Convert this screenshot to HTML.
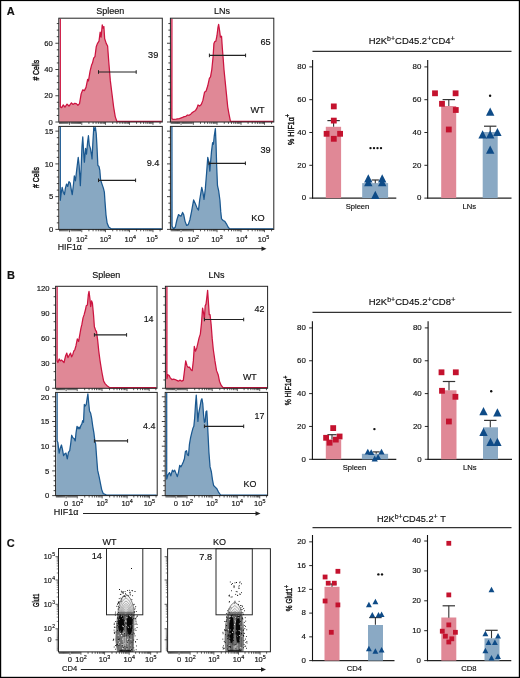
<!DOCTYPE html>
<html><head><meta charset="utf-8"><style>
html,body{margin:0;padding:0;background:#fff;}
body{width:520px;height:678px;overflow:hidden;}
svg{display:block;will-change:transform;}
text{font-family:"Liberation Sans", sans-serif;stroke:#111;stroke-width:0.16px;}
</style></head><body>
<svg width="520" height="678" viewBox="0 0 520 678">
<rect x="0" y="0" width="520" height="678" fill="#fff"/>
<path d="M59.30,122.00 L60.30,18.70 L60.30,106.87 L61.68,107.68 L63.30,104.92 L64.92,107.20 L67.03,104.11 L68.98,106.06 L71.42,102.82 L73.04,104.44 L74.66,103.30 L76.28,103.63 L77.91,105.25 L79.53,103.63 L81.15,93.89 L82.77,89.83 L84.40,90.65 L86.02,87.40 L87.64,79.29 L88.45,80.91 L90.08,71.17 L91.70,64.68 L92.51,63.06 L93.65,58.19 L94.95,56.57 L96.24,46.83 L97.38,43.59 L99.00,41.15 L100.14,32.23 L101.11,37.10 L102.25,24.92 L103.06,28.17 L103.87,26.55 L104.68,38.72 L106.30,43.59 L107.60,46.02 L108.74,61.44 L110.36,80.91 L111.98,93.89 L113.61,106.87 L115.23,116.61 L116.85,121.40 L120.10,121.40 L135.51,121.40 L161.80,121.40 L161.80,122.00 Z" fill="#e08896" stroke="none"/>
<path d="M60.30,18.70 L60.30,106.87 L61.68,107.68 L63.30,104.92 L64.92,107.20 L67.03,104.11 L68.98,106.06 L71.42,102.82 L73.04,104.44 L74.66,103.30 L76.28,103.63 L77.91,105.25 L79.53,103.63 L81.15,93.89 L82.77,89.83 L84.40,90.65 L86.02,87.40 L87.64,79.29 L88.45,80.91 L90.08,71.17 L91.70,64.68 L92.51,63.06 L93.65,58.19 L94.95,56.57 L96.24,46.83 L97.38,43.59 L99.00,41.15 L100.14,32.23 L101.11,37.10 L102.25,24.92 L103.06,28.17 L103.87,26.55 L104.68,38.72 L106.30,43.59 L107.60,46.02 L108.74,61.44 L110.36,80.91 L111.98,93.89 L113.61,106.87 L115.23,116.61 L116.85,121.40 L120.10,121.40 L135.51,121.40 L161.80,121.40" fill="none" stroke="#cc1440" stroke-width="1.25" stroke-linejoin="round"/>
<path d="M170.90,122.00 L171.90,18.70 L171.90,118.56 L172.87,119.37 L176.11,119.04 L179.36,118.56 L182.60,117.42 L184.23,116.61 L185.85,116.28 L187.47,114.99 L189.10,115.31 L190.72,114.17 L192.34,112.55 L193.96,111.42 L195.59,110.44 L197.21,107.68 L198.02,104.92 L199.64,106.06 L201.27,104.44 L202.89,100.38 L204.51,92.27 L206.13,90.97 L207.76,85.78 L209.38,78.47 L210.52,76.85 L211.81,69.55 L213.11,56.57 L213.92,43.59 L214.73,41.64 L215.87,41.15 L217.01,35.47 L217.98,27.36 L218.63,24.44 L219.60,30.60 L220.41,37.10 L221.55,36.28 L222.36,48.45 L223.17,58.19 L223.98,69.55 L225.12,80.91 L226.42,93.89 L227.72,106.87 L228.85,113.36 L230.47,121.40 L232.10,121.40 L247.51,121.40 L273.30,121.40 L273.30,122.00 Z" fill="#e08896" stroke="none"/>
<path d="M171.90,18.70 L171.90,118.56 L172.87,119.37 L176.11,119.04 L179.36,118.56 L182.60,117.42 L184.23,116.61 L185.85,116.28 L187.47,114.99 L189.10,115.31 L190.72,114.17 L192.34,112.55 L193.96,111.42 L195.59,110.44 L197.21,107.68 L198.02,104.92 L199.64,106.06 L201.27,104.44 L202.89,100.38 L204.51,92.27 L206.13,90.97 L207.76,85.78 L209.38,78.47 L210.52,76.85 L211.81,69.55 L213.11,56.57 L213.92,43.59 L214.73,41.64 L215.87,41.15 L217.01,35.47 L217.98,27.36 L218.63,24.44 L219.60,30.60 L220.41,37.10 L221.55,36.28 L222.36,48.45 L223.17,58.19 L223.98,69.55 L225.12,80.91 L226.42,93.89 L227.72,106.87 L228.85,113.36 L230.47,121.40 L232.10,121.40 L247.51,121.40 L273.30,121.40" fill="none" stroke="#cc1440" stroke-width="1.25" stroke-linejoin="round"/>
<path d="M59.30,229.40 L60.30,126.90 L60.30,200.27 L60.87,195.40 L62.17,187.29 L63.30,192.15 L64.44,194.59 L65.41,188.10 L66.55,184.04 L67.68,186.47 L68.98,181.61 L70.28,183.23 L71.42,190.53 L72.23,194.59 L73.53,184.04 L74.34,175.93 L75.47,180.80 L76.77,169.44 L78.23,157.27 L79.20,166.19 L80.34,185.66 L81.15,167.81 L81.96,146.72 L82.77,136.98 L83.59,151.59 L84.40,162.13 L85.53,148.34 L86.51,154.02 L87.64,141.85 L88.45,135.68 L89.27,145.10 L90.40,148.34 L91.38,154.02 L92.02,158.89 L93.00,140.23 L93.81,126.92 L94.62,130.49 L95.43,127.57 L96.24,133.74 L96.89,145.10 L97.87,165.38 L99.00,166.52 L99.81,170.25 L100.62,179.98 L102.25,184.85 L103.38,188.10 L104.36,192.15 L105.01,201.89 L105.98,214.87 L107.12,222.99 L108.74,227.04 L111.17,228.80 L116.04,228.80 L135.51,228.80 L161.80,228.80 L161.80,229.40 Z" fill="#88a8c2" stroke="none"/>
<path d="M60.30,126.90 L60.30,200.27 L60.87,195.40 L62.17,187.29 L63.30,192.15 L64.44,194.59 L65.41,188.10 L66.55,184.04 L67.68,186.47 L68.98,181.61 L70.28,183.23 L71.42,190.53 L72.23,194.59 L73.53,184.04 L74.34,175.93 L75.47,180.80 L76.77,169.44 L78.23,157.27 L79.20,166.19 L80.34,185.66 L81.15,167.81 L81.96,146.72 L82.77,136.98 L83.59,151.59 L84.40,162.13 L85.53,148.34 L86.51,154.02 L87.64,141.85 L88.45,135.68 L89.27,145.10 L90.40,148.34 L91.38,154.02 L92.02,158.89 L93.00,140.23 L93.81,126.92 L94.62,130.49 L95.43,127.57 L96.24,133.74 L96.89,145.10 L97.87,165.38 L99.00,166.52 L99.81,170.25 L100.62,179.98 L102.25,184.85 L103.38,188.10 L104.36,192.15 L105.01,201.89 L105.98,214.87 L107.12,222.99 L108.74,227.04 L111.17,228.80 L116.04,228.80 L135.51,228.80 L161.80,228.80" fill="none" stroke="#1a5890" stroke-width="1.25" stroke-linejoin="round"/>
<path d="M170.90,229.40 L171.90,126.90 L172.06,226.23 L173.68,228.80 L175.30,227.04 L176.92,219.74 L178.55,214.55 L179.68,215.68 L180.98,216.17 L182.60,212.44 L183.74,214.87 L185.04,221.36 L186.66,225.42 L188.28,224.61 L189.91,219.74 L191.53,211.63 L193.64,199.94 L195.26,203.51 L197.21,208.38 L198.51,210.00 L199.64,200.27 L201.75,187.29 L202.89,192.15 L204.02,199.46 L205.32,188.91 L206.62,172.68 L207.76,157.27 L208.89,162.13 L209.87,171.06 L210.52,162.95 L211.49,151.59 L212.62,142.66 L213.44,144.28 L214.25,136.17 L215.38,128.54 L216.03,143.47 L216.68,166.19 L217.49,185.66 L218.63,190.53 L219.93,200.27 L220.74,211.63 L221.55,218.93 L223.17,220.55 L224.80,221.36 L226.42,223.80 L228.04,227.04 L229.66,228.80 L247.51,228.80 L273.30,228.80 L273.30,229.40 Z" fill="#88a8c2" stroke="none"/>
<path d="M171.90,126.90 L172.06,226.23 L173.68,228.80 L175.30,227.04 L176.92,219.74 L178.55,214.55 L179.68,215.68 L180.98,216.17 L182.60,212.44 L183.74,214.87 L185.04,221.36 L186.66,225.42 L188.28,224.61 L189.91,219.74 L191.53,211.63 L193.64,199.94 L195.26,203.51 L197.21,208.38 L198.51,210.00 L199.64,200.27 L201.75,187.29 L202.89,192.15 L204.02,199.46 L205.32,188.91 L206.62,172.68 L207.76,157.27 L208.89,162.13 L209.87,171.06 L210.52,162.95 L211.49,151.59 L212.62,142.66 L213.44,144.28 L214.25,136.17 L215.38,128.54 L216.03,143.47 L216.68,166.19 L217.49,185.66 L218.63,190.53 L219.93,200.27 L220.74,211.63 L221.55,218.93 L223.17,220.55 L224.80,221.36 L226.42,223.80 L228.04,227.04 L229.66,228.80 L247.51,228.80 L273.30,228.80" fill="none" stroke="#1a5890" stroke-width="1.25" stroke-linejoin="round"/>
<path d="M56.10,388.30 L57.10,286.80 L57.10,360.89 L57.87,362.51 L59.17,358.94 L60.30,360.89 L61.44,360.08 L62.74,361.22 L64.03,362.51 L65.66,355.70 L66.79,353.10 L67.93,357.65 L69.23,355.21 L70.53,353.10 L71.66,356.83 L72.80,354.40 L73.77,351.15 L74.91,349.53 L76.04,345.47 L77.34,338.98 L78.64,341.42 L79.77,334.93 L80.91,328.44 L81.88,324.38 L83.02,317.89 L84.16,314.64 L85.45,309.77 L86.27,305.72 L87.40,304.91 L88.38,294.36 L89.02,291.44 L90.00,299.23 L90.65,306.53 L91.62,300.85 L92.43,303.28 L93.57,315.45 L94.38,326.81 L95.52,330.06 L96.49,331.68 L97.62,339.80 L98.76,351.15 L100.06,360.89 L101.36,369.00 L102.49,375.49 L103.63,381.17 L105.25,383.93 L107.36,386.04 L109.80,387.70 L113.04,387.70 L132.51,387.70 L156.50,387.70 L156.50,388.30 Z" fill="#e08896" stroke="none"/>
<path d="M57.10,286.80 L57.10,360.89 L57.87,362.51 L59.17,358.94 L60.30,360.89 L61.44,360.08 L62.74,361.22 L64.03,362.51 L65.66,355.70 L66.79,353.10 L67.93,357.65 L69.23,355.21 L70.53,353.10 L71.66,356.83 L72.80,354.40 L73.77,351.15 L74.91,349.53 L76.04,345.47 L77.34,338.98 L78.64,341.42 L79.77,334.93 L80.91,328.44 L81.88,324.38 L83.02,317.89 L84.16,314.64 L85.45,309.77 L86.27,305.72 L87.40,304.91 L88.38,294.36 L89.02,291.44 L90.00,299.23 L90.65,306.53 L91.62,300.85 L92.43,303.28 L93.57,315.45 L94.38,326.81 L95.52,330.06 L96.49,331.68 L97.62,339.80 L98.76,351.15 L100.06,360.89 L101.36,369.00 L102.49,375.49 L103.63,381.17 L105.25,383.93 L107.36,386.04 L109.80,387.70 L113.04,387.70 L132.51,387.70 L156.50,387.70" fill="none" stroke="#cc1440" stroke-width="1.25" stroke-linejoin="round"/>
<path d="M165.90,388.30 L166.90,286.80 L166.90,378.74 L167.87,374.68 L169.17,375.49 L170.30,377.93 L171.92,379.55 L173.55,379.06 L175.17,379.55 L176.79,380.36 L178.42,381.17 L180.04,380.04 L181.66,381.17 L183.28,380.36 L184.42,371.44 L185.72,360.89 L187.02,365.76 L188.15,367.38 L189.45,367.06 L190.91,369.82 L192.21,370.63 L193.34,360.89 L194.32,346.29 L195.45,351.15 L196.75,347.91 L197.89,343.04 L199.02,338.17 L200.32,334.12 L201.46,323.57 L202.59,308.15 L203.57,313.02 L204.38,318.70 L205.19,305.72 L206.00,304.10 L206.81,297.60 L207.62,290.30 L208.44,302.47 L209.25,314.64 L210.06,314.64 L211.19,325.19 L212.17,338.17 L213.30,349.53 L214.93,360.89 L216.55,370.63 L218.17,374.68 L219.47,381.17 L221.09,385.23 L223.04,387.70 L226.29,387.70 L242.51,387.70 L267.10,387.70 L267.10,388.30 Z" fill="#e08896" stroke="none"/>
<path d="M166.90,286.80 L166.90,378.74 L167.87,374.68 L169.17,375.49 L170.30,377.93 L171.92,379.55 L173.55,379.06 L175.17,379.55 L176.79,380.36 L178.42,381.17 L180.04,380.04 L181.66,381.17 L183.28,380.36 L184.42,371.44 L185.72,360.89 L187.02,365.76 L188.15,367.38 L189.45,367.06 L190.91,369.82 L192.21,370.63 L193.34,360.89 L194.32,346.29 L195.45,351.15 L196.75,347.91 L197.89,343.04 L199.02,338.17 L200.32,334.12 L201.46,323.57 L202.59,308.15 L203.57,313.02 L204.38,318.70 L205.19,305.72 L206.00,304.10 L206.81,297.60 L207.62,290.30 L208.44,302.47 L209.25,314.64 L210.06,314.64 L211.19,325.19 L212.17,338.17 L213.30,349.53 L214.93,360.89 L216.55,370.63 L218.17,374.68 L219.47,381.17 L221.09,385.23 L223.04,387.70 L226.29,387.70 L242.51,387.70 L267.10,387.70" fill="none" stroke="#cc1440" stroke-width="1.25" stroke-linejoin="round"/>
<path d="M56.10,495.60 L57.10,392.90 L57.10,440.93 L57.87,442.55 L59.17,453.10 L60.30,448.23 L61.44,444.98 L62.41,449.04 L63.55,455.53 L64.68,453.91 L65.98,453.10 L67.28,458.78 L68.42,452.29 L69.71,450.66 L70.85,442.55 L71.66,435.25 L72.80,437.68 L74.10,438.49 L75.23,440.93 L76.04,432.81 L77.02,426.32 L78.15,428.76 L78.96,427.13 L79.77,428.76 L80.91,425.51 L81.88,423.89 L82.70,420.64 L83.51,422.27 L84.32,404.42 L85.13,406.04 L86.27,404.42 L87.08,398.74 L87.89,393.87 L88.70,402.79 L89.51,410.91 L90.65,413.34 L91.62,418.21 L92.76,426.32 L93.89,432.81 L94.87,440.93 L95.68,444.17 L96.49,455.53 L97.62,470.14 L99.25,477.44 L100.38,483.12 L101.68,489.61 L103.30,493.67 L106.55,495.00 L132.51,495.00 L156.70,495.00 L156.70,495.60 Z" fill="#88a8c2" stroke="none"/>
<path d="M57.10,392.90 L57.10,440.93 L57.87,442.55 L59.17,453.10 L60.30,448.23 L61.44,444.98 L62.41,449.04 L63.55,455.53 L64.68,453.91 L65.98,453.10 L67.28,458.78 L68.42,452.29 L69.71,450.66 L70.85,442.55 L71.66,435.25 L72.80,437.68 L74.10,438.49 L75.23,440.93 L76.04,432.81 L77.02,426.32 L78.15,428.76 L78.96,427.13 L79.77,428.76 L80.91,425.51 L81.88,423.89 L82.70,420.64 L83.51,422.27 L84.32,404.42 L85.13,406.04 L86.27,404.42 L87.08,398.74 L87.89,393.87 L88.70,402.79 L89.51,410.91 L90.65,413.34 L91.62,418.21 L92.76,426.32 L93.89,432.81 L94.87,440.93 L95.68,444.17 L96.49,455.53 L97.62,470.14 L99.25,477.44 L100.38,483.12 L101.68,489.61 L103.30,493.67 L106.55,495.00 L132.51,495.00 L156.70,495.00" fill="none" stroke="#1a5890" stroke-width="1.25" stroke-linejoin="round"/>
<path d="M165.70,495.60 L166.70,392.90 L166.70,479.06 L167.87,475.00 L169.49,472.57 L170.79,475.82 L172.41,470.14 L173.55,471.76 L174.68,470.14 L175.98,473.38 L177.28,476.63 L178.42,472.57 L179.71,465.27 L180.85,466.89 L182.15,464.46 L183.28,462.02 L184.42,458.78 L185.39,451.47 L186.53,450.66 L187.34,454.72 L188.48,455.53 L189.45,444.17 L190.59,437.68 L191.72,432.81 L193.02,427.95 L193.83,426.32 L194.64,418.21 L195.45,405.23 L196.27,395.17 L197.08,408.47 L197.89,421.45 L198.70,413.34 L200.00,406.85 L201.13,400.36 L201.95,398.74 L202.76,403.60 L203.57,414.96 L204.38,422.27 L205.19,421.45 L206.00,411.72 L206.81,410.91 L207.30,419.83 L207.95,432.81 L208.92,452.29 L210.06,466.89 L211.36,471.76 L212.49,479.87 L213.63,485.55 L215.25,487.17 L216.87,488.80 L218.50,492.04 L220.61,495.00 L224.66,495.00 L242.51,495.00 L267.10,495.00 L267.10,495.60 Z" fill="#88a8c2" stroke="none"/>
<path d="M166.70,392.90 L166.70,479.06 L167.87,475.00 L169.49,472.57 L170.79,475.82 L172.41,470.14 L173.55,471.76 L174.68,470.14 L175.98,473.38 L177.28,476.63 L178.42,472.57 L179.71,465.27 L180.85,466.89 L182.15,464.46 L183.28,462.02 L184.42,458.78 L185.39,451.47 L186.53,450.66 L187.34,454.72 L188.48,455.53 L189.45,444.17 L190.59,437.68 L191.72,432.81 L193.02,427.95 L193.83,426.32 L194.64,418.21 L195.45,405.23 L196.27,395.17 L197.08,408.47 L197.89,421.45 L198.70,413.34 L200.00,406.85 L201.13,400.36 L201.95,398.74 L202.76,403.60 L203.57,414.96 L204.38,422.27 L205.19,421.45 L206.00,411.72 L206.81,410.91 L207.30,419.83 L207.95,432.81 L208.92,452.29 L210.06,466.89 L211.36,471.76 L212.49,479.87 L213.63,485.55 L215.25,487.17 L216.87,488.80 L218.50,492.04 L220.61,495.00 L224.66,495.00 L242.51,495.00 L267.10,495.00" fill="none" stroke="#1a5890" stroke-width="1.25" stroke-linejoin="round"/>
<rect x="58.80" y="18.20" width="103.50" height="103.80" fill="none" stroke="#222" stroke-width="1.0"/>
<rect x="170.40" y="18.20" width="103.40" height="103.80" fill="none" stroke="#222" stroke-width="1.0"/>
<rect x="58.80" y="126.40" width="103.50" height="103.00" fill="none" stroke="#222" stroke-width="1.0"/>
<rect x="170.40" y="126.40" width="103.40" height="103.00" fill="none" stroke="#222" stroke-width="1.0"/>
<rect x="55.60" y="286.30" width="101.40" height="102.00" fill="none" stroke="#222" stroke-width="1.0"/>
<rect x="165.40" y="286.30" width="102.20" height="102.00" fill="none" stroke="#222" stroke-width="1.0"/>
<rect x="55.60" y="392.40" width="101.60" height="103.20" fill="none" stroke="#222" stroke-width="1.0"/>
<rect x="165.20" y="392.40" width="102.40" height="103.20" fill="none" stroke="#222" stroke-width="1.0"/>
<line x1="55.40" y1="122.00" x2="58.80" y2="122.00" stroke="#222" stroke-width="0.85"/>
<line x1="56.80" y1="115.44" x2="58.80" y2="115.44" stroke="#222" stroke-width="0.85"/>
<line x1="56.80" y1="108.88" x2="58.80" y2="108.88" stroke="#222" stroke-width="0.85"/>
<line x1="56.80" y1="102.31" x2="58.80" y2="102.31" stroke="#222" stroke-width="0.85"/>
<line x1="55.40" y1="95.75" x2="58.80" y2="95.75" stroke="#222" stroke-width="0.85"/>
<line x1="56.80" y1="89.19" x2="58.80" y2="89.19" stroke="#222" stroke-width="0.85"/>
<line x1="56.80" y1="82.62" x2="58.80" y2="82.62" stroke="#222" stroke-width="0.85"/>
<line x1="56.80" y1="76.06" x2="58.80" y2="76.06" stroke="#222" stroke-width="0.85"/>
<line x1="55.40" y1="69.50" x2="58.80" y2="69.50" stroke="#222" stroke-width="0.85"/>
<line x1="56.80" y1="62.94" x2="58.80" y2="62.94" stroke="#222" stroke-width="0.85"/>
<line x1="56.80" y1="56.38" x2="58.80" y2="56.38" stroke="#222" stroke-width="0.85"/>
<line x1="56.80" y1="49.81" x2="58.80" y2="49.81" stroke="#222" stroke-width="0.85"/>
<line x1="55.40" y1="43.25" x2="58.80" y2="43.25" stroke="#222" stroke-width="0.85"/>
<line x1="56.80" y1="36.69" x2="58.80" y2="36.69" stroke="#222" stroke-width="0.85"/>
<line x1="56.80" y1="30.12" x2="58.80" y2="30.12" stroke="#222" stroke-width="0.85"/>
<line x1="56.80" y1="23.56" x2="58.80" y2="23.56" stroke="#222" stroke-width="0.85"/>
<text x="52.90" y="124.70" font-size="7.7" text-anchor="end" font-weight="normal" fill="#111" >0</text>
<text x="52.90" y="98.45" font-size="7.7" text-anchor="end" font-weight="normal" fill="#111" >20</text>
<text x="52.90" y="72.20" font-size="7.7" text-anchor="end" font-weight="normal" fill="#111" >40</text>
<text x="52.90" y="45.95" font-size="7.7" text-anchor="end" font-weight="normal" fill="#111" >60</text>
<line x1="55.40" y1="229.40" x2="58.80" y2="229.40" stroke="#222" stroke-width="0.85"/>
<line x1="56.80" y1="222.85" x2="58.80" y2="222.85" stroke="#222" stroke-width="0.85"/>
<line x1="56.80" y1="216.30" x2="58.80" y2="216.30" stroke="#222" stroke-width="0.85"/>
<line x1="56.80" y1="209.75" x2="58.80" y2="209.75" stroke="#222" stroke-width="0.85"/>
<line x1="56.80" y1="203.20" x2="58.80" y2="203.20" stroke="#222" stroke-width="0.85"/>
<line x1="55.40" y1="196.65" x2="58.80" y2="196.65" stroke="#222" stroke-width="0.85"/>
<line x1="56.80" y1="190.10" x2="58.80" y2="190.10" stroke="#222" stroke-width="0.85"/>
<line x1="56.80" y1="183.55" x2="58.80" y2="183.55" stroke="#222" stroke-width="0.85"/>
<line x1="56.80" y1="177.00" x2="58.80" y2="177.00" stroke="#222" stroke-width="0.85"/>
<line x1="56.80" y1="170.45" x2="58.80" y2="170.45" stroke="#222" stroke-width="0.85"/>
<line x1="55.40" y1="163.90" x2="58.80" y2="163.90" stroke="#222" stroke-width="0.85"/>
<line x1="56.80" y1="157.35" x2="58.80" y2="157.35" stroke="#222" stroke-width="0.85"/>
<line x1="56.80" y1="150.80" x2="58.80" y2="150.80" stroke="#222" stroke-width="0.85"/>
<line x1="56.80" y1="144.25" x2="58.80" y2="144.25" stroke="#222" stroke-width="0.85"/>
<line x1="56.80" y1="137.70" x2="58.80" y2="137.70" stroke="#222" stroke-width="0.85"/>
<line x1="55.40" y1="131.15" x2="58.80" y2="131.15" stroke="#222" stroke-width="0.85"/>
<text x="53.20" y="232.10" font-size="7.7" text-anchor="end" font-weight="normal" fill="#111" >0</text>
<text x="53.20" y="199.35" font-size="7.7" text-anchor="end" font-weight="normal" fill="#111" >5</text>
<text x="53.20" y="166.60" font-size="7.7" text-anchor="end" font-weight="normal" fill="#111" >10</text>
<text x="53.20" y="133.85" font-size="7.7" text-anchor="end" font-weight="normal" fill="#111" >15</text>
<line x1="167.00" y1="122.00" x2="170.40" y2="122.00" stroke="#222" stroke-width="0.85"/>
<line x1="168.40" y1="115.44" x2="170.40" y2="115.44" stroke="#222" stroke-width="0.85"/>
<line x1="168.40" y1="108.88" x2="170.40" y2="108.88" stroke="#222" stroke-width="0.85"/>
<line x1="168.40" y1="102.31" x2="170.40" y2="102.31" stroke="#222" stroke-width="0.85"/>
<line x1="167.00" y1="95.75" x2="170.40" y2="95.75" stroke="#222" stroke-width="0.85"/>
<line x1="168.40" y1="89.19" x2="170.40" y2="89.19" stroke="#222" stroke-width="0.85"/>
<line x1="168.40" y1="82.62" x2="170.40" y2="82.62" stroke="#222" stroke-width="0.85"/>
<line x1="168.40" y1="76.06" x2="170.40" y2="76.06" stroke="#222" stroke-width="0.85"/>
<line x1="167.00" y1="69.50" x2="170.40" y2="69.50" stroke="#222" stroke-width="0.85"/>
<line x1="168.40" y1="62.94" x2="170.40" y2="62.94" stroke="#222" stroke-width="0.85"/>
<line x1="168.40" y1="56.38" x2="170.40" y2="56.38" stroke="#222" stroke-width="0.85"/>
<line x1="168.40" y1="49.81" x2="170.40" y2="49.81" stroke="#222" stroke-width="0.85"/>
<line x1="167.00" y1="43.25" x2="170.40" y2="43.25" stroke="#222" stroke-width="0.85"/>
<line x1="168.40" y1="36.69" x2="170.40" y2="36.69" stroke="#222" stroke-width="0.85"/>
<line x1="168.40" y1="30.12" x2="170.40" y2="30.12" stroke="#222" stroke-width="0.85"/>
<line x1="168.40" y1="23.56" x2="170.40" y2="23.56" stroke="#222" stroke-width="0.85"/>
<line x1="167.00" y1="229.40" x2="170.40" y2="229.40" stroke="#222" stroke-width="0.85"/>
<line x1="168.40" y1="222.85" x2="170.40" y2="222.85" stroke="#222" stroke-width="0.85"/>
<line x1="168.40" y1="216.30" x2="170.40" y2="216.30" stroke="#222" stroke-width="0.85"/>
<line x1="168.40" y1="209.75" x2="170.40" y2="209.75" stroke="#222" stroke-width="0.85"/>
<line x1="168.40" y1="203.20" x2="170.40" y2="203.20" stroke="#222" stroke-width="0.85"/>
<line x1="167.00" y1="196.65" x2="170.40" y2="196.65" stroke="#222" stroke-width="0.85"/>
<line x1="168.40" y1="190.10" x2="170.40" y2="190.10" stroke="#222" stroke-width="0.85"/>
<line x1="168.40" y1="183.55" x2="170.40" y2="183.55" stroke="#222" stroke-width="0.85"/>
<line x1="168.40" y1="177.00" x2="170.40" y2="177.00" stroke="#222" stroke-width="0.85"/>
<line x1="168.40" y1="170.45" x2="170.40" y2="170.45" stroke="#222" stroke-width="0.85"/>
<line x1="167.00" y1="163.90" x2="170.40" y2="163.90" stroke="#222" stroke-width="0.85"/>
<line x1="168.40" y1="157.35" x2="170.40" y2="157.35" stroke="#222" stroke-width="0.85"/>
<line x1="168.40" y1="150.80" x2="170.40" y2="150.80" stroke="#222" stroke-width="0.85"/>
<line x1="168.40" y1="144.25" x2="170.40" y2="144.25" stroke="#222" stroke-width="0.85"/>
<line x1="168.40" y1="137.70" x2="170.40" y2="137.70" stroke="#222" stroke-width="0.85"/>
<line x1="167.00" y1="131.15" x2="170.40" y2="131.15" stroke="#222" stroke-width="0.85"/>
<line x1="52.20" y1="388.30" x2="55.60" y2="388.30" stroke="#222" stroke-width="0.85"/>
<line x1="53.60" y1="379.98" x2="55.60" y2="379.98" stroke="#222" stroke-width="0.85"/>
<line x1="53.60" y1="371.65" x2="55.60" y2="371.65" stroke="#222" stroke-width="0.85"/>
<line x1="52.20" y1="363.33" x2="55.60" y2="363.33" stroke="#222" stroke-width="0.85"/>
<line x1="53.60" y1="355.01" x2="55.60" y2="355.01" stroke="#222" stroke-width="0.85"/>
<line x1="53.60" y1="346.68" x2="55.60" y2="346.68" stroke="#222" stroke-width="0.85"/>
<line x1="52.20" y1="338.36" x2="55.60" y2="338.36" stroke="#222" stroke-width="0.85"/>
<line x1="53.60" y1="330.04" x2="55.60" y2="330.04" stroke="#222" stroke-width="0.85"/>
<line x1="53.60" y1="321.71" x2="55.60" y2="321.71" stroke="#222" stroke-width="0.85"/>
<line x1="52.20" y1="313.39" x2="55.60" y2="313.39" stroke="#222" stroke-width="0.85"/>
<line x1="53.60" y1="305.07" x2="55.60" y2="305.07" stroke="#222" stroke-width="0.85"/>
<line x1="53.60" y1="296.74" x2="55.60" y2="296.74" stroke="#222" stroke-width="0.85"/>
<line x1="52.20" y1="288.42" x2="55.60" y2="288.42" stroke="#222" stroke-width="0.85"/>
<text x="49.60" y="391.00" font-size="7.7" text-anchor="end" font-weight="normal" fill="#111" >0</text>
<text x="49.60" y="366.03" font-size="7.7" text-anchor="end" font-weight="normal" fill="#111" >30</text>
<text x="49.60" y="341.06" font-size="7.7" text-anchor="end" font-weight="normal" fill="#111" >60</text>
<text x="49.60" y="316.09" font-size="7.7" text-anchor="end" font-weight="normal" fill="#111" >90</text>
<text x="49.60" y="291.12" font-size="7.7" text-anchor="end" font-weight="normal" fill="#111" >120</text>
<line x1="162.00" y1="388.30" x2="165.40" y2="388.30" stroke="#222" stroke-width="0.85"/>
<line x1="163.40" y1="379.98" x2="165.40" y2="379.98" stroke="#222" stroke-width="0.85"/>
<line x1="163.40" y1="371.65" x2="165.40" y2="371.65" stroke="#222" stroke-width="0.85"/>
<line x1="162.00" y1="363.33" x2="165.40" y2="363.33" stroke="#222" stroke-width="0.85"/>
<line x1="163.40" y1="355.01" x2="165.40" y2="355.01" stroke="#222" stroke-width="0.85"/>
<line x1="163.40" y1="346.68" x2="165.40" y2="346.68" stroke="#222" stroke-width="0.85"/>
<line x1="162.00" y1="338.36" x2="165.40" y2="338.36" stroke="#222" stroke-width="0.85"/>
<line x1="163.40" y1="330.04" x2="165.40" y2="330.04" stroke="#222" stroke-width="0.85"/>
<line x1="163.40" y1="321.71" x2="165.40" y2="321.71" stroke="#222" stroke-width="0.85"/>
<line x1="162.00" y1="313.39" x2="165.40" y2="313.39" stroke="#222" stroke-width="0.85"/>
<line x1="163.40" y1="305.07" x2="165.40" y2="305.07" stroke="#222" stroke-width="0.85"/>
<line x1="163.40" y1="296.74" x2="165.40" y2="296.74" stroke="#222" stroke-width="0.85"/>
<line x1="162.00" y1="288.42" x2="165.40" y2="288.42" stroke="#222" stroke-width="0.85"/>
<line x1="52.20" y1="495.60" x2="55.60" y2="495.60" stroke="#222" stroke-width="0.85"/>
<line x1="53.60" y1="490.66" x2="55.60" y2="490.66" stroke="#222" stroke-width="0.85"/>
<line x1="53.60" y1="485.72" x2="55.60" y2="485.72" stroke="#222" stroke-width="0.85"/>
<line x1="53.60" y1="480.78" x2="55.60" y2="480.78" stroke="#222" stroke-width="0.85"/>
<line x1="53.60" y1="475.84" x2="55.60" y2="475.84" stroke="#222" stroke-width="0.85"/>
<line x1="52.20" y1="470.90" x2="55.60" y2="470.90" stroke="#222" stroke-width="0.85"/>
<line x1="53.60" y1="465.96" x2="55.60" y2="465.96" stroke="#222" stroke-width="0.85"/>
<line x1="53.60" y1="461.02" x2="55.60" y2="461.02" stroke="#222" stroke-width="0.85"/>
<line x1="53.60" y1="456.08" x2="55.60" y2="456.08" stroke="#222" stroke-width="0.85"/>
<line x1="53.60" y1="451.14" x2="55.60" y2="451.14" stroke="#222" stroke-width="0.85"/>
<line x1="52.20" y1="446.20" x2="55.60" y2="446.20" stroke="#222" stroke-width="0.85"/>
<line x1="53.60" y1="441.26" x2="55.60" y2="441.26" stroke="#222" stroke-width="0.85"/>
<line x1="53.60" y1="436.32" x2="55.60" y2="436.32" stroke="#222" stroke-width="0.85"/>
<line x1="53.60" y1="431.38" x2="55.60" y2="431.38" stroke="#222" stroke-width="0.85"/>
<line x1="53.60" y1="426.44" x2="55.60" y2="426.44" stroke="#222" stroke-width="0.85"/>
<line x1="52.20" y1="421.50" x2="55.60" y2="421.50" stroke="#222" stroke-width="0.85"/>
<line x1="53.60" y1="416.56" x2="55.60" y2="416.56" stroke="#222" stroke-width="0.85"/>
<line x1="53.60" y1="411.62" x2="55.60" y2="411.62" stroke="#222" stroke-width="0.85"/>
<line x1="53.60" y1="406.68" x2="55.60" y2="406.68" stroke="#222" stroke-width="0.85"/>
<line x1="53.60" y1="401.74" x2="55.60" y2="401.74" stroke="#222" stroke-width="0.85"/>
<line x1="52.20" y1="396.80" x2="55.60" y2="396.80" stroke="#222" stroke-width="0.85"/>
<text x="49.40" y="498.30" font-size="7.7" text-anchor="end" font-weight="normal" fill="#111" >0</text>
<text x="49.40" y="473.60" font-size="7.7" text-anchor="end" font-weight="normal" fill="#111" >5</text>
<text x="49.40" y="448.90" font-size="7.7" text-anchor="end" font-weight="normal" fill="#111" >10</text>
<text x="49.40" y="424.20" font-size="7.7" text-anchor="end" font-weight="normal" fill="#111" >15</text>
<text x="49.40" y="399.50" font-size="7.7" text-anchor="end" font-weight="normal" fill="#111" >20</text>
<line x1="161.80" y1="495.60" x2="165.20" y2="495.60" stroke="#222" stroke-width="0.85"/>
<line x1="163.20" y1="490.66" x2="165.20" y2="490.66" stroke="#222" stroke-width="0.85"/>
<line x1="163.20" y1="485.72" x2="165.20" y2="485.72" stroke="#222" stroke-width="0.85"/>
<line x1="163.20" y1="480.78" x2="165.20" y2="480.78" stroke="#222" stroke-width="0.85"/>
<line x1="163.20" y1="475.84" x2="165.20" y2="475.84" stroke="#222" stroke-width="0.85"/>
<line x1="161.80" y1="470.90" x2="165.20" y2="470.90" stroke="#222" stroke-width="0.85"/>
<line x1="163.20" y1="465.96" x2="165.20" y2="465.96" stroke="#222" stroke-width="0.85"/>
<line x1="163.20" y1="461.02" x2="165.20" y2="461.02" stroke="#222" stroke-width="0.85"/>
<line x1="163.20" y1="456.08" x2="165.20" y2="456.08" stroke="#222" stroke-width="0.85"/>
<line x1="163.20" y1="451.14" x2="165.20" y2="451.14" stroke="#222" stroke-width="0.85"/>
<line x1="161.80" y1="446.20" x2="165.20" y2="446.20" stroke="#222" stroke-width="0.85"/>
<line x1="163.20" y1="441.26" x2="165.20" y2="441.26" stroke="#222" stroke-width="0.85"/>
<line x1="163.20" y1="436.32" x2="165.20" y2="436.32" stroke="#222" stroke-width="0.85"/>
<line x1="163.20" y1="431.38" x2="165.20" y2="431.38" stroke="#222" stroke-width="0.85"/>
<line x1="163.20" y1="426.44" x2="165.20" y2="426.44" stroke="#222" stroke-width="0.85"/>
<line x1="161.80" y1="421.50" x2="165.20" y2="421.50" stroke="#222" stroke-width="0.85"/>
<line x1="163.20" y1="416.56" x2="165.20" y2="416.56" stroke="#222" stroke-width="0.85"/>
<line x1="163.20" y1="411.62" x2="165.20" y2="411.62" stroke="#222" stroke-width="0.85"/>
<line x1="163.20" y1="406.68" x2="165.20" y2="406.68" stroke="#222" stroke-width="0.85"/>
<line x1="163.20" y1="401.74" x2="165.20" y2="401.74" stroke="#222" stroke-width="0.85"/>
<line x1="161.80" y1="396.80" x2="165.20" y2="396.80" stroke="#222" stroke-width="0.85"/>
<line x1="59.60" y1="122.00" x2="59.60" y2="123.90" stroke="#222" stroke-width="0.75"/>
<line x1="60.65" y1="122.00" x2="60.65" y2="123.90" stroke="#222" stroke-width="0.75"/>
<line x1="61.70" y1="122.00" x2="61.70" y2="123.90" stroke="#222" stroke-width="0.75"/>
<line x1="62.75" y1="122.00" x2="62.75" y2="123.90" stroke="#222" stroke-width="0.75"/>
<line x1="63.80" y1="122.00" x2="63.80" y2="123.90" stroke="#222" stroke-width="0.75"/>
<line x1="64.85" y1="122.00" x2="64.85" y2="123.90" stroke="#222" stroke-width="0.75"/>
<line x1="65.90" y1="122.00" x2="65.90" y2="123.90" stroke="#222" stroke-width="0.75"/>
<line x1="66.95" y1="122.00" x2="66.95" y2="123.90" stroke="#222" stroke-width="0.75"/>
<line x1="68.00" y1="122.00" x2="68.00" y2="123.90" stroke="#222" stroke-width="0.75"/>
<line x1="69.46" y1="122.00" x2="69.46" y2="124.80" stroke="#222" stroke-width="0.75"/>
<line x1="71.06" y1="122.00" x2="71.06" y2="123.90" stroke="#222" stroke-width="0.75"/>
<line x1="72.11" y1="122.00" x2="72.11" y2="123.90" stroke="#222" stroke-width="0.75"/>
<line x1="73.16" y1="122.00" x2="73.16" y2="123.90" stroke="#222" stroke-width="0.75"/>
<line x1="74.21" y1="122.00" x2="74.21" y2="123.90" stroke="#222" stroke-width="0.75"/>
<line x1="75.26" y1="122.00" x2="75.26" y2="123.90" stroke="#222" stroke-width="0.75"/>
<line x1="76.31" y1="122.00" x2="76.31" y2="123.90" stroke="#222" stroke-width="0.75"/>
<line x1="77.36" y1="122.00" x2="77.36" y2="123.90" stroke="#222" stroke-width="0.75"/>
<line x1="78.41" y1="122.00" x2="78.41" y2="123.90" stroke="#222" stroke-width="0.75"/>
<line x1="79.46" y1="122.00" x2="79.46" y2="123.90" stroke="#222" stroke-width="0.75"/>
<line x1="80.51" y1="122.00" x2="80.51" y2="123.90" stroke="#222" stroke-width="0.75"/>
<line x1="88.91" y1="122.00" x2="88.91" y2="123.90" stroke="#222" stroke-width="0.75"/>
<line x1="93.09" y1="122.00" x2="93.09" y2="123.90" stroke="#222" stroke-width="0.75"/>
<line x1="96.05" y1="122.00" x2="96.05" y2="123.90" stroke="#222" stroke-width="0.75"/>
<line x1="98.34" y1="122.00" x2="98.34" y2="123.90" stroke="#222" stroke-width="0.75"/>
<line x1="100.22" y1="122.00" x2="100.22" y2="123.90" stroke="#222" stroke-width="0.75"/>
<line x1="101.81" y1="122.00" x2="101.81" y2="123.90" stroke="#222" stroke-width="0.75"/>
<line x1="103.18" y1="122.00" x2="103.18" y2="123.90" stroke="#222" stroke-width="0.75"/>
<line x1="104.39" y1="122.00" x2="104.39" y2="123.90" stroke="#222" stroke-width="0.75"/>
<line x1="112.71" y1="122.00" x2="112.71" y2="123.90" stroke="#222" stroke-width="0.75"/>
<line x1="116.94" y1="122.00" x2="116.94" y2="123.90" stroke="#222" stroke-width="0.75"/>
<line x1="119.94" y1="122.00" x2="119.94" y2="123.90" stroke="#222" stroke-width="0.75"/>
<line x1="122.26" y1="122.00" x2="122.26" y2="123.90" stroke="#222" stroke-width="0.75"/>
<line x1="124.16" y1="122.00" x2="124.16" y2="123.90" stroke="#222" stroke-width="0.75"/>
<line x1="125.77" y1="122.00" x2="125.77" y2="123.90" stroke="#222" stroke-width="0.75"/>
<line x1="127.16" y1="122.00" x2="127.16" y2="123.90" stroke="#222" stroke-width="0.75"/>
<line x1="128.39" y1="122.00" x2="128.39" y2="123.90" stroke="#222" stroke-width="0.75"/>
<line x1="136.56" y1="122.00" x2="136.56" y2="123.90" stroke="#222" stroke-width="0.75"/>
<line x1="140.70" y1="122.00" x2="140.70" y2="123.90" stroke="#222" stroke-width="0.75"/>
<line x1="143.64" y1="122.00" x2="143.64" y2="123.90" stroke="#222" stroke-width="0.75"/>
<line x1="145.91" y1="122.00" x2="145.91" y2="123.90" stroke="#222" stroke-width="0.75"/>
<line x1="147.77" y1="122.00" x2="147.77" y2="123.90" stroke="#222" stroke-width="0.75"/>
<line x1="149.35" y1="122.00" x2="149.35" y2="123.90" stroke="#222" stroke-width="0.75"/>
<line x1="150.71" y1="122.00" x2="150.71" y2="123.90" stroke="#222" stroke-width="0.75"/>
<line x1="151.91" y1="122.00" x2="151.91" y2="123.90" stroke="#222" stroke-width="0.75"/>
<line x1="81.78" y1="122.00" x2="81.78" y2="124.80" stroke="#222" stroke-width="0.75"/>
<line x1="105.48" y1="122.00" x2="105.48" y2="124.80" stroke="#222" stroke-width="0.75"/>
<line x1="129.49" y1="122.00" x2="129.49" y2="124.80" stroke="#222" stroke-width="0.75"/>
<line x1="152.99" y1="122.00" x2="152.99" y2="124.80" stroke="#222" stroke-width="0.75"/>
<line x1="160.06" y1="122.00" x2="160.06" y2="123.90" stroke="#222" stroke-width="0.75"/>
<line x1="171.20" y1="122.00" x2="171.20" y2="123.90" stroke="#222" stroke-width="0.75"/>
<line x1="172.25" y1="122.00" x2="172.25" y2="123.90" stroke="#222" stroke-width="0.75"/>
<line x1="173.30" y1="122.00" x2="173.30" y2="123.90" stroke="#222" stroke-width="0.75"/>
<line x1="174.35" y1="122.00" x2="174.35" y2="123.90" stroke="#222" stroke-width="0.75"/>
<line x1="175.40" y1="122.00" x2="175.40" y2="123.90" stroke="#222" stroke-width="0.75"/>
<line x1="176.45" y1="122.00" x2="176.45" y2="123.90" stroke="#222" stroke-width="0.75"/>
<line x1="177.50" y1="122.00" x2="177.50" y2="123.90" stroke="#222" stroke-width="0.75"/>
<line x1="178.55" y1="122.00" x2="178.55" y2="123.90" stroke="#222" stroke-width="0.75"/>
<line x1="179.60" y1="122.00" x2="179.60" y2="123.90" stroke="#222" stroke-width="0.75"/>
<line x1="181.05" y1="122.00" x2="181.05" y2="124.80" stroke="#222" stroke-width="0.75"/>
<line x1="182.65" y1="122.00" x2="182.65" y2="123.90" stroke="#222" stroke-width="0.75"/>
<line x1="183.70" y1="122.00" x2="183.70" y2="123.90" stroke="#222" stroke-width="0.75"/>
<line x1="184.75" y1="122.00" x2="184.75" y2="123.90" stroke="#222" stroke-width="0.75"/>
<line x1="185.80" y1="122.00" x2="185.80" y2="123.90" stroke="#222" stroke-width="0.75"/>
<line x1="186.85" y1="122.00" x2="186.85" y2="123.90" stroke="#222" stroke-width="0.75"/>
<line x1="187.90" y1="122.00" x2="187.90" y2="123.90" stroke="#222" stroke-width="0.75"/>
<line x1="188.95" y1="122.00" x2="188.95" y2="123.90" stroke="#222" stroke-width="0.75"/>
<line x1="190.00" y1="122.00" x2="190.00" y2="123.90" stroke="#222" stroke-width="0.75"/>
<line x1="191.05" y1="122.00" x2="191.05" y2="123.90" stroke="#222" stroke-width="0.75"/>
<line x1="192.10" y1="122.00" x2="192.10" y2="123.90" stroke="#222" stroke-width="0.75"/>
<line x1="200.48" y1="122.00" x2="200.48" y2="123.90" stroke="#222" stroke-width="0.75"/>
<line x1="204.65" y1="122.00" x2="204.65" y2="123.90" stroke="#222" stroke-width="0.75"/>
<line x1="207.61" y1="122.00" x2="207.61" y2="123.90" stroke="#222" stroke-width="0.75"/>
<line x1="209.91" y1="122.00" x2="209.91" y2="123.90" stroke="#222" stroke-width="0.75"/>
<line x1="211.78" y1="122.00" x2="211.78" y2="123.90" stroke="#222" stroke-width="0.75"/>
<line x1="213.37" y1="122.00" x2="213.37" y2="123.90" stroke="#222" stroke-width="0.75"/>
<line x1="214.74" y1="122.00" x2="214.74" y2="123.90" stroke="#222" stroke-width="0.75"/>
<line x1="215.95" y1="122.00" x2="215.95" y2="123.90" stroke="#222" stroke-width="0.75"/>
<line x1="224.25" y1="122.00" x2="224.25" y2="123.90" stroke="#222" stroke-width="0.75"/>
<line x1="228.48" y1="122.00" x2="228.48" y2="123.90" stroke="#222" stroke-width="0.75"/>
<line x1="231.48" y1="122.00" x2="231.48" y2="123.90" stroke="#222" stroke-width="0.75"/>
<line x1="233.80" y1="122.00" x2="233.80" y2="123.90" stroke="#222" stroke-width="0.75"/>
<line x1="235.70" y1="122.00" x2="235.70" y2="123.90" stroke="#222" stroke-width="0.75"/>
<line x1="237.31" y1="122.00" x2="237.31" y2="123.90" stroke="#222" stroke-width="0.75"/>
<line x1="238.70" y1="122.00" x2="238.70" y2="123.90" stroke="#222" stroke-width="0.75"/>
<line x1="239.92" y1="122.00" x2="239.92" y2="123.90" stroke="#222" stroke-width="0.75"/>
<line x1="248.09" y1="122.00" x2="248.09" y2="123.90" stroke="#222" stroke-width="0.75"/>
<line x1="252.22" y1="122.00" x2="252.22" y2="123.90" stroke="#222" stroke-width="0.75"/>
<line x1="255.15" y1="122.00" x2="255.15" y2="123.90" stroke="#222" stroke-width="0.75"/>
<line x1="257.43" y1="122.00" x2="257.43" y2="123.90" stroke="#222" stroke-width="0.75"/>
<line x1="259.29" y1="122.00" x2="259.29" y2="123.90" stroke="#222" stroke-width="0.75"/>
<line x1="260.86" y1="122.00" x2="260.86" y2="123.90" stroke="#222" stroke-width="0.75"/>
<line x1="262.22" y1="122.00" x2="262.22" y2="123.90" stroke="#222" stroke-width="0.75"/>
<line x1="263.42" y1="122.00" x2="263.42" y2="123.90" stroke="#222" stroke-width="0.75"/>
<line x1="193.35" y1="122.00" x2="193.35" y2="124.80" stroke="#222" stroke-width="0.75"/>
<line x1="217.03" y1="122.00" x2="217.03" y2="124.80" stroke="#222" stroke-width="0.75"/>
<line x1="241.02" y1="122.00" x2="241.02" y2="124.80" stroke="#222" stroke-width="0.75"/>
<line x1="264.49" y1="122.00" x2="264.49" y2="124.80" stroke="#222" stroke-width="0.75"/>
<line x1="271.56" y1="122.00" x2="271.56" y2="123.90" stroke="#222" stroke-width="0.75"/>
<line x1="59.60" y1="229.40" x2="59.60" y2="231.30" stroke="#222" stroke-width="0.75"/>
<line x1="60.65" y1="229.40" x2="60.65" y2="231.30" stroke="#222" stroke-width="0.75"/>
<line x1="61.70" y1="229.40" x2="61.70" y2="231.30" stroke="#222" stroke-width="0.75"/>
<line x1="62.75" y1="229.40" x2="62.75" y2="231.30" stroke="#222" stroke-width="0.75"/>
<line x1="63.80" y1="229.40" x2="63.80" y2="231.30" stroke="#222" stroke-width="0.75"/>
<line x1="64.85" y1="229.40" x2="64.85" y2="231.30" stroke="#222" stroke-width="0.75"/>
<line x1="65.90" y1="229.40" x2="65.90" y2="231.30" stroke="#222" stroke-width="0.75"/>
<line x1="66.95" y1="229.40" x2="66.95" y2="231.30" stroke="#222" stroke-width="0.75"/>
<line x1="68.00" y1="229.40" x2="68.00" y2="231.30" stroke="#222" stroke-width="0.75"/>
<line x1="69.46" y1="229.40" x2="69.46" y2="232.20" stroke="#222" stroke-width="0.75"/>
<line x1="71.06" y1="229.40" x2="71.06" y2="231.30" stroke="#222" stroke-width="0.75"/>
<line x1="72.11" y1="229.40" x2="72.11" y2="231.30" stroke="#222" stroke-width="0.75"/>
<line x1="73.16" y1="229.40" x2="73.16" y2="231.30" stroke="#222" stroke-width="0.75"/>
<line x1="74.21" y1="229.40" x2="74.21" y2="231.30" stroke="#222" stroke-width="0.75"/>
<line x1="75.26" y1="229.40" x2="75.26" y2="231.30" stroke="#222" stroke-width="0.75"/>
<line x1="76.31" y1="229.40" x2="76.31" y2="231.30" stroke="#222" stroke-width="0.75"/>
<line x1="77.36" y1="229.40" x2="77.36" y2="231.30" stroke="#222" stroke-width="0.75"/>
<line x1="78.41" y1="229.40" x2="78.41" y2="231.30" stroke="#222" stroke-width="0.75"/>
<line x1="79.46" y1="229.40" x2="79.46" y2="231.30" stroke="#222" stroke-width="0.75"/>
<line x1="80.51" y1="229.40" x2="80.51" y2="231.30" stroke="#222" stroke-width="0.75"/>
<line x1="88.91" y1="229.40" x2="88.91" y2="231.30" stroke="#222" stroke-width="0.75"/>
<line x1="93.09" y1="229.40" x2="93.09" y2="231.30" stroke="#222" stroke-width="0.75"/>
<line x1="96.05" y1="229.40" x2="96.05" y2="231.30" stroke="#222" stroke-width="0.75"/>
<line x1="98.34" y1="229.40" x2="98.34" y2="231.30" stroke="#222" stroke-width="0.75"/>
<line x1="100.22" y1="229.40" x2="100.22" y2="231.30" stroke="#222" stroke-width="0.75"/>
<line x1="101.81" y1="229.40" x2="101.81" y2="231.30" stroke="#222" stroke-width="0.75"/>
<line x1="103.18" y1="229.40" x2="103.18" y2="231.30" stroke="#222" stroke-width="0.75"/>
<line x1="104.39" y1="229.40" x2="104.39" y2="231.30" stroke="#222" stroke-width="0.75"/>
<line x1="112.71" y1="229.40" x2="112.71" y2="231.30" stroke="#222" stroke-width="0.75"/>
<line x1="116.94" y1="229.40" x2="116.94" y2="231.30" stroke="#222" stroke-width="0.75"/>
<line x1="119.94" y1="229.40" x2="119.94" y2="231.30" stroke="#222" stroke-width="0.75"/>
<line x1="122.26" y1="229.40" x2="122.26" y2="231.30" stroke="#222" stroke-width="0.75"/>
<line x1="124.16" y1="229.40" x2="124.16" y2="231.30" stroke="#222" stroke-width="0.75"/>
<line x1="125.77" y1="229.40" x2="125.77" y2="231.30" stroke="#222" stroke-width="0.75"/>
<line x1="127.16" y1="229.40" x2="127.16" y2="231.30" stroke="#222" stroke-width="0.75"/>
<line x1="128.39" y1="229.40" x2="128.39" y2="231.30" stroke="#222" stroke-width="0.75"/>
<line x1="136.56" y1="229.40" x2="136.56" y2="231.30" stroke="#222" stroke-width="0.75"/>
<line x1="140.70" y1="229.40" x2="140.70" y2="231.30" stroke="#222" stroke-width="0.75"/>
<line x1="143.64" y1="229.40" x2="143.64" y2="231.30" stroke="#222" stroke-width="0.75"/>
<line x1="145.91" y1="229.40" x2="145.91" y2="231.30" stroke="#222" stroke-width="0.75"/>
<line x1="147.77" y1="229.40" x2="147.77" y2="231.30" stroke="#222" stroke-width="0.75"/>
<line x1="149.35" y1="229.40" x2="149.35" y2="231.30" stroke="#222" stroke-width="0.75"/>
<line x1="150.71" y1="229.40" x2="150.71" y2="231.30" stroke="#222" stroke-width="0.75"/>
<line x1="151.91" y1="229.40" x2="151.91" y2="231.30" stroke="#222" stroke-width="0.75"/>
<line x1="81.78" y1="229.40" x2="81.78" y2="232.20" stroke="#222" stroke-width="0.75"/>
<line x1="105.48" y1="229.40" x2="105.48" y2="232.20" stroke="#222" stroke-width="0.75"/>
<line x1="129.49" y1="229.40" x2="129.49" y2="232.20" stroke="#222" stroke-width="0.75"/>
<line x1="152.99" y1="229.40" x2="152.99" y2="232.20" stroke="#222" stroke-width="0.75"/>
<line x1="160.06" y1="229.40" x2="160.06" y2="231.30" stroke="#222" stroke-width="0.75"/>
<line x1="171.20" y1="229.40" x2="171.20" y2="231.30" stroke="#222" stroke-width="0.75"/>
<line x1="172.25" y1="229.40" x2="172.25" y2="231.30" stroke="#222" stroke-width="0.75"/>
<line x1="173.30" y1="229.40" x2="173.30" y2="231.30" stroke="#222" stroke-width="0.75"/>
<line x1="174.35" y1="229.40" x2="174.35" y2="231.30" stroke="#222" stroke-width="0.75"/>
<line x1="175.40" y1="229.40" x2="175.40" y2="231.30" stroke="#222" stroke-width="0.75"/>
<line x1="176.45" y1="229.40" x2="176.45" y2="231.30" stroke="#222" stroke-width="0.75"/>
<line x1="177.50" y1="229.40" x2="177.50" y2="231.30" stroke="#222" stroke-width="0.75"/>
<line x1="178.55" y1="229.40" x2="178.55" y2="231.30" stroke="#222" stroke-width="0.75"/>
<line x1="179.60" y1="229.40" x2="179.60" y2="231.30" stroke="#222" stroke-width="0.75"/>
<line x1="181.05" y1="229.40" x2="181.05" y2="232.20" stroke="#222" stroke-width="0.75"/>
<line x1="182.65" y1="229.40" x2="182.65" y2="231.30" stroke="#222" stroke-width="0.75"/>
<line x1="183.70" y1="229.40" x2="183.70" y2="231.30" stroke="#222" stroke-width="0.75"/>
<line x1="184.75" y1="229.40" x2="184.75" y2="231.30" stroke="#222" stroke-width="0.75"/>
<line x1="185.80" y1="229.40" x2="185.80" y2="231.30" stroke="#222" stroke-width="0.75"/>
<line x1="186.85" y1="229.40" x2="186.85" y2="231.30" stroke="#222" stroke-width="0.75"/>
<line x1="187.90" y1="229.40" x2="187.90" y2="231.30" stroke="#222" stroke-width="0.75"/>
<line x1="188.95" y1="229.40" x2="188.95" y2="231.30" stroke="#222" stroke-width="0.75"/>
<line x1="190.00" y1="229.40" x2="190.00" y2="231.30" stroke="#222" stroke-width="0.75"/>
<line x1="191.05" y1="229.40" x2="191.05" y2="231.30" stroke="#222" stroke-width="0.75"/>
<line x1="192.10" y1="229.40" x2="192.10" y2="231.30" stroke="#222" stroke-width="0.75"/>
<line x1="200.48" y1="229.40" x2="200.48" y2="231.30" stroke="#222" stroke-width="0.75"/>
<line x1="204.65" y1="229.40" x2="204.65" y2="231.30" stroke="#222" stroke-width="0.75"/>
<line x1="207.61" y1="229.40" x2="207.61" y2="231.30" stroke="#222" stroke-width="0.75"/>
<line x1="209.91" y1="229.40" x2="209.91" y2="231.30" stroke="#222" stroke-width="0.75"/>
<line x1="211.78" y1="229.40" x2="211.78" y2="231.30" stroke="#222" stroke-width="0.75"/>
<line x1="213.37" y1="229.40" x2="213.37" y2="231.30" stroke="#222" stroke-width="0.75"/>
<line x1="214.74" y1="229.40" x2="214.74" y2="231.30" stroke="#222" stroke-width="0.75"/>
<line x1="215.95" y1="229.40" x2="215.95" y2="231.30" stroke="#222" stroke-width="0.75"/>
<line x1="224.25" y1="229.40" x2="224.25" y2="231.30" stroke="#222" stroke-width="0.75"/>
<line x1="228.48" y1="229.40" x2="228.48" y2="231.30" stroke="#222" stroke-width="0.75"/>
<line x1="231.48" y1="229.40" x2="231.48" y2="231.30" stroke="#222" stroke-width="0.75"/>
<line x1="233.80" y1="229.40" x2="233.80" y2="231.30" stroke="#222" stroke-width="0.75"/>
<line x1="235.70" y1="229.40" x2="235.70" y2="231.30" stroke="#222" stroke-width="0.75"/>
<line x1="237.31" y1="229.40" x2="237.31" y2="231.30" stroke="#222" stroke-width="0.75"/>
<line x1="238.70" y1="229.40" x2="238.70" y2="231.30" stroke="#222" stroke-width="0.75"/>
<line x1="239.92" y1="229.40" x2="239.92" y2="231.30" stroke="#222" stroke-width="0.75"/>
<line x1="248.09" y1="229.40" x2="248.09" y2="231.30" stroke="#222" stroke-width="0.75"/>
<line x1="252.22" y1="229.40" x2="252.22" y2="231.30" stroke="#222" stroke-width="0.75"/>
<line x1="255.15" y1="229.40" x2="255.15" y2="231.30" stroke="#222" stroke-width="0.75"/>
<line x1="257.43" y1="229.40" x2="257.43" y2="231.30" stroke="#222" stroke-width="0.75"/>
<line x1="259.29" y1="229.40" x2="259.29" y2="231.30" stroke="#222" stroke-width="0.75"/>
<line x1="260.86" y1="229.40" x2="260.86" y2="231.30" stroke="#222" stroke-width="0.75"/>
<line x1="262.22" y1="229.40" x2="262.22" y2="231.30" stroke="#222" stroke-width="0.75"/>
<line x1="263.42" y1="229.40" x2="263.42" y2="231.30" stroke="#222" stroke-width="0.75"/>
<line x1="193.35" y1="229.40" x2="193.35" y2="232.20" stroke="#222" stroke-width="0.75"/>
<line x1="217.03" y1="229.40" x2="217.03" y2="232.20" stroke="#222" stroke-width="0.75"/>
<line x1="241.02" y1="229.40" x2="241.02" y2="232.20" stroke="#222" stroke-width="0.75"/>
<line x1="264.49" y1="229.40" x2="264.49" y2="232.20" stroke="#222" stroke-width="0.75"/>
<line x1="271.56" y1="229.40" x2="271.56" y2="231.30" stroke="#222" stroke-width="0.75"/>
<line x1="56.40" y1="388.30" x2="56.40" y2="390.20" stroke="#222" stroke-width="0.75"/>
<line x1="57.45" y1="388.30" x2="57.45" y2="390.20" stroke="#222" stroke-width="0.75"/>
<line x1="58.50" y1="388.30" x2="58.50" y2="390.20" stroke="#222" stroke-width="0.75"/>
<line x1="59.55" y1="388.30" x2="59.55" y2="390.20" stroke="#222" stroke-width="0.75"/>
<line x1="60.60" y1="388.30" x2="60.60" y2="390.20" stroke="#222" stroke-width="0.75"/>
<line x1="61.65" y1="388.30" x2="61.65" y2="390.20" stroke="#222" stroke-width="0.75"/>
<line x1="62.70" y1="388.30" x2="62.70" y2="390.20" stroke="#222" stroke-width="0.75"/>
<line x1="63.75" y1="388.30" x2="63.75" y2="390.20" stroke="#222" stroke-width="0.75"/>
<line x1="64.80" y1="388.30" x2="64.80" y2="390.20" stroke="#222" stroke-width="0.75"/>
<line x1="66.15" y1="388.30" x2="66.15" y2="391.10" stroke="#222" stroke-width="0.75"/>
<line x1="67.75" y1="388.30" x2="67.75" y2="390.20" stroke="#222" stroke-width="0.75"/>
<line x1="68.80" y1="388.30" x2="68.80" y2="390.20" stroke="#222" stroke-width="0.75"/>
<line x1="69.85" y1="388.30" x2="69.85" y2="390.20" stroke="#222" stroke-width="0.75"/>
<line x1="70.90" y1="388.30" x2="70.90" y2="390.20" stroke="#222" stroke-width="0.75"/>
<line x1="71.95" y1="388.30" x2="71.95" y2="390.20" stroke="#222" stroke-width="0.75"/>
<line x1="73.00" y1="388.30" x2="73.00" y2="390.20" stroke="#222" stroke-width="0.75"/>
<line x1="74.05" y1="388.30" x2="74.05" y2="390.20" stroke="#222" stroke-width="0.75"/>
<line x1="75.10" y1="388.30" x2="75.10" y2="390.20" stroke="#222" stroke-width="0.75"/>
<line x1="76.15" y1="388.30" x2="76.15" y2="390.20" stroke="#222" stroke-width="0.75"/>
<line x1="84.68" y1="388.30" x2="84.68" y2="390.20" stroke="#222" stroke-width="0.75"/>
<line x1="89.05" y1="388.30" x2="89.05" y2="390.20" stroke="#222" stroke-width="0.75"/>
<line x1="92.16" y1="388.30" x2="92.16" y2="390.20" stroke="#222" stroke-width="0.75"/>
<line x1="94.56" y1="388.30" x2="94.56" y2="390.20" stroke="#222" stroke-width="0.75"/>
<line x1="96.53" y1="388.30" x2="96.53" y2="390.20" stroke="#222" stroke-width="0.75"/>
<line x1="98.19" y1="388.30" x2="98.19" y2="390.20" stroke="#222" stroke-width="0.75"/>
<line x1="99.63" y1="388.30" x2="99.63" y2="390.20" stroke="#222" stroke-width="0.75"/>
<line x1="100.90" y1="388.30" x2="100.90" y2="390.20" stroke="#222" stroke-width="0.75"/>
<line x1="109.55" y1="388.30" x2="109.55" y2="390.20" stroke="#222" stroke-width="0.75"/>
<line x1="113.94" y1="388.30" x2="113.94" y2="390.20" stroke="#222" stroke-width="0.75"/>
<line x1="117.06" y1="388.30" x2="117.06" y2="390.20" stroke="#222" stroke-width="0.75"/>
<line x1="119.48" y1="388.30" x2="119.48" y2="390.20" stroke="#222" stroke-width="0.75"/>
<line x1="121.45" y1="388.30" x2="121.45" y2="390.20" stroke="#222" stroke-width="0.75"/>
<line x1="123.12" y1="388.30" x2="123.12" y2="390.20" stroke="#222" stroke-width="0.75"/>
<line x1="124.57" y1="388.30" x2="124.57" y2="390.20" stroke="#222" stroke-width="0.75"/>
<line x1="125.84" y1="388.30" x2="125.84" y2="390.20" stroke="#222" stroke-width="0.75"/>
<line x1="133.67" y1="388.30" x2="133.67" y2="390.20" stroke="#222" stroke-width="0.75"/>
<line x1="137.58" y1="388.30" x2="137.58" y2="390.20" stroke="#222" stroke-width="0.75"/>
<line x1="140.36" y1="388.30" x2="140.36" y2="390.20" stroke="#222" stroke-width="0.75"/>
<line x1="142.51" y1="388.30" x2="142.51" y2="390.20" stroke="#222" stroke-width="0.75"/>
<line x1="144.27" y1="388.30" x2="144.27" y2="390.20" stroke="#222" stroke-width="0.75"/>
<line x1="145.75" y1="388.30" x2="145.75" y2="390.20" stroke="#222" stroke-width="0.75"/>
<line x1="147.04" y1="388.30" x2="147.04" y2="390.20" stroke="#222" stroke-width="0.75"/>
<line x1="148.18" y1="388.30" x2="148.18" y2="390.20" stroke="#222" stroke-width="0.75"/>
<line x1="77.20" y1="388.30" x2="77.20" y2="391.10" stroke="#222" stroke-width="0.75"/>
<line x1="102.04" y1="388.30" x2="102.04" y2="391.10" stroke="#222" stroke-width="0.75"/>
<line x1="126.99" y1="388.30" x2="126.99" y2="391.10" stroke="#222" stroke-width="0.75"/>
<line x1="149.19" y1="388.30" x2="149.19" y2="391.10" stroke="#222" stroke-width="0.75"/>
<line x1="155.88" y1="388.30" x2="155.88" y2="390.20" stroke="#222" stroke-width="0.75"/>
<line x1="166.20" y1="388.30" x2="166.20" y2="390.20" stroke="#222" stroke-width="0.75"/>
<line x1="167.25" y1="388.30" x2="167.25" y2="390.20" stroke="#222" stroke-width="0.75"/>
<line x1="168.30" y1="388.30" x2="168.30" y2="390.20" stroke="#222" stroke-width="0.75"/>
<line x1="169.35" y1="388.30" x2="169.35" y2="390.20" stroke="#222" stroke-width="0.75"/>
<line x1="170.40" y1="388.30" x2="170.40" y2="390.20" stroke="#222" stroke-width="0.75"/>
<line x1="171.45" y1="388.30" x2="171.45" y2="390.20" stroke="#222" stroke-width="0.75"/>
<line x1="172.50" y1="388.30" x2="172.50" y2="390.20" stroke="#222" stroke-width="0.75"/>
<line x1="173.55" y1="388.30" x2="173.55" y2="390.20" stroke="#222" stroke-width="0.75"/>
<line x1="174.60" y1="388.30" x2="174.60" y2="390.20" stroke="#222" stroke-width="0.75"/>
<line x1="176.03" y1="388.30" x2="176.03" y2="391.10" stroke="#222" stroke-width="0.75"/>
<line x1="177.63" y1="388.30" x2="177.63" y2="390.20" stroke="#222" stroke-width="0.75"/>
<line x1="178.68" y1="388.30" x2="178.68" y2="390.20" stroke="#222" stroke-width="0.75"/>
<line x1="179.73" y1="388.30" x2="179.73" y2="390.20" stroke="#222" stroke-width="0.75"/>
<line x1="180.78" y1="388.30" x2="180.78" y2="390.20" stroke="#222" stroke-width="0.75"/>
<line x1="181.83" y1="388.30" x2="181.83" y2="390.20" stroke="#222" stroke-width="0.75"/>
<line x1="182.88" y1="388.30" x2="182.88" y2="390.20" stroke="#222" stroke-width="0.75"/>
<line x1="183.93" y1="388.30" x2="183.93" y2="390.20" stroke="#222" stroke-width="0.75"/>
<line x1="184.98" y1="388.30" x2="184.98" y2="390.20" stroke="#222" stroke-width="0.75"/>
<line x1="186.03" y1="388.30" x2="186.03" y2="390.20" stroke="#222" stroke-width="0.75"/>
<line x1="194.71" y1="388.30" x2="194.71" y2="390.20" stroke="#222" stroke-width="0.75"/>
<line x1="199.12" y1="388.30" x2="199.12" y2="390.20" stroke="#222" stroke-width="0.75"/>
<line x1="202.24" y1="388.30" x2="202.24" y2="390.20" stroke="#222" stroke-width="0.75"/>
<line x1="204.67" y1="388.30" x2="204.67" y2="390.20" stroke="#222" stroke-width="0.75"/>
<line x1="206.65" y1="388.30" x2="206.65" y2="390.20" stroke="#222" stroke-width="0.75"/>
<line x1="208.33" y1="388.30" x2="208.33" y2="390.20" stroke="#222" stroke-width="0.75"/>
<line x1="209.78" y1="388.30" x2="209.78" y2="390.20" stroke="#222" stroke-width="0.75"/>
<line x1="211.06" y1="388.30" x2="211.06" y2="390.20" stroke="#222" stroke-width="0.75"/>
<line x1="219.78" y1="388.30" x2="219.78" y2="390.20" stroke="#222" stroke-width="0.75"/>
<line x1="224.20" y1="388.30" x2="224.20" y2="390.20" stroke="#222" stroke-width="0.75"/>
<line x1="227.34" y1="388.30" x2="227.34" y2="390.20" stroke="#222" stroke-width="0.75"/>
<line x1="229.78" y1="388.30" x2="229.78" y2="390.20" stroke="#222" stroke-width="0.75"/>
<line x1="231.77" y1="388.30" x2="231.77" y2="390.20" stroke="#222" stroke-width="0.75"/>
<line x1="233.45" y1="388.30" x2="233.45" y2="390.20" stroke="#222" stroke-width="0.75"/>
<line x1="234.91" y1="388.30" x2="234.91" y2="390.20" stroke="#222" stroke-width="0.75"/>
<line x1="236.20" y1="388.30" x2="236.20" y2="390.20" stroke="#222" stroke-width="0.75"/>
<line x1="244.09" y1="388.30" x2="244.09" y2="390.20" stroke="#222" stroke-width="0.75"/>
<line x1="248.03" y1="388.30" x2="248.03" y2="390.20" stroke="#222" stroke-width="0.75"/>
<line x1="250.82" y1="388.30" x2="250.82" y2="390.20" stroke="#222" stroke-width="0.75"/>
<line x1="252.99" y1="388.30" x2="252.99" y2="390.20" stroke="#222" stroke-width="0.75"/>
<line x1="254.77" y1="388.30" x2="254.77" y2="390.20" stroke="#222" stroke-width="0.75"/>
<line x1="256.26" y1="388.30" x2="256.26" y2="390.20" stroke="#222" stroke-width="0.75"/>
<line x1="257.56" y1="388.30" x2="257.56" y2="390.20" stroke="#222" stroke-width="0.75"/>
<line x1="258.71" y1="388.30" x2="258.71" y2="390.20" stroke="#222" stroke-width="0.75"/>
<line x1="187.17" y1="388.30" x2="187.17" y2="391.10" stroke="#222" stroke-width="0.75"/>
<line x1="212.21" y1="388.30" x2="212.21" y2="391.10" stroke="#222" stroke-width="0.75"/>
<line x1="237.35" y1="388.30" x2="237.35" y2="391.10" stroke="#222" stroke-width="0.75"/>
<line x1="259.73" y1="388.30" x2="259.73" y2="391.10" stroke="#222" stroke-width="0.75"/>
<line x1="266.47" y1="388.30" x2="266.47" y2="390.20" stroke="#222" stroke-width="0.75"/>
<line x1="56.40" y1="495.60" x2="56.40" y2="497.50" stroke="#222" stroke-width="0.75"/>
<line x1="57.45" y1="495.60" x2="57.45" y2="497.50" stroke="#222" stroke-width="0.75"/>
<line x1="58.50" y1="495.60" x2="58.50" y2="497.50" stroke="#222" stroke-width="0.75"/>
<line x1="59.55" y1="495.60" x2="59.55" y2="497.50" stroke="#222" stroke-width="0.75"/>
<line x1="60.60" y1="495.60" x2="60.60" y2="497.50" stroke="#222" stroke-width="0.75"/>
<line x1="61.65" y1="495.60" x2="61.65" y2="497.50" stroke="#222" stroke-width="0.75"/>
<line x1="62.70" y1="495.60" x2="62.70" y2="497.50" stroke="#222" stroke-width="0.75"/>
<line x1="63.75" y1="495.60" x2="63.75" y2="497.50" stroke="#222" stroke-width="0.75"/>
<line x1="64.80" y1="495.60" x2="64.80" y2="497.50" stroke="#222" stroke-width="0.75"/>
<line x1="66.17" y1="495.60" x2="66.17" y2="498.40" stroke="#222" stroke-width="0.75"/>
<line x1="67.77" y1="495.60" x2="67.77" y2="497.50" stroke="#222" stroke-width="0.75"/>
<line x1="68.82" y1="495.60" x2="68.82" y2="497.50" stroke="#222" stroke-width="0.75"/>
<line x1="69.87" y1="495.60" x2="69.87" y2="497.50" stroke="#222" stroke-width="0.75"/>
<line x1="70.92" y1="495.60" x2="70.92" y2="497.50" stroke="#222" stroke-width="0.75"/>
<line x1="71.97" y1="495.60" x2="71.97" y2="497.50" stroke="#222" stroke-width="0.75"/>
<line x1="73.02" y1="495.60" x2="73.02" y2="497.50" stroke="#222" stroke-width="0.75"/>
<line x1="74.07" y1="495.60" x2="74.07" y2="497.50" stroke="#222" stroke-width="0.75"/>
<line x1="75.12" y1="495.60" x2="75.12" y2="497.50" stroke="#222" stroke-width="0.75"/>
<line x1="76.17" y1="495.60" x2="76.17" y2="497.50" stroke="#222" stroke-width="0.75"/>
<line x1="84.73" y1="495.60" x2="84.73" y2="497.50" stroke="#222" stroke-width="0.75"/>
<line x1="89.12" y1="495.60" x2="89.12" y2="497.50" stroke="#222" stroke-width="0.75"/>
<line x1="92.23" y1="495.60" x2="92.23" y2="497.50" stroke="#222" stroke-width="0.75"/>
<line x1="94.64" y1="495.60" x2="94.64" y2="497.50" stroke="#222" stroke-width="0.75"/>
<line x1="96.61" y1="495.60" x2="96.61" y2="497.50" stroke="#222" stroke-width="0.75"/>
<line x1="98.28" y1="495.60" x2="98.28" y2="497.50" stroke="#222" stroke-width="0.75"/>
<line x1="99.72" y1="495.60" x2="99.72" y2="497.50" stroke="#222" stroke-width="0.75"/>
<line x1="100.99" y1="495.60" x2="100.99" y2="497.50" stroke="#222" stroke-width="0.75"/>
<line x1="109.66" y1="495.60" x2="109.66" y2="497.50" stroke="#222" stroke-width="0.75"/>
<line x1="114.06" y1="495.60" x2="114.06" y2="497.50" stroke="#222" stroke-width="0.75"/>
<line x1="117.18" y1="495.60" x2="117.18" y2="497.50" stroke="#222" stroke-width="0.75"/>
<line x1="119.60" y1="495.60" x2="119.60" y2="497.50" stroke="#222" stroke-width="0.75"/>
<line x1="121.58" y1="495.60" x2="121.58" y2="497.50" stroke="#222" stroke-width="0.75"/>
<line x1="123.25" y1="495.60" x2="123.25" y2="497.50" stroke="#222" stroke-width="0.75"/>
<line x1="124.70" y1="495.60" x2="124.70" y2="497.50" stroke="#222" stroke-width="0.75"/>
<line x1="125.98" y1="495.60" x2="125.98" y2="497.50" stroke="#222" stroke-width="0.75"/>
<line x1="133.82" y1="495.60" x2="133.82" y2="497.50" stroke="#222" stroke-width="0.75"/>
<line x1="137.74" y1="495.60" x2="137.74" y2="497.50" stroke="#222" stroke-width="0.75"/>
<line x1="140.52" y1="495.60" x2="140.52" y2="497.50" stroke="#222" stroke-width="0.75"/>
<line x1="142.68" y1="495.60" x2="142.68" y2="497.50" stroke="#222" stroke-width="0.75"/>
<line x1="144.44" y1="495.60" x2="144.44" y2="497.50" stroke="#222" stroke-width="0.75"/>
<line x1="145.93" y1="495.60" x2="145.93" y2="497.50" stroke="#222" stroke-width="0.75"/>
<line x1="147.22" y1="495.60" x2="147.22" y2="497.50" stroke="#222" stroke-width="0.75"/>
<line x1="148.36" y1="495.60" x2="148.36" y2="497.50" stroke="#222" stroke-width="0.75"/>
<line x1="77.24" y1="495.60" x2="77.24" y2="498.40" stroke="#222" stroke-width="0.75"/>
<line x1="102.13" y1="495.60" x2="102.13" y2="498.40" stroke="#222" stroke-width="0.75"/>
<line x1="127.13" y1="495.60" x2="127.13" y2="498.40" stroke="#222" stroke-width="0.75"/>
<line x1="149.38" y1="495.60" x2="149.38" y2="498.40" stroke="#222" stroke-width="0.75"/>
<line x1="156.07" y1="495.60" x2="156.07" y2="497.50" stroke="#222" stroke-width="0.75"/>
<line x1="166.00" y1="495.60" x2="166.00" y2="497.50" stroke="#222" stroke-width="0.75"/>
<line x1="167.05" y1="495.60" x2="167.05" y2="497.50" stroke="#222" stroke-width="0.75"/>
<line x1="168.10" y1="495.60" x2="168.10" y2="497.50" stroke="#222" stroke-width="0.75"/>
<line x1="169.15" y1="495.60" x2="169.15" y2="497.50" stroke="#222" stroke-width="0.75"/>
<line x1="170.20" y1="495.60" x2="170.20" y2="497.50" stroke="#222" stroke-width="0.75"/>
<line x1="171.25" y1="495.60" x2="171.25" y2="497.50" stroke="#222" stroke-width="0.75"/>
<line x1="172.30" y1="495.60" x2="172.30" y2="497.50" stroke="#222" stroke-width="0.75"/>
<line x1="173.35" y1="495.60" x2="173.35" y2="497.50" stroke="#222" stroke-width="0.75"/>
<line x1="174.40" y1="495.60" x2="174.40" y2="497.50" stroke="#222" stroke-width="0.75"/>
<line x1="175.85" y1="495.60" x2="175.85" y2="498.40" stroke="#222" stroke-width="0.75"/>
<line x1="177.45" y1="495.60" x2="177.45" y2="497.50" stroke="#222" stroke-width="0.75"/>
<line x1="178.50" y1="495.60" x2="178.50" y2="497.50" stroke="#222" stroke-width="0.75"/>
<line x1="179.55" y1="495.60" x2="179.55" y2="497.50" stroke="#222" stroke-width="0.75"/>
<line x1="180.60" y1="495.60" x2="180.60" y2="497.50" stroke="#222" stroke-width="0.75"/>
<line x1="181.65" y1="495.60" x2="181.65" y2="497.50" stroke="#222" stroke-width="0.75"/>
<line x1="182.70" y1="495.60" x2="182.70" y2="497.50" stroke="#222" stroke-width="0.75"/>
<line x1="183.75" y1="495.60" x2="183.75" y2="497.50" stroke="#222" stroke-width="0.75"/>
<line x1="184.80" y1="495.60" x2="184.80" y2="497.50" stroke="#222" stroke-width="0.75"/>
<line x1="185.85" y1="495.60" x2="185.85" y2="497.50" stroke="#222" stroke-width="0.75"/>
<line x1="194.56" y1="495.60" x2="194.56" y2="497.50" stroke="#222" stroke-width="0.75"/>
<line x1="198.98" y1="495.60" x2="198.98" y2="497.50" stroke="#222" stroke-width="0.75"/>
<line x1="202.12" y1="495.60" x2="202.12" y2="497.50" stroke="#222" stroke-width="0.75"/>
<line x1="204.55" y1="495.60" x2="204.55" y2="497.50" stroke="#222" stroke-width="0.75"/>
<line x1="206.53" y1="495.60" x2="206.53" y2="497.50" stroke="#222" stroke-width="0.75"/>
<line x1="208.21" y1="495.60" x2="208.21" y2="497.50" stroke="#222" stroke-width="0.75"/>
<line x1="209.67" y1="495.60" x2="209.67" y2="497.50" stroke="#222" stroke-width="0.75"/>
<line x1="210.95" y1="495.60" x2="210.95" y2="497.50" stroke="#222" stroke-width="0.75"/>
<line x1="219.68" y1="495.60" x2="219.68" y2="497.50" stroke="#222" stroke-width="0.75"/>
<line x1="224.12" y1="495.60" x2="224.12" y2="497.50" stroke="#222" stroke-width="0.75"/>
<line x1="227.27" y1="495.60" x2="227.27" y2="497.50" stroke="#222" stroke-width="0.75"/>
<line x1="229.71" y1="495.60" x2="229.71" y2="497.50" stroke="#222" stroke-width="0.75"/>
<line x1="231.70" y1="495.60" x2="231.70" y2="497.50" stroke="#222" stroke-width="0.75"/>
<line x1="233.39" y1="495.60" x2="233.39" y2="497.50" stroke="#222" stroke-width="0.75"/>
<line x1="234.85" y1="495.60" x2="234.85" y2="497.50" stroke="#222" stroke-width="0.75"/>
<line x1="236.14" y1="495.60" x2="236.14" y2="497.50" stroke="#222" stroke-width="0.75"/>
<line x1="244.04" y1="495.60" x2="244.04" y2="497.50" stroke="#222" stroke-width="0.75"/>
<line x1="247.99" y1="495.60" x2="247.99" y2="497.50" stroke="#222" stroke-width="0.75"/>
<line x1="250.79" y1="495.60" x2="250.79" y2="497.50" stroke="#222" stroke-width="0.75"/>
<line x1="252.96" y1="495.60" x2="252.96" y2="497.50" stroke="#222" stroke-width="0.75"/>
<line x1="254.74" y1="495.60" x2="254.74" y2="497.50" stroke="#222" stroke-width="0.75"/>
<line x1="256.24" y1="495.60" x2="256.24" y2="497.50" stroke="#222" stroke-width="0.75"/>
<line x1="257.54" y1="495.60" x2="257.54" y2="497.50" stroke="#222" stroke-width="0.75"/>
<line x1="258.69" y1="495.60" x2="258.69" y2="497.50" stroke="#222" stroke-width="0.75"/>
<line x1="187.01" y1="495.60" x2="187.01" y2="498.40" stroke="#222" stroke-width="0.75"/>
<line x1="212.10" y1="495.60" x2="212.10" y2="498.40" stroke="#222" stroke-width="0.75"/>
<line x1="237.29" y1="495.60" x2="237.29" y2="498.40" stroke="#222" stroke-width="0.75"/>
<line x1="259.72" y1="495.60" x2="259.72" y2="498.40" stroke="#222" stroke-width="0.75"/>
<line x1="266.47" y1="495.60" x2="266.47" y2="497.50" stroke="#222" stroke-width="0.75"/>
<text x="69.46" y="241.80" font-size="7.6" text-anchor="middle" font-weight="normal" fill="#111" >0</text>
<text x="81.78" y="241.80" font-size="7.6" text-anchor="middle" font-weight="normal" fill="#111" >10<tspan dy="-2.8" font-size="5.4">2</tspan></text>
<text x="105.38" y="241.80" font-size="7.6" text-anchor="middle" font-weight="normal" fill="#111" >10<tspan dy="-2.8" font-size="5.4">3</tspan></text>
<text x="130.22" y="241.80" font-size="7.6" text-anchor="middle" font-weight="normal" fill="#111" >10<tspan dy="-2.8" font-size="5.4">4</tspan></text>
<text x="151.95" y="241.80" font-size="7.6" text-anchor="middle" font-weight="normal" fill="#111" >10<tspan dy="-2.8" font-size="5.4">5</tspan></text>
<text x="181.05" y="241.80" font-size="7.6" text-anchor="middle" font-weight="normal" fill="#111" >0</text>
<text x="193.35" y="241.80" font-size="7.6" text-anchor="middle" font-weight="normal" fill="#111" >10<tspan dy="-2.8" font-size="5.4">2</tspan></text>
<text x="216.93" y="241.80" font-size="7.6" text-anchor="middle" font-weight="normal" fill="#111" >10<tspan dy="-2.8" font-size="5.4">3</tspan></text>
<text x="241.75" y="241.80" font-size="7.6" text-anchor="middle" font-weight="normal" fill="#111" >10<tspan dy="-2.8" font-size="5.4">4</tspan></text>
<text x="263.46" y="241.80" font-size="7.6" text-anchor="middle" font-weight="normal" fill="#111" >10<tspan dy="-2.8" font-size="5.4">5</tspan></text>
<text x="66.17" y="505.80" font-size="7.6" text-anchor="middle" font-weight="normal" fill="#111" >0</text>
<text x="77.44" y="505.80" font-size="7.6" text-anchor="middle" font-weight="normal" fill="#111" >10<tspan dy="-2.8" font-size="5.4">2</tspan></text>
<text x="102.13" y="505.80" font-size="7.6" text-anchor="middle" font-weight="normal" fill="#111" >10<tspan dy="-2.8" font-size="5.4">3</tspan></text>
<text x="127.13" y="505.80" font-size="7.6" text-anchor="middle" font-weight="normal" fill="#111" >10<tspan dy="-2.8" font-size="5.4">4</tspan></text>
<text x="149.38" y="505.80" font-size="7.6" text-anchor="middle" font-weight="normal" fill="#111" >10<tspan dy="-2.8" font-size="5.4">5</tspan></text>
<text x="175.85" y="505.80" font-size="7.6" text-anchor="middle" font-weight="normal" fill="#111" >0</text>
<text x="187.22" y="505.80" font-size="7.6" text-anchor="middle" font-weight="normal" fill="#111" >10<tspan dy="-2.8" font-size="5.4">2</tspan></text>
<text x="212.10" y="505.80" font-size="7.6" text-anchor="middle" font-weight="normal" fill="#111" >10<tspan dy="-2.8" font-size="5.4">3</tspan></text>
<text x="237.29" y="505.80" font-size="7.6" text-anchor="middle" font-weight="normal" fill="#111" >10<tspan dy="-2.8" font-size="5.4">4</tspan></text>
<text x="259.72" y="505.80" font-size="7.6" text-anchor="middle" font-weight="normal" fill="#111" >10<tspan dy="-2.8" font-size="5.4">5</tspan></text>
<line x1="98.50" y1="72.00" x2="136.20" y2="72.00" stroke="#222" stroke-width="1.2"/>
<line x1="98.50" y1="70.20" x2="98.50" y2="73.80" stroke="#222" stroke-width="1.0"/>
<line x1="136.20" y1="70.20" x2="136.20" y2="73.80" stroke="#222" stroke-width="1.0"/>
<line x1="209.40" y1="55.40" x2="245.60" y2="55.40" stroke="#222" stroke-width="1.2"/>
<line x1="209.40" y1="53.60" x2="209.40" y2="57.20" stroke="#222" stroke-width="1.0"/>
<line x1="245.60" y1="53.60" x2="245.60" y2="57.20" stroke="#222" stroke-width="1.0"/>
<line x1="98.50" y1="180.30" x2="135.60" y2="180.30" stroke="#222" stroke-width="1.2"/>
<line x1="98.50" y1="178.50" x2="98.50" y2="182.10" stroke="#222" stroke-width="1.0"/>
<line x1="135.60" y1="178.50" x2="135.60" y2="182.10" stroke="#222" stroke-width="1.0"/>
<line x1="209.00" y1="163.30" x2="245.40" y2="163.30" stroke="#222" stroke-width="1.2"/>
<line x1="209.00" y1="161.50" x2="209.00" y2="165.10" stroke="#222" stroke-width="1.0"/>
<line x1="245.40" y1="161.50" x2="245.40" y2="165.10" stroke="#222" stroke-width="1.0"/>
<line x1="94.40" y1="334.90" x2="126.60" y2="334.90" stroke="#222" stroke-width="1.2"/>
<line x1="94.40" y1="333.10" x2="94.40" y2="336.70" stroke="#222" stroke-width="1.0"/>
<line x1="126.60" y1="333.10" x2="126.60" y2="336.70" stroke="#222" stroke-width="1.0"/>
<line x1="204.40" y1="319.50" x2="243.70" y2="319.50" stroke="#222" stroke-width="1.2"/>
<line x1="204.40" y1="317.70" x2="204.40" y2="321.30" stroke="#222" stroke-width="1.0"/>
<line x1="243.70" y1="317.70" x2="243.70" y2="321.30" stroke="#222" stroke-width="1.0"/>
<line x1="94.40" y1="440.90" x2="127.60" y2="440.90" stroke="#222" stroke-width="1.2"/>
<line x1="94.40" y1="439.10" x2="94.40" y2="442.70" stroke="#222" stroke-width="1.0"/>
<line x1="127.60" y1="439.10" x2="127.60" y2="442.70" stroke="#222" stroke-width="1.0"/>
<line x1="204.40" y1="426.30" x2="243.70" y2="426.30" stroke="#222" stroke-width="1.2"/>
<line x1="204.40" y1="424.50" x2="204.40" y2="428.10" stroke="#222" stroke-width="1.0"/>
<line x1="243.70" y1="424.50" x2="243.70" y2="428.10" stroke="#222" stroke-width="1.0"/>
<text x="153.20" y="57.70" font-size="9.2" text-anchor="middle" font-weight="normal" fill="#111" >39</text>
<text x="265.60" y="44.50" font-size="9.2" text-anchor="middle" font-weight="normal" fill="#111" >65</text>
<text x="257.60" y="112.60" font-size="9.2" text-anchor="middle" font-weight="normal" fill="#111" >WT</text>
<text x="153.10" y="166.30" font-size="9.2" text-anchor="middle" font-weight="normal" fill="#111" >9.4</text>
<text x="265.60" y="152.80" font-size="9.2" text-anchor="middle" font-weight="normal" fill="#111" >39</text>
<text x="258.00" y="220.50" font-size="9.2" text-anchor="middle" font-weight="normal" fill="#111" >KO</text>
<text x="148.60" y="321.80" font-size="8.9" text-anchor="middle" font-weight="normal" fill="#111" >14</text>
<text x="259.40" y="312.40" font-size="8.9" text-anchor="middle" font-weight="normal" fill="#111" >42</text>
<text x="249.80" y="379.50" font-size="8.9" text-anchor="middle" font-weight="normal" fill="#111" >WT</text>
<text x="149.20" y="428.80" font-size="8.9" text-anchor="middle" font-weight="normal" fill="#111" >4.4</text>
<text x="259.50" y="419.20" font-size="8.9" text-anchor="middle" font-weight="normal" fill="#111" >17</text>
<text x="250.00" y="487.20" font-size="8.9" text-anchor="middle" font-weight="normal" fill="#111" >KO</text>
<text x="110.30" y="13.90" font-size="9.0" text-anchor="middle" font-weight="normal" fill="#111" >Spleen</text>
<text x="222.00" y="13.90" font-size="9.0" text-anchor="middle" font-weight="normal" fill="#111" >LNs</text>
<text x="106.20" y="278.00" font-size="9.0" text-anchor="middle" font-weight="normal" fill="#111" >Spleen</text>
<text x="216.50" y="278.00" font-size="9.0" text-anchor="middle" font-weight="normal" fill="#111" >LNs</text>
<text transform="translate(39.00,70.20) rotate(-90)" x="-10.40" y="0" font-size="9.0" font-weight="normal" fill="#111" style="stroke-width:0.4" textLength="20.8" lengthAdjust="spacingAndGlyphs"># Cells</text>
<text transform="translate(38.80,177.50) rotate(-90)" x="-10.50" y="0" font-size="9.0" font-weight="normal" fill="#111" style="stroke-width:0.4" textLength="21.0" lengthAdjust="spacingAndGlyphs"># Cells</text>
<text x="57.70" y="250.10" font-size="8.8" fill="#111" textLength="24.2" lengthAdjust="spacingAndGlyphs">HIF1α</text>
<line x1="87.80" y1="248.70" x2="263.50" y2="248.70" stroke="#222" stroke-width="1.0"/>
<path d="M266.50,248.70 L261.50,246.50 L261.50,250.90 Z" fill="#222"/>
<text x="53.80" y="514.90" font-size="8.8" fill="#111" textLength="24.7" lengthAdjust="spacingAndGlyphs">HIF1α</text>
<line x1="83.00" y1="513.50" x2="257.50" y2="513.50" stroke="#222" stroke-width="1.0"/>
<path d="M260.50,513.50 L255.50,511.30 L255.50,515.70 Z" fill="#222"/>
<text x="6.80" y="15.10" font-size="11" text-anchor="start" font-weight="bold" fill="#111" stroke="#000" stroke-width="0.5">A</text>
<text x="6.90" y="278.60" font-size="11" text-anchor="start" font-weight="bold" fill="#111" stroke="#000" stroke-width="0.5">B</text>
<text x="6.80" y="547.00" font-size="11" text-anchor="start" font-weight="bold" fill="#111" stroke="#000" stroke-width="0.5">C</text>
<text x="368.70" y="43.80" font-size="9.5" fill="#111" textLength="86.2" lengthAdjust="spacingAndGlyphs">H2K<tspan dy="-3" font-size="7">b+</tspan><tspan dy="3">CD45.2</tspan><tspan dy="-3" font-size="7.6">+</tspan><tspan dy="3">CD4</tspan><tspan dy="-3" font-size="7.6">+</tspan></text>
<line x1="312.50" y1="51.40" x2="511.50" y2="51.40" stroke="#333" stroke-width="1.2"/>
<text x="368.70" y="304.50" font-size="9.5" fill="#111" textLength="86.7" lengthAdjust="spacingAndGlyphs">H2K<tspan dy="-3" font-size="7">b+</tspan><tspan dy="3">CD45.2</tspan><tspan dy="-3" font-size="7.6">+</tspan><tspan dy="3">CD8</tspan><tspan dy="-3" font-size="7.6">+</tspan></text>
<line x1="312.50" y1="312.40" x2="511.50" y2="312.40" stroke="#333" stroke-width="1.2"/>
<text x="376.90" y="522.30" font-size="9.5" fill="#111" textLength="68.9" lengthAdjust="spacingAndGlyphs">H2K<tspan dy="-3" font-size="7">b+</tspan><tspan dy="3">CD45.2</tspan><tspan dy="-3" font-size="7.6">+</tspan><tspan dy="3"> T</tspan></text>
<line x1="312.50" y1="527.60" x2="511.50" y2="527.60" stroke="#333" stroke-width="1.2"/>
<line x1="312.60" y1="60.00" x2="312.60" y2="198.60" stroke="#111" stroke-width="1.1"/>
<line x1="312.10" y1="198.10" x2="396.30" y2="198.10" stroke="#222" stroke-width="1.2"/>
<line x1="309.30" y1="198.10" x2="312.60" y2="198.10" stroke="#111" stroke-width="0.9"/>
<text x="306.10" y="200.30" font-size="7.9" text-anchor="end" font-weight="normal" fill="#111" >0</text>
<line x1="309.30" y1="165.30" x2="312.60" y2="165.30" stroke="#111" stroke-width="0.9"/>
<text x="306.10" y="167.50" font-size="7.9" text-anchor="end" font-weight="normal" fill="#111" >20</text>
<line x1="309.30" y1="132.50" x2="312.60" y2="132.50" stroke="#111" stroke-width="0.9"/>
<text x="306.10" y="134.70" font-size="7.9" text-anchor="end" font-weight="normal" fill="#111" >40</text>
<line x1="309.30" y1="99.70" x2="312.60" y2="99.70" stroke="#111" stroke-width="0.9"/>
<text x="306.10" y="101.90" font-size="7.9" text-anchor="end" font-weight="normal" fill="#111" >60</text>
<line x1="309.30" y1="66.90" x2="312.60" y2="66.90" stroke="#111" stroke-width="0.9"/>
<text x="306.10" y="69.10" font-size="7.9" text-anchor="end" font-weight="normal" fill="#111" >80</text>
<text x="357.50" y="209.00" font-size="7.6" text-anchor="middle" font-weight="normal" fill="#111" >Spleen</text>
<text transform="translate(293.60,129.60) rotate(-90)" x="-15.30" y="0" font-size="9.0" font-weight="normal" fill="#111" style="stroke-width:0.4" textLength="30.6" lengthAdjust="spacingAndGlyphs">% HIF1α<tspan dy="-3.2" font-size="6.5">+</tspan></text>
<rect x="325.80" y="126.80" width="15.30" height="71.30" fill="#e08896"/>
<line x1="333.60" y1="120.60" x2="333.60" y2="126.80" stroke="#333" stroke-width="1.1"/>
<line x1="327.40" y1="120.60" x2="339.80" y2="120.60" stroke="#333" stroke-width="1.2"/>
<rect x="330.90" y="103.50" width="5.8" height="5.8" fill="#c4122e"/>
<rect x="330.90" y="117.70" width="5.8" height="5.8" fill="#c4122e"/>
<rect x="323.70" y="130.90" width="5.8" height="5.8" fill="#c4122e"/>
<rect x="337.20" y="130.90" width="5.8" height="5.8" fill="#c4122e"/>
<rect x="330.90" y="135.90" width="5.8" height="5.8" fill="#c4122e"/>
<rect x="362.20" y="183.10" width="25.90" height="15.00" fill="#8aa9c4"/>
<line x1="375.30" y1="180.00" x2="375.30" y2="183.20" stroke="#333" stroke-width="1.1"/>
<line x1="371.70" y1="180.00" x2="378.90" y2="180.00" stroke="#333" stroke-width="1.2"/>
<path d="M368.30,174.30 L372.50,182.50 L364.10,182.50 Z" fill="#0e4b87"/>
<path d="M368.30,178.00 L372.50,186.20 L364.10,186.20 Z" fill="#0e4b87"/>
<path d="M382.20,174.30 L386.40,182.50 L378.00,182.50 Z" fill="#0e4b87"/>
<path d="M382.20,178.00 L386.40,186.20 L378.00,186.20 Z" fill="#0e4b87"/>
<path d="M375.30,190.70 L379.50,198.90 L371.10,198.90 Z" fill="#0e4b87"/>
<circle cx="370.5" cy="148.1" r="1.2" fill="#111"/>
<circle cx="374.0" cy="148.1" r="1.2" fill="#111"/>
<circle cx="377.5" cy="148.1" r="1.2" fill="#111"/>
<circle cx="381.0" cy="148.1" r="1.2" fill="#111"/>
<line x1="427.70" y1="60.00" x2="427.70" y2="198.60" stroke="#111" stroke-width="1.1"/>
<line x1="427.20" y1="198.10" x2="511.50" y2="198.10" stroke="#222" stroke-width="1.2"/>
<line x1="424.40" y1="198.10" x2="427.70" y2="198.10" stroke="#111" stroke-width="0.9"/>
<text x="421.30" y="200.30" font-size="7.9" text-anchor="end" font-weight="normal" fill="#111" >0</text>
<line x1="424.40" y1="165.30" x2="427.70" y2="165.30" stroke="#111" stroke-width="0.9"/>
<text x="421.30" y="167.50" font-size="7.9" text-anchor="end" font-weight="normal" fill="#111" >20</text>
<line x1="424.40" y1="132.50" x2="427.70" y2="132.50" stroke="#111" stroke-width="0.9"/>
<text x="421.30" y="134.70" font-size="7.9" text-anchor="end" font-weight="normal" fill="#111" >40</text>
<line x1="424.40" y1="99.70" x2="427.70" y2="99.70" stroke="#111" stroke-width="0.9"/>
<text x="421.30" y="101.90" font-size="7.9" text-anchor="end" font-weight="normal" fill="#111" >60</text>
<line x1="424.40" y1="66.90" x2="427.70" y2="66.90" stroke="#111" stroke-width="0.9"/>
<text x="421.30" y="69.10" font-size="7.9" text-anchor="end" font-weight="normal" fill="#111" >80</text>
<text x="469.20" y="209.00" font-size="7.6" text-anchor="middle" font-weight="normal" fill="#111" >LNs</text>
<rect x="441.20" y="106.00" width="15.00" height="92.10" fill="#e08896"/>
<line x1="448.80" y1="99.60" x2="448.80" y2="106.00" stroke="#333" stroke-width="1.1"/>
<line x1="442.60" y1="99.60" x2="455.00" y2="99.60" stroke="#333" stroke-width="1.2"/>
<rect x="432.10" y="90.40" width="5.8" height="5.8" fill="#c4122e"/>
<rect x="452.70" y="90.40" width="5.8" height="5.8" fill="#c4122e"/>
<rect x="439.10" y="100.90" width="5.8" height="5.8" fill="#c4122e"/>
<rect x="452.90" y="107.10" width="5.8" height="5.8" fill="#c4122e"/>
<rect x="445.90" y="126.60" width="5.8" height="5.8" fill="#c4122e"/>
<rect x="482.70" y="132.00" width="15.00" height="66.10" fill="#8aa9c4"/>
<line x1="490.20" y1="126.20" x2="490.20" y2="132.00" stroke="#333" stroke-width="1.1"/>
<line x1="484.00" y1="126.20" x2="496.40" y2="126.20" stroke="#333" stroke-width="1.2"/>
<path d="M490.20,107.50 L494.40,115.70 L486.00,115.70 Z" fill="#0e4b87"/>
<path d="M482.60,130.30 L486.80,138.50 L478.40,138.50 Z" fill="#0e4b87"/>
<path d="M490.20,130.30 L494.40,138.50 L486.00,138.50 Z" fill="#0e4b87"/>
<path d="M497.40,127.90 L501.60,136.10 L493.20,136.10 Z" fill="#0e4b87"/>
<path d="M490.20,145.50 L494.40,153.70 L486.00,153.70 Z" fill="#0e4b87"/>
<circle cx="490.1" cy="95.8" r="1.2" fill="#111"/>
<line x1="312.40" y1="321.30" x2="312.40" y2="459.80" stroke="#111" stroke-width="1.1"/>
<line x1="311.90" y1="459.30" x2="396.30" y2="459.30" stroke="#222" stroke-width="1.2"/>
<line x1="309.10" y1="459.30" x2="312.40" y2="459.30" stroke="#111" stroke-width="0.9"/>
<text x="305.90" y="461.50" font-size="7.9" text-anchor="end" font-weight="normal" fill="#111" >0</text>
<line x1="309.10" y1="426.45" x2="312.40" y2="426.45" stroke="#111" stroke-width="0.9"/>
<text x="305.90" y="428.65" font-size="7.9" text-anchor="end" font-weight="normal" fill="#111" >20</text>
<line x1="309.10" y1="393.60" x2="312.40" y2="393.60" stroke="#111" stroke-width="0.9"/>
<text x="305.90" y="395.80" font-size="7.9" text-anchor="end" font-weight="normal" fill="#111" >40</text>
<line x1="309.10" y1="360.75" x2="312.40" y2="360.75" stroke="#111" stroke-width="0.9"/>
<text x="305.90" y="362.95" font-size="7.9" text-anchor="end" font-weight="normal" fill="#111" >60</text>
<line x1="309.10" y1="327.90" x2="312.40" y2="327.90" stroke="#111" stroke-width="0.9"/>
<text x="305.90" y="330.10" font-size="7.9" text-anchor="end" font-weight="normal" fill="#111" >80</text>
<text x="354.50" y="470.30" font-size="7.6" text-anchor="middle" font-weight="normal" fill="#111" >Spleen</text>
<text transform="translate(291.40,390.50) rotate(-90)" x="-14.75" y="0" font-size="9.0" font-weight="normal" fill="#111" style="stroke-width:0.4" textLength="29.5" lengthAdjust="spacingAndGlyphs">% HIF1α<tspan dy="-3.2" font-size="6.5">+</tspan></text>
<rect x="325.80" y="439.60" width="15.40" height="19.70" fill="#e08896"/>
<line x1="332.00" y1="434.70" x2="332.00" y2="439.60" stroke="#333" stroke-width="1.1"/>
<line x1="327.40" y1="434.70" x2="336.60" y2="434.70" stroke="#333" stroke-width="1.2"/>
<rect x="330.30" y="425.20" width="5.8" height="5.8" fill="#c4122e"/>
<rect x="323.20" y="434.90" width="5.8" height="5.8" fill="#c4122e"/>
<rect x="336.70" y="433.60" width="5.8" height="5.8" fill="#c4122e"/>
<rect x="326.70" y="439.80" width="5.8" height="5.8" fill="#c4122e"/>
<rect x="332.90" y="436.70" width="5.8" height="5.8" fill="#c4122e"/>
<rect x="361.90" y="453.80" width="26.20" height="5.50" fill="#8aa9c4"/>
<line x1="376.20" y1="451.90" x2="376.20" y2="453.80" stroke="#333" stroke-width="1.1"/>
<line x1="372.70" y1="451.90" x2="379.70" y2="451.90" stroke="#333" stroke-width="1.2"/>
<path d="M367.80,448.70 L370.90,454.50 L364.70,454.50 Z" fill="#0e4b87"/>
<path d="M371.20,449.30 L374.30,455.10 L368.10,455.10 Z" fill="#0e4b87"/>
<path d="M381.50,448.70 L384.60,454.50 L378.40,454.50 Z" fill="#0e4b87"/>
<path d="M374.70,455.60 L377.80,461.40 L371.60,461.40 Z" fill="#0e4b87"/>
<path d="M378.10,453.90 L381.20,459.70 L375.00,459.70 Z" fill="#0e4b87"/>
<circle cx="374.4" cy="429.1" r="1.2" fill="#111"/>
<line x1="428.10" y1="321.30" x2="428.10" y2="459.80" stroke="#111" stroke-width="1.1"/>
<line x1="427.60" y1="459.30" x2="512.00" y2="459.30" stroke="#222" stroke-width="1.2"/>
<line x1="424.80" y1="459.30" x2="428.10" y2="459.30" stroke="#111" stroke-width="0.9"/>
<text x="421.70" y="461.50" font-size="7.9" text-anchor="end" font-weight="normal" fill="#111" >0</text>
<line x1="424.80" y1="426.45" x2="428.10" y2="426.45" stroke="#111" stroke-width="0.9"/>
<text x="421.70" y="428.65" font-size="7.9" text-anchor="end" font-weight="normal" fill="#111" >20</text>
<line x1="424.80" y1="393.60" x2="428.10" y2="393.60" stroke="#111" stroke-width="0.9"/>
<text x="421.70" y="395.80" font-size="7.9" text-anchor="end" font-weight="normal" fill="#111" >40</text>
<line x1="424.80" y1="360.75" x2="428.10" y2="360.75" stroke="#111" stroke-width="0.9"/>
<text x="421.70" y="362.95" font-size="7.9" text-anchor="end" font-weight="normal" fill="#111" >60</text>
<line x1="424.80" y1="327.90" x2="428.10" y2="327.90" stroke="#111" stroke-width="0.9"/>
<text x="421.70" y="330.10" font-size="7.9" text-anchor="end" font-weight="normal" fill="#111" >80</text>
<text x="469.70" y="470.00" font-size="7.6" text-anchor="middle" font-weight="normal" fill="#111" >LNs</text>
<rect x="441.10" y="390.30" width="15.40" height="69.00" fill="#e08896"/>
<line x1="449.00" y1="381.50" x2="449.00" y2="390.30" stroke="#333" stroke-width="1.1"/>
<line x1="442.80" y1="381.50" x2="455.20" y2="381.50" stroke="#333" stroke-width="1.2"/>
<rect x="438.60" y="369.40" width="5.8" height="5.8" fill="#c4122e"/>
<rect x="452.90" y="369.40" width="5.8" height="5.8" fill="#c4122e"/>
<rect x="439.10" y="387.90" width="5.8" height="5.8" fill="#c4122e"/>
<rect x="452.50" y="393.90" width="5.8" height="5.8" fill="#c4122e"/>
<rect x="446.00" y="418.60" width="5.8" height="5.8" fill="#c4122e"/>
<rect x="483.00" y="427.30" width="15.00" height="32.00" fill="#8aa9c4"/>
<line x1="490.30" y1="420.40" x2="490.30" y2="427.30" stroke="#333" stroke-width="1.1"/>
<line x1="484.10" y1="420.40" x2="496.50" y2="420.40" stroke="#333" stroke-width="1.2"/>
<path d="M483.50,407.10 L487.70,415.30 L479.30,415.30 Z" fill="#0e4b87"/>
<path d="M497.40,408.20 L501.60,416.40 L493.20,416.40 Z" fill="#0e4b87"/>
<path d="M483.50,427.80 L487.70,436.00 L479.30,436.00 Z" fill="#0e4b87"/>
<path d="M490.50,437.70 L494.70,445.90 L486.30,445.90 Z" fill="#0e4b87"/>
<path d="M497.40,437.70 L501.60,445.90 L493.20,445.90 Z" fill="#0e4b87"/>
<circle cx="491.2" cy="391.3" r="1.2" fill="#111"/>
<line x1="312.50" y1="535.00" x2="312.50" y2="661.10" stroke="#111" stroke-width="1.1"/>
<line x1="312.00" y1="660.60" x2="394.50" y2="660.60" stroke="#222" stroke-width="1.2"/>
<line x1="309.20" y1="660.60" x2="312.50" y2="660.60" stroke="#111" stroke-width="0.9"/>
<text x="306.00" y="662.80" font-size="7.9" text-anchor="end" font-weight="normal" fill="#111" >0</text>
<line x1="309.20" y1="636.85" x2="312.50" y2="636.85" stroke="#111" stroke-width="0.9"/>
<text x="306.00" y="639.05" font-size="7.9" text-anchor="end" font-weight="normal" fill="#111" >4</text>
<line x1="309.20" y1="613.10" x2="312.50" y2="613.10" stroke="#111" stroke-width="0.9"/>
<text x="306.00" y="615.30" font-size="7.9" text-anchor="end" font-weight="normal" fill="#111" >8</text>
<line x1="309.20" y1="589.35" x2="312.50" y2="589.35" stroke="#111" stroke-width="0.9"/>
<text x="306.00" y="591.55" font-size="7.9" text-anchor="end" font-weight="normal" fill="#111" >12</text>
<line x1="309.20" y1="565.60" x2="312.50" y2="565.60" stroke="#111" stroke-width="0.9"/>
<text x="306.00" y="567.80" font-size="7.9" text-anchor="end" font-weight="normal" fill="#111" >16</text>
<line x1="309.20" y1="541.85" x2="312.50" y2="541.85" stroke="#111" stroke-width="0.9"/>
<text x="306.00" y="544.05" font-size="7.9" text-anchor="end" font-weight="normal" fill="#111" >20</text>
<text x="354.30" y="671.00" font-size="7.6" text-anchor="middle" font-weight="normal" fill="#111" >CD4</text>
<text transform="translate(292.20,598.20) rotate(-90)" x="-13.00" y="0" font-size="9.0" font-weight="normal" fill="#111" style="stroke-width:0.4" textLength="26.0" lengthAdjust="spacingAndGlyphs">% Glut1<tspan dy="-3.2" font-size="6.5">+</tspan></text>
<rect x="324.50" y="586.80" width="15.00" height="73.80" fill="#e08896"/>
<line x1="332.00" y1="584.00" x2="332.00" y2="586.80" stroke="#333" stroke-width="1.1"/>
<line x1="327.50" y1="584.00" x2="336.50" y2="584.00" stroke="#333" stroke-width="1.2"/>
<rect x="322.70" y="574.60" width="4.8" height="4.8" fill="#c4122e"/>
<rect x="335.50" y="568.90" width="4.8" height="4.8" fill="#c4122e"/>
<rect x="325.80" y="580.80" width="4.8" height="4.8" fill="#c4122e"/>
<rect x="331.90" y="580.80" width="4.8" height="4.8" fill="#c4122e"/>
<rect x="322.70" y="598.60" width="4.8" height="4.8" fill="#c4122e"/>
<rect x="335.50" y="602.50" width="4.8" height="4.8" fill="#c4122e"/>
<rect x="328.90" y="629.90" width="4.8" height="4.8" fill="#c4122e"/>
<rect x="368.00" y="625.00" width="15.00" height="35.60" fill="#8aa9c4"/>
<line x1="375.40" y1="617.60" x2="375.40" y2="624.70" stroke="#333" stroke-width="1.1"/>
<line x1="369.20" y1="617.60" x2="381.60" y2="617.60" stroke="#333" stroke-width="1.2"/>
<path d="M368.90,601.85 L371.85,607.35 L365.95,607.35 Z" fill="#0e4b87"/>
<path d="M375.40,598.75 L378.35,604.25 L372.45,604.25 Z" fill="#0e4b87"/>
<path d="M372.30,612.05 L375.25,617.55 L369.35,617.55 Z" fill="#0e4b87"/>
<path d="M378.50,612.05 L381.45,617.55 L375.55,617.55 Z" fill="#0e4b87"/>
<path d="M381.60,611.45 L384.55,616.95 L378.65,616.95 Z" fill="#0e4b87"/>
<path d="M368.90,645.75 L371.85,651.25 L365.95,651.25 Z" fill="#0e4b87"/>
<path d="M375.40,648.25 L378.35,653.75 L372.45,653.75 Z" fill="#0e4b87"/>
<path d="M381.60,647.05 L384.55,652.55 L378.65,652.55 Z" fill="#0e4b87"/>
<circle cx="378.4" cy="574.4" r="1.2" fill="#111"/>
<circle cx="382.0" cy="574.4" r="1.2" fill="#111"/>
<line x1="427.50" y1="535.00" x2="427.50" y2="661.10" stroke="#111" stroke-width="1.1"/>
<line x1="427.00" y1="660.60" x2="511.30" y2="660.60" stroke="#222" stroke-width="1.2"/>
<line x1="424.20" y1="660.60" x2="427.50" y2="660.60" stroke="#111" stroke-width="0.9"/>
<text x="421.00" y="662.80" font-size="7.9" text-anchor="end" font-weight="normal" fill="#111" >0</text>
<line x1="424.20" y1="630.70" x2="427.50" y2="630.70" stroke="#111" stroke-width="0.9"/>
<text x="421.00" y="632.90" font-size="7.9" text-anchor="end" font-weight="normal" fill="#111" >10</text>
<line x1="424.20" y1="600.80" x2="427.50" y2="600.80" stroke="#111" stroke-width="0.9"/>
<text x="421.00" y="603.00" font-size="7.9" text-anchor="end" font-weight="normal" fill="#111" >20</text>
<line x1="424.20" y1="570.90" x2="427.50" y2="570.90" stroke="#111" stroke-width="0.9"/>
<text x="421.00" y="573.10" font-size="7.9" text-anchor="end" font-weight="normal" fill="#111" >30</text>
<line x1="424.20" y1="541.00" x2="427.50" y2="541.00" stroke="#111" stroke-width="0.9"/>
<text x="421.00" y="543.20" font-size="7.9" text-anchor="end" font-weight="normal" fill="#111" >40</text>
<text x="468.80" y="671.00" font-size="7.6" text-anchor="middle" font-weight="normal" fill="#111" >CD8</text>
<rect x="441.30" y="617.50" width="15.00" height="43.10" fill="#e08896"/>
<line x1="448.80" y1="605.80" x2="448.80" y2="617.70" stroke="#333" stroke-width="1.1"/>
<line x1="442.60" y1="605.80" x2="455.00" y2="605.80" stroke="#333" stroke-width="1.2"/>
<rect x="446.40" y="540.90" width="4.8" height="4.8" fill="#c4122e"/>
<rect x="446.40" y="592.50" width="4.8" height="4.8" fill="#c4122e"/>
<rect x="446.40" y="622.50" width="4.8" height="4.8" fill="#c4122e"/>
<rect x="439.90" y="628.80" width="4.8" height="4.8" fill="#c4122e"/>
<rect x="453.00" y="629.90" width="4.8" height="4.8" fill="#c4122e"/>
<rect x="443.00" y="633.80" width="4.8" height="4.8" fill="#c4122e"/>
<rect x="449.40" y="636.40" width="4.8" height="4.8" fill="#c4122e"/>
<rect x="446.40" y="639.60" width="4.8" height="4.8" fill="#c4122e"/>
<rect x="484.50" y="638.30" width="15.00" height="22.30" fill="#8aa9c4"/>
<line x1="491.50" y1="630.30" x2="491.50" y2="638.20" stroke="#333" stroke-width="1.1"/>
<line x1="485.30" y1="630.30" x2="497.70" y2="630.30" stroke="#333" stroke-width="1.2"/>
<path d="M491.50,586.75 L494.45,592.25 L488.55,592.25 Z" fill="#0e4b87"/>
<path d="M485.40,630.75 L488.35,636.25 L482.45,636.25 Z" fill="#0e4b87"/>
<path d="M488.50,639.55 L491.45,645.05 L485.55,645.05 Z" fill="#0e4b87"/>
<path d="M494.90,639.55 L497.85,645.05 L491.95,645.05 Z" fill="#0e4b87"/>
<path d="M498.00,632.95 L500.95,638.45 L495.05,638.45 Z" fill="#0e4b87"/>
<path d="M485.40,647.75 L488.35,653.25 L482.45,653.25 Z" fill="#0e4b87"/>
<path d="M491.50,654.95 L494.45,660.45 L488.55,660.45 Z" fill="#0e4b87"/>
<path d="M498.00,653.45 L500.95,658.95 L495.05,658.95 Z" fill="#0e4b87"/>
<clipPath id="env1"><path d="M117.50,651.90 L117.21,649.85 L116.91,647.80 L116.62,645.75 L116.33,643.70 L116.04,641.65 L115.82,639.60 L115.93,637.55 L116.04,635.50 L116.15,633.45 L116.26,631.40 L116.37,629.35 L116.48,627.30 L116.59,625.25 L116.80,623.20 L117.02,621.15 L117.24,619.10 L117.47,617.05 L117.69,615.00 L117.94,612.95 L118.21,610.90 L118.49,608.85 L118.88,606.80 L119.36,604.75 L119.84,602.70 L120.68,600.65 L121.70,598.60 L123.13,596.55 L126.00,594.50 L126.00,594.50 L126.00,594.50 L128.87,596.55 L130.30,598.60 L131.32,600.65 L132.19,602.70 L132.73,604.75 L133.28,606.80 L133.69,608.85 L133.89,610.90 L134.09,612.95 L134.16,615.00 L134.09,617.05 L134.01,619.10 L133.94,621.15 L133.87,623.20 L133.80,625.25 L133.77,627.30 L133.74,629.35 L133.71,631.40 L133.69,633.45 L133.66,635.50 L133.63,637.55 L133.61,639.60 L133.52,641.65 L133.41,643.70 L133.31,645.75 L133.21,647.80 L133.10,649.85 L133.00,651.90 Z"/></clipPath>
<path d="M117.50,651.90 L117.21,649.85 L116.91,647.80 L116.62,645.75 L116.33,643.70 L116.04,641.65 L115.82,639.60 L115.93,637.55 L116.04,635.50 L116.15,633.45 L116.26,631.40 L116.37,629.35 L116.48,627.30 L116.59,625.25 L116.80,623.20 L117.02,621.15 L117.24,619.10 L117.47,617.05 L117.69,615.00 L117.94,612.95 L118.21,610.90 L118.49,608.85 L118.88,606.80 L119.36,604.75 L119.84,602.70 L120.68,600.65 L121.70,598.60 L123.13,596.55 L126.00,594.50 L126.00,594.50 L126.00,594.50 L128.87,596.55 L130.30,598.60 L131.32,600.65 L132.19,602.70 L132.73,604.75 L133.28,606.80 L133.69,608.85 L133.89,610.90 L134.09,612.95 L134.16,615.00 L134.09,617.05 L134.01,619.10 L133.94,621.15 L133.87,623.20 L133.80,625.25 L133.77,627.30 L133.74,629.35 L133.71,631.40 L133.69,633.45 L133.66,635.50 L133.63,637.55 L133.61,639.60 L133.52,641.65 L133.41,643.70 L133.31,645.75 L133.21,647.80 L133.10,649.85 L133.00,651.90" fill="#f3f3f3" stroke="#2a2a2a" stroke-width="0.6"/>
<g clip-path="url(#env1)"><rect x="106.00" y="611.80" width="40" height="40.10" fill="#8a8a8a"/>
<rect x="116.07" y="614.80" width="0.7" height="37.10" fill="#666" opacity="0.7"/>
<rect x="117.68" y="614.80" width="0.7" height="37.10" fill="#444" opacity="0.7"/>
<rect x="118.72" y="614.80" width="0.7" height="37.10" fill="#ccc" opacity="0.7"/>
<rect x="120.67" y="614.80" width="0.7" height="37.10" fill="#bbb" opacity="0.7"/>
<rect x="122.09" y="614.80" width="0.7" height="37.10" fill="#bbb" opacity="0.7"/>
<rect x="123.27" y="614.80" width="0.7" height="37.10" fill="#ccc" opacity="0.7"/>
<rect x="125.22" y="614.80" width="0.7" height="37.10" fill="#ccc" opacity="0.7"/>
<rect x="126.53" y="614.80" width="0.7" height="37.10" fill="#444" opacity="0.7"/>
<rect x="127.85" y="614.80" width="0.7" height="37.10" fill="#bbb" opacity="0.7"/>
<rect x="129.44" y="614.80" width="0.7" height="37.10" fill="#bbb" opacity="0.7"/>
<rect x="131.25" y="614.80" width="0.7" height="37.10" fill="#ccc" opacity="0.7"/>
<rect x="132.30" y="614.80" width="0.7" height="37.10" fill="#555" opacity="0.7"/>
<rect x="133.78" y="614.80" width="0.7" height="37.10" fill="#444" opacity="0.7"/>
<rect x="135.47" y="614.80" width="0.7" height="37.10" fill="#bbb" opacity="0.7"/>
</g>
<path d="M118.35,651.90 L118.09,649.98 L117.82,648.05 L117.56,646.12 L117.30,644.20 L117.03,642.27 L116.84,640.35 L116.94,638.42 L117.04,636.50 L117.13,634.58 L117.23,632.65 L117.33,630.73 L117.43,628.80 L117.53,626.88 L117.72,624.95 L117.92,623.02 L118.12,621.10 L118.32,619.17 L118.52,617.25 L118.75,615.33 L118.99,613.40 L119.24,611.48 L119.59,609.55 L120.02,607.62 L120.45,605.70 L121.21,603.77 L122.13,601.85 L123.42,599.92 L126.00,598.00 L126.00,598.00 L126.00,598.00 L128.58,599.92 L129.87,601.85 L130.79,603.77 L131.57,605.70 L132.06,607.62 L132.55,609.55 L132.92,611.48 L133.10,613.40 L133.29,615.33 L133.35,617.25 L133.28,619.17 L133.21,621.10 L133.15,623.02 L133.08,624.95 L133.02,626.88 L132.99,628.80 L132.97,630.73 L132.94,632.65 L132.92,634.58 L132.89,636.50 L132.87,638.42 L132.84,640.35 L132.77,642.27 L132.67,644.20 L132.58,646.12 L132.49,648.05 L132.39,649.98 L132.30,651.90" fill="none" stroke="#555" stroke-width="0.45"/>
<path d="M119.20,651.90 L118.97,650.08 L118.73,648.26 L118.50,646.45 L118.26,644.63 L118.03,642.81 L117.86,640.99 L117.94,639.17 L118.03,637.36 L118.12,635.54 L118.21,633.72 L118.29,631.90 L118.38,630.09 L118.47,628.27 L118.64,626.45 L118.82,624.63 L118.99,622.81 L119.17,621.00 L119.35,619.18 L119.55,617.36 L119.77,615.54 L119.99,613.73 L120.30,611.91 L120.69,610.09 L121.07,608.27 L121.74,606.45 L122.56,604.64 L123.70,602.82 L126.00,601.00 L126.00,601.00 L126.00,601.00 L128.30,602.82 L129.44,604.64 L130.26,606.45 L130.95,608.27 L131.39,610.09 L131.82,611.91 L132.15,613.73 L132.31,615.54 L132.48,617.36 L132.53,619.18 L132.47,621.00 L132.41,622.81 L132.35,624.63 L132.29,626.45 L132.24,628.27 L132.22,630.09 L132.19,631.90 L132.17,633.72 L132.15,635.54 L132.13,637.36 L132.11,639.17 L132.08,640.99 L132.01,642.81 L131.93,644.63 L131.85,646.45 L131.77,648.26 L131.68,650.08 L131.60,651.90" fill="none" stroke="#555" stroke-width="0.45"/>
<path d="M119.88,651.90 L119.67,650.17 L119.46,648.44 L119.25,646.71 L119.04,644.99 L118.83,643.26 L118.67,641.53 L118.75,639.80 L118.83,638.07 L118.91,636.34 L118.99,634.61 L119.06,632.89 L119.14,631.16 L119.22,629.43 L119.37,627.70 L119.53,625.97 L119.70,624.24 L119.86,622.51 L120.02,620.79 L120.20,619.06 L120.39,617.33 L120.59,615.60 L120.87,613.87 L121.22,612.14 L121.56,610.41 L122.17,608.69 L122.90,606.96 L123.93,605.23 L126.00,603.50 L126.00,603.50 L126.00,603.50 L128.07,605.23 L129.10,606.96 L129.83,608.69 L130.45,610.41 L130.85,612.14 L131.24,613.87 L131.53,615.60 L131.68,617.33 L131.83,619.06 L131.88,620.79 L131.82,622.51 L131.77,624.24 L131.72,625.97 L131.66,627.70 L131.61,629.43 L131.59,631.16 L131.57,632.89 L131.55,634.61 L131.53,636.34 L131.52,638.07 L131.50,639.80 L131.48,641.53 L131.41,643.26 L131.34,644.99 L131.26,646.71 L131.19,648.44 L131.11,650.17 L131.04,651.90" fill="none" stroke="#555" stroke-width="0.45"/>
<path d="M120.56,651.90 L120.37,650.24 L120.19,648.59 L120.00,646.93 L119.81,645.27 L119.62,643.61 L119.49,641.96 L119.56,640.30 L119.63,638.64 L119.70,636.99 L119.77,635.33 L119.84,633.67 L119.91,632.01 L119.98,630.36 L120.11,628.70 L120.25,627.04 L120.40,625.39 L120.54,623.73 L120.68,622.07 L120.84,620.41 L121.02,618.76 L121.19,617.10 L121.44,615.44 L121.75,613.79 L122.06,612.13 L122.59,610.47 L123.25,608.81 L124.16,607.16 L126.00,605.50 L126.00,605.50 L126.00,605.50 L127.84,607.16 L128.75,608.81 L129.41,610.47 L129.96,612.13 L130.31,613.79 L130.66,615.44 L130.92,617.10 L131.05,618.76 L131.18,620.41 L131.22,622.07 L131.18,623.73 L131.13,625.39 L131.08,627.04 L131.03,628.70 L130.99,630.36 L130.97,632.01 L130.95,633.67 L130.94,635.33 L130.92,636.99 L130.90,638.64 L130.88,640.30 L130.87,641.96 L130.81,643.61 L130.74,645.27 L130.68,646.93 L130.61,648.59 L130.55,650.24 L130.48,651.90" fill="none" stroke="#555" stroke-width="0.45"/>
<path d="M121.24,651.90 L121.08,650.31 L120.91,648.73 L120.75,647.14 L120.58,645.56 L120.42,643.97 L120.30,642.39 L120.36,640.80 L120.42,639.21 L120.48,637.63 L120.54,636.04 L120.61,634.46 L120.67,632.87 L120.73,631.29 L120.85,629.70 L120.97,628.11 L121.10,626.53 L121.22,624.94 L121.35,623.36 L121.49,621.77 L121.64,620.19 L121.79,618.60 L122.01,617.01 L122.28,615.43 L122.55,613.84 L123.02,612.26 L123.59,610.67 L124.39,609.09 L126.00,607.50 L126.00,607.50 L126.00,607.50 L127.61,609.09 L128.41,610.67 L128.98,612.26 L129.46,613.84 L129.77,615.43 L130.08,617.01 L130.30,618.60 L130.42,620.19 L130.53,621.77 L130.57,623.36 L130.53,624.94 L130.49,626.53 L130.45,628.11 L130.40,629.70 L130.37,631.29 L130.35,632.87 L130.34,634.46 L130.32,636.04 L130.30,637.63 L130.29,639.21 L130.27,640.80 L130.26,642.39 L130.21,643.97 L130.15,645.56 L130.09,647.14 L130.04,648.73 L129.98,650.31 L129.92,651.90" fill="none" stroke="#555" stroke-width="0.45"/>
<path d="M121.75,651.90 L121.60,650.39 L121.46,648.87 L121.31,647.36 L121.16,645.84 L121.02,644.33 L120.91,642.81 L120.97,641.30 L121.02,639.79 L121.07,638.27 L121.13,636.76 L121.18,635.24 L121.24,633.73 L121.29,632.21 L121.40,630.70 L121.51,629.19 L121.62,627.67 L121.73,626.16 L121.85,624.64 L121.97,623.13 L122.11,621.61 L122.24,620.10 L122.44,618.59 L122.68,617.07 L122.92,615.56 L123.34,614.04 L123.85,612.53 L124.56,611.01 L126.00,609.50 L126.00,609.50 L126.00,609.50 L127.44,611.01 L128.15,612.53 L128.66,614.04 L129.09,615.56 L129.37,617.07 L129.64,618.59 L129.84,620.10 L129.94,621.61 L130.05,623.13 L130.08,624.64 L130.04,626.16 L130.01,627.67 L129.97,629.19 L129.93,630.70 L129.90,632.21 L129.88,633.73 L129.87,635.24 L129.86,636.76 L129.84,638.27 L129.83,639.79 L129.82,641.30 L129.80,642.81 L129.76,644.33 L129.71,645.84 L129.66,647.36 L129.60,648.87 L129.55,650.39 L129.50,651.90" fill="none" stroke="#555" stroke-width="0.45"/>
<path d="M122.26,651.90 L122.13,650.46 L122.00,649.01 L121.87,647.57 L121.74,646.13 L121.62,644.69 L121.52,643.24 L121.57,641.80 L121.62,640.36 L121.67,638.91 L121.71,637.47 L121.76,636.03 L121.81,634.59 L121.86,633.14 L121.95,631.70 L122.05,630.26 L122.15,628.81 L122.25,627.37 L122.34,625.93 L122.45,624.49 L122.57,623.04 L122.69,621.60 L122.87,620.16 L123.08,618.71 L123.29,617.27 L123.66,615.83 L124.11,614.39 L124.74,612.94 L126.00,611.50 L126.00,611.50 L126.00,611.50 L127.26,612.94 L127.89,614.39 L128.34,615.83 L128.72,617.27 L128.96,618.71 L129.20,620.16 L129.38,621.60 L129.47,623.04 L129.56,624.49 L129.59,625.93 L129.56,627.37 L129.53,628.81 L129.49,630.26 L129.46,631.70 L129.43,633.14 L129.42,634.59 L129.41,636.03 L129.39,637.47 L129.38,638.91 L129.37,640.36 L129.36,641.80 L129.35,643.24 L129.31,644.69 L129.26,646.13 L129.22,647.57 L129.17,649.01 L129.13,650.46 L129.08,651.90" fill="none" stroke="#555" stroke-width="0.45"/>
<path d="M122.77,651.90 L122.66,650.53 L122.55,649.16 L122.44,647.79 L122.32,646.41 L122.21,645.04 L122.13,643.67 L122.17,642.30 L122.22,640.93 L122.26,639.56 L122.30,638.19 L122.34,636.81 L122.38,635.44 L122.42,634.07 L122.50,632.70 L122.59,631.33 L122.67,629.96 L122.76,628.59 L122.84,627.21 L122.94,625.84 L123.04,624.47 L123.14,623.10 L123.29,621.73 L123.48,620.36 L123.66,618.99 L123.98,617.61 L124.37,616.24 L124.91,614.87 L126.00,613.50 L126.00,613.50 L126.00,613.50 L127.09,614.87 L127.63,616.24 L128.02,617.61 L128.35,618.99 L128.56,620.36 L128.77,621.73 L128.92,623.10 L129.00,624.47 L129.08,625.84 L129.10,627.21 L129.07,628.59 L129.05,629.96 L129.02,631.33 L128.99,632.70 L128.96,634.07 L128.95,635.44 L128.94,636.81 L128.93,638.19 L128.92,639.56 L128.91,640.93 L128.90,642.30 L128.89,643.67 L128.86,645.04 L128.82,646.41 L128.78,647.79 L128.74,649.16 L128.70,650.53 L128.66,651.90" fill="none" stroke="#555" stroke-width="0.45"/>
<ellipse cx="121.00" cy="623.50" rx="3.00" ry="9.50" fill="#000" opacity="0.9"/>
<ellipse cx="129.60" cy="624.50" rx="3.00" ry="10.50" fill="#000" opacity="0.9"/>
<ellipse cx="125.30" cy="626.00" rx="6.50" ry="11.00" fill="#000" opacity="0.3"/>
<rect x="130.97" y="613.86" width="0.9" height="0.9" fill="#111"/>
<rect x="131.44" y="641.73" width="0.9" height="0.9" fill="#111"/>
<rect x="122.04" y="645.29" width="0.9" height="0.9" fill="#111"/>
<rect x="127.51" y="633.27" width="0.9" height="0.9" fill="#111"/>
<rect x="132.03" y="620.36" width="0.9" height="0.9" fill="#111"/>
<rect x="130.27" y="648.69" width="0.9" height="0.9" fill="#fff"/>
<rect x="124.81" y="614.58" width="0.9" height="0.9" fill="#111"/>
<rect x="122.95" y="623.32" width="0.9" height="0.9" fill="#000"/>
<rect x="127.89" y="635.31" width="0.9" height="0.9" fill="#000"/>
<rect x="129.72" y="624.99" width="0.9" height="0.9" fill="#777"/>
<rect x="120.08" y="638.94" width="0.9" height="0.9" fill="#777"/>
<rect x="118.18" y="639.24" width="0.9" height="0.9" fill="#000"/>
<rect x="123.19" y="648.07" width="0.9" height="0.9" fill="#777"/>
<rect x="129.83" y="614.45" width="0.9" height="0.9" fill="#fff"/>
<rect x="130.00" y="627.39" width="0.9" height="0.9" fill="#777"/>
<rect x="121.58" y="615.49" width="0.9" height="0.9" fill="#111"/>
<rect x="122.22" y="618.10" width="0.9" height="0.9" fill="#777"/>
<rect x="123.09" y="626.23" width="0.9" height="0.9" fill="#fff"/>
<rect x="119.12" y="641.80" width="0.9" height="0.9" fill="#fff"/>
<rect x="118.50" y="644.83" width="0.9" height="0.9" fill="#000"/>
<rect x="125.65" y="621.33" width="0.9" height="0.9" fill="#fff"/>
<rect x="122.87" y="646.94" width="0.9" height="0.9" fill="#000"/>
<rect x="122.60" y="625.08" width="0.9" height="0.9" fill="#111"/>
<rect x="126.63" y="642.64" width="0.9" height="0.9" fill="#fff"/>
<rect x="120.78" y="649.78" width="0.9" height="0.9" fill="#000"/>
<rect x="127.17" y="616.72" width="0.9" height="0.9" fill="#777"/>
<rect x="129.17" y="614.95" width="0.9" height="0.9" fill="#fff"/>
<rect x="124.24" y="643.63" width="0.9" height="0.9" fill="#777"/>
<rect x="132.23" y="619.06" width="0.9" height="0.9" fill="#000"/>
<rect x="122.46" y="642.74" width="0.9" height="0.9" fill="#111"/>
<rect x="128.85" y="618.51" width="0.9" height="0.9" fill="#111"/>
<rect x="129.04" y="636.56" width="0.9" height="0.9" fill="#000"/>
<rect x="123.82" y="619.89" width="0.9" height="0.9" fill="#000"/>
<rect x="122.03" y="644.29" width="0.9" height="0.9" fill="#777"/>
<rect x="126.64" y="647.08" width="0.9" height="0.9" fill="#111"/>
<rect x="124.51" y="649.03" width="0.9" height="0.9" fill="#777"/>
<rect x="122.06" y="638.67" width="0.9" height="0.9" fill="#fff"/>
<rect x="123.89" y="624.31" width="0.9" height="0.9" fill="#111"/>
<rect x="130.13" y="617.86" width="0.9" height="0.9" fill="#111"/>
<rect x="124.81" y="636.43" width="0.9" height="0.9" fill="#fff"/>
<rect x="125.43" y="620.30" width="0.9" height="0.9" fill="#fff"/>
<rect x="129.85" y="616.08" width="0.9" height="0.9" fill="#fff"/>
<rect x="127.16" y="638.87" width="0.9" height="0.9" fill="#fff"/>
<rect x="128.06" y="626.92" width="0.9" height="0.9" fill="#fff"/>
<rect x="121.58" y="643.95" width="0.9" height="0.9" fill="#fff"/>
<rect x="122.98" y="648.34" width="0.9" height="0.9" fill="#111"/>
<rect x="117.75" y="634.76" width="0.9" height="0.9" fill="#fff"/>
<rect x="121.96" y="625.57" width="0.9" height="0.9" fill="#fff"/>
<rect x="126.94" y="643.28" width="0.9" height="0.9" fill="#fff"/>
<rect x="127.21" y="626.36" width="0.9" height="0.9" fill="#777"/>
<rect x="130.04" y="626.44" width="0.9" height="0.9" fill="#777"/>
<rect x="131.08" y="649.04" width="0.9" height="0.9" fill="#111"/>
<rect x="120.09" y="632.91" width="0.9" height="0.9" fill="#fff"/>
<rect x="124.75" y="647.64" width="0.9" height="0.9" fill="#000"/>
<rect x="128.11" y="639.78" width="0.9" height="0.9" fill="#111"/>
<rect x="131.22" y="636.07" width="0.9" height="0.9" fill="#777"/>
<rect x="125.97" y="624.73" width="0.9" height="0.9" fill="#fff"/>
<rect x="117.72" y="639.81" width="0.9" height="0.9" fill="#111"/>
<rect x="126.68" y="634.97" width="0.9" height="0.9" fill="#111"/>
<rect x="128.04" y="621.71" width="0.9" height="0.9" fill="#000"/>
<rect x="131.36" y="649.41" width="0.9" height="0.9" fill="#111"/>
<rect x="120.91" y="615.75" width="0.9" height="0.9" fill="#fff"/>
<rect x="124.88" y="648.74" width="0.9" height="0.9" fill="#000"/>
<rect x="122.94" y="628.80" width="0.9" height="0.9" fill="#000"/>
<rect x="121.03" y="635.10" width="0.9" height="0.9" fill="#fff"/>
<rect x="124.74" y="613.82" width="0.9" height="0.9" fill="#fff"/>
<rect x="130.01" y="644.70" width="0.9" height="0.9" fill="#fff"/>
<rect x="125.75" y="648.61" width="0.9" height="0.9" fill="#fff"/>
<rect x="126.38" y="617.22" width="0.9" height="0.9" fill="#fff"/>
<rect x="122.34" y="648.13" width="0.9" height="0.9" fill="#fff"/>
<rect x="123.71" y="643.35" width="0.9" height="0.9" fill="#fff"/>
<rect x="120.06" y="630.68" width="0.9" height="0.9" fill="#777"/>
<rect x="131.55" y="634.16" width="0.9" height="0.9" fill="#111"/>
<rect x="122.66" y="635.77" width="0.9" height="0.9" fill="#000"/>
<rect x="122.63" y="627.58" width="0.9" height="0.9" fill="#111"/>
<rect x="130.54" y="625.55" width="0.9" height="0.9" fill="#777"/>
<rect x="131.91" y="629.29" width="0.9" height="0.9" fill="#777"/>
<rect x="131.93" y="624.32" width="0.9" height="0.9" fill="#777"/>
<rect x="130.19" y="627.66" width="0.9" height="0.9" fill="#111"/>
<rect x="121.35" y="635.31" width="0.9" height="0.9" fill="#fff"/>
<rect x="123.75" y="631.72" width="0.9" height="0.9" fill="#fff"/>
<rect x="122.51" y="647.92" width="0.9" height="0.9" fill="#fff"/>
<rect x="119.08" y="618.97" width="0.9" height="0.9" fill="#777"/>
<rect x="118.92" y="622.66" width="0.9" height="0.9" fill="#111"/>
<rect x="118.01" y="643.65" width="0.9" height="0.9" fill="#fff"/>
<rect x="125.01" y="622.59" width="0.9" height="0.9" fill="#000"/>
<rect x="122.11" y="622.67" width="0.9" height="0.9" fill="#111"/>
<rect x="121.54" y="639.84" width="0.9" height="0.9" fill="#777"/>
<rect x="124.47" y="635.75" width="0.9" height="0.9" fill="#000"/>
<rect x="120.95" y="614.38" width="0.9" height="0.9" fill="#fff"/>
<rect x="122.55" y="633.06" width="0.9" height="0.9" fill="#fff"/>
<rect x="117.72" y="640.20" width="0.9" height="0.9" fill="#fff"/>
<rect x="128.64" y="626.83" width="0.9" height="0.9" fill="#111"/>
<rect x="122.58" y="615.12" width="0.9" height="0.9" fill="#777"/>
<rect x="118.96" y="638.55" width="0.9" height="0.9" fill="#111"/>
<rect x="129.71" y="614.33" width="0.9" height="0.9" fill="#777"/>
<rect x="127.62" y="635.28" width="0.9" height="0.9" fill="#777"/>
<rect x="129.66" y="644.80" width="0.9" height="0.9" fill="#777"/>
<rect x="130.14" y="627.95" width="0.9" height="0.9" fill="#111"/>
<rect x="124.51" y="646.25" width="0.9" height="0.9" fill="#000"/>
<rect x="118.17" y="624.76" width="0.9" height="0.9" fill="#777"/>
<rect x="127.04" y="634.81" width="0.9" height="0.9" fill="#777"/>
<rect x="120.18" y="646.68" width="0.9" height="0.9" fill="#777"/>
<rect x="130.47" y="638.90" width="0.9" height="0.9" fill="#fff"/>
<rect x="123.84" y="633.22" width="0.9" height="0.9" fill="#000"/>
<rect x="122.17" y="616.27" width="0.9" height="0.9" fill="#000"/>
<rect x="127.16" y="642.38" width="0.9" height="0.9" fill="#000"/>
<rect x="124.17" y="625.82" width="0.9" height="0.9" fill="#000"/>
<rect x="127.75" y="649.84" width="0.9" height="0.9" fill="#000"/>
<rect x="120.51" y="618.25" width="0.9" height="0.9" fill="#000"/>
<rect x="114.17" y="632.46" width="0.9" height="0.9" fill="#111"/>
<rect x="115.80" y="645.28" width="0.9" height="0.9" fill="#111"/>
<rect x="117.11" y="613.83" width="0.9" height="0.9" fill="#111"/>
<rect x="120.91" y="590.72" width="0.9" height="0.9" fill="#111"/>
<rect x="115.14" y="611.66" width="0.9" height="0.9" fill="#111"/>
<rect x="136.55" y="623.90" width="0.9" height="0.9" fill="#111"/>
<rect x="125.11" y="596.38" width="0.9" height="0.9" fill="#111"/>
<rect x="134.66" y="607.63" width="0.9" height="0.9" fill="#111"/>
<rect x="113.76" y="646.56" width="0.9" height="0.9" fill="#111"/>
<rect x="115.58" y="631.51" width="0.9" height="0.9" fill="#111"/>
<rect x="135.42" y="619.56" width="0.9" height="0.9" fill="#111"/>
<rect x="115.51" y="626.74" width="0.9" height="0.9" fill="#111"/>
<rect x="133.76" y="603.86" width="0.9" height="0.9" fill="#111"/>
<rect x="122.55" y="596.35" width="0.9" height="0.9" fill="#111"/>
<rect x="133.83" y="611.16" width="0.9" height="0.9" fill="#111"/>
<rect x="133.24" y="632.51" width="0.9" height="0.9" fill="#111"/>
<rect x="113.65" y="629.68" width="0.9" height="0.9" fill="#111"/>
<rect x="116.90" y="625.06" width="0.9" height="0.9" fill="#111"/>
<rect x="117.35" y="617.98" width="0.9" height="0.9" fill="#111"/>
<rect x="128.93" y="589.84" width="0.9" height="0.9" fill="#111"/>
<rect x="121.46" y="591.35" width="0.9" height="0.9" fill="#111"/>
<rect x="133.32" y="647.41" width="0.9" height="0.9" fill="#111"/>
<rect x="132.15" y="595.24" width="0.9" height="0.9" fill="#111"/>
<rect x="133.50" y="629.50" width="0.9" height="0.9" fill="#111"/>
<rect x="114.23" y="626.99" width="0.9" height="0.9" fill="#111"/>
<rect x="134.27" y="608.80" width="0.9" height="0.9" fill="#111"/>
<rect x="118.18" y="612.07" width="0.9" height="0.9" fill="#111"/>
<rect x="134.69" y="628.43" width="0.9" height="0.9" fill="#111"/>
<rect x="135.11" y="641.14" width="0.9" height="0.9" fill="#111"/>
<rect x="134.63" y="623.77" width="0.9" height="0.9" fill="#111"/>
<rect x="119.93" y="594.05" width="0.9" height="0.9" fill="#111"/>
<rect x="121.04" y="600.63" width="0.9" height="0.9" fill="#111"/>
<rect x="133.26" y="618.01" width="0.9" height="0.9" fill="#111"/>
<rect x="135.76" y="617.34" width="0.9" height="0.9" fill="#111"/>
<rect x="114.92" y="614.75" width="0.9" height="0.9" fill="#111"/>
<rect x="120.47" y="597.65" width="0.9" height="0.9" fill="#111"/>
<rect x="133.81" y="612.07" width="0.9" height="0.9" fill="#111"/>
<rect x="117.01" y="603.85" width="0.9" height="0.9" fill="#111"/>
<rect x="117.82" y="605.91" width="0.9" height="0.9" fill="#111"/>
<rect x="131.52" y="590.00" width="0.9" height="0.9" fill="#111"/>
<rect x="135.85" y="611.02" width="0.9" height="0.9" fill="#111"/>
<rect x="116.91" y="630.05" width="0.9" height="0.9" fill="#111"/>
<rect x="128.19" y="595.36" width="0.9" height="0.9" fill="#111"/>
<rect x="135.23" y="606.16" width="0.9" height="0.9" fill="#111"/>
<rect x="118.81" y="598.19" width="0.9" height="0.9" fill="#111"/>
<rect x="118.32" y="602.38" width="0.9" height="0.9" fill="#111"/>
<rect x="115.10" y="648.75" width="0.9" height="0.9" fill="#111"/>
<rect x="117.18" y="617.21" width="0.9" height="0.9" fill="#111"/>
<rect x="113.95" y="632.80" width="0.9" height="0.9" fill="#111"/>
<rect x="135.52" y="629.94" width="0.9" height="0.9" fill="#111"/>
<rect x="133.39" y="614.87" width="0.9" height="0.9" fill="#111"/>
<rect x="129.63" y="591.80" width="0.9" height="0.9" fill="#111"/>
<rect x="116.85" y="613.59" width="0.9" height="0.9" fill="#111"/>
<rect x="133.71" y="649.75" width="0.9" height="0.9" fill="#111"/>
<rect x="120.43" y="593.85" width="0.9" height="0.9" fill="#111"/>
<rect x="116.93" y="644.08" width="0.9" height="0.9" fill="#111"/>
<rect x="122.67" y="591.35" width="0.9" height="0.9" fill="#111"/>
<rect x="124.67" y="591.15" width="0.9" height="0.9" fill="#111"/>
<rect x="122.82" y="591.75" width="0.9" height="0.9" fill="#111"/>
<rect x="114.88" y="613.43" width="0.9" height="0.9" fill="#111"/>
<rect x="132.13" y="590.35" width="0.9" height="0.9" fill="#111"/>
<rect x="131.41" y="599.19" width="0.9" height="0.9" fill="#111"/>
<rect x="115.08" y="621.15" width="0.9" height="0.9" fill="#111"/>
<rect x="126.55" y="594.74" width="0.9" height="0.9" fill="#111"/>
<rect x="135.95" y="645.49" width="0.9" height="0.9" fill="#111"/>
<rect x="119.27" y="601.38" width="0.9" height="0.9" fill="#111"/>
<rect x="134.75" y="618.36" width="0.9" height="0.9" fill="#111"/>
<rect x="136.63" y="627.01" width="0.9" height="0.9" fill="#111"/>
<rect x="118.89" y="607.19" width="0.9" height="0.9" fill="#111"/>
<rect x="118.06" y="601.98" width="0.9" height="0.9" fill="#111"/>
<rect x="129.54" y="593.47" width="0.9" height="0.9" fill="#111"/>
<rect x="113.17" y="639.13" width="0.9" height="0.9" fill="#111"/>
<rect x="122.68" y="593.12" width="0.9" height="0.9" fill="#111"/>
<rect x="125.07" y="593.26" width="0.9" height="0.9" fill="#111"/>
<rect x="113.75" y="624.00" width="0.9" height="0.9" fill="#111"/>
<rect x="113.84" y="631.72" width="0.9" height="0.9" fill="#111"/>
<rect x="116.30" y="605.85" width="0.9" height="0.9" fill="#111"/>
<rect x="117.58" y="614.24" width="0.9" height="0.9" fill="#111"/>
<rect x="135.70" y="622.70" width="0.9" height="0.9" fill="#111"/>
<rect x="134.63" y="635.41" width="0.9" height="0.9" fill="#111"/>
<rect x="136.63" y="638.97" width="0.9" height="0.9" fill="#111"/>
<rect x="133.96" y="633.43" width="0.9" height="0.9" fill="#111"/>
<rect x="113.19" y="638.67" width="0.9" height="0.9" fill="#111"/>
<rect x="121.70" y="592.11" width="0.9" height="0.9" fill="#111"/>
<rect x="132.98" y="604.39" width="0.9" height="0.9" fill="#111"/>
<rect x="129.43" y="591.96" width="0.9" height="0.9" fill="#111"/>
<rect x="113.85" y="622.77" width="0.9" height="0.9" fill="#111"/>
<rect x="124.14" y="596.12" width="0.9" height="0.9" fill="#111"/>
<rect x="135.16" y="641.65" width="0.9" height="0.9" fill="#111"/>
<rect x="118.15" y="602.42" width="0.9" height="0.9" fill="#111"/>
<rect x="117.66" y="608.62" width="0.9" height="0.9" fill="#111"/>
<rect x="133.19" y="639.60" width="0.9" height="0.9" fill="#111"/>
<rect x="116.66" y="621.09" width="0.9" height="0.9" fill="#111"/>
<rect x="136.51" y="615.84" width="0.9" height="0.9" fill="#111"/>
<rect x="123.62" y="595.38" width="0.9" height="0.9" fill="#111"/>
<rect x="115.06" y="645.10" width="0.9" height="0.9" fill="#111"/>
<rect x="137.09" y="615.54" width="0.9" height="0.9" fill="#111"/>
<rect x="135.52" y="621.23" width="0.9" height="0.9" fill="#111"/>
<rect x="130.09" y="594.46" width="0.9" height="0.9" fill="#111"/>
<rect x="118.49" y="614.17" width="0.9" height="0.9" fill="#111"/>
<rect x="127.00" y="590.05" width="0.9" height="0.9" fill="#111"/>
<rect x="134.82" y="618.08" width="0.9" height="0.9" fill="#111"/>
<rect x="117.88" y="601.45" width="0.9" height="0.9" fill="#111"/>
<rect x="116.61" y="623.10" width="0.9" height="0.9" fill="#111"/>
<rect x="117.54" y="603.07" width="0.9" height="0.9" fill="#111"/>
<rect x="135.73" y="649.30" width="0.9" height="0.9" fill="#111"/>
<rect x="113.89" y="626.57" width="0.9" height="0.9" fill="#111"/>
<rect x="112.76" y="639.90" width="0.9" height="0.9" fill="#111"/>
<rect x="121.38" y="598.58" width="0.9" height="0.9" fill="#111"/>
<rect x="116.38" y="644.17" width="0.9" height="0.9" fill="#111"/>
<rect x="131.00" y="568.00" width="1" height="1" fill="#111"/>
<rect x="119.00" y="589.00" width="1" height="1" fill="#111"/>
<rect x="134.50" y="591.00" width="1" height="1" fill="#111"/>
<rect x="119.36" y="649.90" width="11.69" height="2.0" fill="#111" opacity="0.8"/>
<rect x="106.50" y="548.50" width="36.30" height="66.30" fill="none" stroke="#2a2a2a" stroke-width="1.0"/>
<clipPath id="env2"><path d="M226.00,651.80 L225.85,650.02 L225.70,648.24 L225.55,646.46 L225.40,644.69 L225.25,642.91 L225.10,641.13 L225.03,639.35 L225.10,637.57 L225.17,635.79 L225.24,634.01 L225.31,632.24 L225.38,630.46 L225.45,628.68 L225.52,626.90 L225.60,625.12 L225.92,623.34 L226.26,621.56 L226.60,619.79 L226.94,618.01 L227.27,616.23 L227.61,614.45 L228.05,612.67 L228.51,610.89 L228.97,609.11 L229.83,607.34 L230.72,605.56 L232.55,603.78 L234.80,602.00 L234.80,602.00 L234.80,602.00 L237.05,603.78 L238.88,605.56 L239.77,607.34 L240.63,609.11 L241.05,610.89 L241.48,612.67 L241.86,614.45 L242.08,616.23 L242.31,618.01 L242.54,619.79 L242.76,621.56 L242.99,623.34 L243.20,625.12 L243.25,626.90 L243.30,628.68 L243.35,630.46 L243.39,632.24 L243.44,634.01 L243.49,635.79 L243.54,637.57 L243.58,639.35 L243.54,641.13 L243.45,642.91 L243.36,644.69 L243.27,646.46 L243.18,648.24 L243.09,650.02 L243.00,651.80 Z"/></clipPath>
<path d="M226.00,651.80 L225.85,650.02 L225.70,648.24 L225.55,646.46 L225.40,644.69 L225.25,642.91 L225.10,641.13 L225.03,639.35 L225.10,637.57 L225.17,635.79 L225.24,634.01 L225.31,632.24 L225.38,630.46 L225.45,628.68 L225.52,626.90 L225.60,625.12 L225.92,623.34 L226.26,621.56 L226.60,619.79 L226.94,618.01 L227.27,616.23 L227.61,614.45 L228.05,612.67 L228.51,610.89 L228.97,609.11 L229.83,607.34 L230.72,605.56 L232.55,603.78 L234.80,602.00 L234.80,602.00 L234.80,602.00 L237.05,603.78 L238.88,605.56 L239.77,607.34 L240.63,609.11 L241.05,610.89 L241.48,612.67 L241.86,614.45 L242.08,616.23 L242.31,618.01 L242.54,619.79 L242.76,621.56 L242.99,623.34 L243.20,625.12 L243.25,626.90 L243.30,628.68 L243.35,630.46 L243.39,632.24 L243.44,634.01 L243.49,635.79 L243.54,637.57 L243.58,639.35 L243.54,641.13 L243.45,642.91 L243.36,644.69 L243.27,646.46 L243.18,648.24 L243.09,650.02 L243.00,651.80" fill="#f3f3f3" stroke="#2a2a2a" stroke-width="0.6"/>
<g clip-path="url(#env2)"><rect x="214.80" y="611.80" width="40" height="40.00" fill="#8a8a8a"/>
<rect x="224.78" y="614.80" width="0.7" height="37.00" fill="#666" opacity="0.7"/>
<rect x="226.16" y="614.80" width="0.7" height="37.00" fill="#bbb" opacity="0.7"/>
<rect x="228.02" y="614.80" width="0.7" height="37.00" fill="#555" opacity="0.7"/>
<rect x="229.20" y="614.80" width="0.7" height="37.00" fill="#ccc" opacity="0.7"/>
<rect x="231.04" y="614.80" width="0.7" height="37.00" fill="#555" opacity="0.7"/>
<rect x="232.20" y="614.80" width="0.7" height="37.00" fill="#444" opacity="0.7"/>
<rect x="233.92" y="614.80" width="0.7" height="37.00" fill="#ccc" opacity="0.7"/>
<rect x="235.10" y="614.80" width="0.7" height="37.00" fill="#ccc" opacity="0.7"/>
<rect x="237.07" y="614.80" width="0.7" height="37.00" fill="#ccc" opacity="0.7"/>
<rect x="238.09" y="614.80" width="0.7" height="37.00" fill="#bbb" opacity="0.7"/>
<rect x="239.53" y="614.80" width="0.7" height="37.00" fill="#bbb" opacity="0.7"/>
<rect x="241.30" y="614.80" width="0.7" height="37.00" fill="#444" opacity="0.7"/>
<rect x="242.54" y="614.80" width="0.7" height="37.00" fill="#ccc" opacity="0.7"/>
<rect x="244.47" y="614.80" width="0.7" height="37.00" fill="#555" opacity="0.7"/>
</g>
<path d="M226.88,651.80 L226.74,650.15 L226.61,648.49 L226.47,646.84 L226.34,645.19 L226.20,643.53 L226.07,641.88 L226.00,640.22 L226.07,638.57 L226.13,636.92 L226.20,635.26 L226.26,633.61 L226.32,631.96 L226.39,630.30 L226.45,628.65 L226.52,627.00 L226.80,625.34 L227.11,623.69 L227.42,622.04 L227.72,620.38 L228.03,618.73 L228.33,617.08 L228.72,615.42 L229.14,613.77 L229.55,612.11 L230.33,610.46 L231.13,608.81 L232.77,607.15 L234.80,605.50 L234.80,605.50 L234.80,605.50 L236.83,607.15 L238.47,608.81 L239.27,610.46 L240.04,612.11 L240.43,613.77 L240.81,615.42 L241.15,617.08 L241.36,618.73 L241.56,620.38 L241.76,622.04 L241.97,623.69 L242.17,625.34 L242.36,627.00 L242.41,628.65 L242.45,630.30 L242.49,631.96 L242.53,633.61 L242.58,635.26 L242.62,636.92 L242.66,638.57 L242.70,640.22 L242.67,641.88 L242.59,643.53 L242.51,645.19 L242.42,646.84 L242.34,648.49 L242.26,650.15 L242.18,651.80" fill="none" stroke="#555" stroke-width="0.45"/>
<path d="M227.76,651.80 L227.64,650.25 L227.52,648.71 L227.40,647.16 L227.28,645.61 L227.16,644.07 L227.04,642.52 L226.98,640.97 L227.04,639.43 L227.09,637.88 L227.15,636.34 L227.21,634.79 L227.27,633.24 L227.32,631.70 L227.38,630.15 L227.44,628.60 L227.69,627.06 L227.96,625.51 L228.24,623.96 L228.51,622.42 L228.78,620.87 L229.05,619.33 L229.40,617.78 L229.77,616.23 L230.14,614.69 L230.83,613.14 L231.54,611.59 L233.00,610.05 L234.80,608.50 L234.80,608.50 L234.80,608.50 L236.60,610.05 L238.06,611.59 L238.77,613.14 L239.46,614.69 L239.80,616.23 L240.14,617.78 L240.45,619.33 L240.63,620.87 L240.81,622.42 L240.99,623.96 L241.17,625.51 L241.35,627.06 L241.52,628.60 L241.56,630.15 L241.60,631.70 L241.64,633.24 L241.67,634.79 L241.71,636.34 L241.75,637.88 L241.79,639.43 L241.83,640.97 L241.79,642.52 L241.72,644.07 L241.65,645.61 L241.58,647.16 L241.50,648.71 L241.43,650.25 L241.36,651.80" fill="none" stroke="#555" stroke-width="0.45"/>
<path d="M228.46,651.80 L228.36,650.34 L228.25,648.89 L228.14,647.43 L228.03,645.97 L227.92,644.51 L227.81,643.06 L227.76,641.60 L227.81,640.14 L227.87,638.69 L227.92,637.23 L227.97,635.77 L228.02,634.31 L228.07,632.86 L228.12,631.40 L228.17,629.94 L228.40,628.49 L228.65,627.03 L228.89,625.57 L229.14,624.11 L229.38,622.66 L229.63,621.20 L229.94,619.74 L230.27,618.29 L230.60,616.83 L231.22,615.37 L231.86,613.91 L233.18,612.46 L234.80,611.00 L234.80,611.00 L234.80,611.00 L236.42,612.46 L237.74,613.91 L238.38,615.37 L239.00,616.83 L239.30,618.29 L239.61,619.74 L239.88,621.20 L240.04,622.66 L240.21,624.11 L240.37,625.57 L240.53,627.03 L240.70,628.49 L240.85,629.94 L240.88,631.40 L240.92,632.86 L240.95,634.31 L240.99,635.77 L241.02,637.23 L241.06,638.69 L241.09,640.14 L241.12,641.60 L241.09,643.06 L241.03,644.51 L240.96,645.97 L240.90,647.43 L240.83,648.89 L240.77,650.34 L240.70,651.80" fill="none" stroke="#555" stroke-width="0.45"/>
<path d="M229.17,651.80 L229.07,650.41 L228.98,649.03 L228.88,647.64 L228.78,646.26 L228.69,644.87 L228.59,643.49 L228.54,642.10 L228.59,640.71 L228.64,639.33 L228.68,637.94 L228.73,636.56 L228.77,635.17 L228.82,633.79 L228.86,632.40 L228.91,631.01 L229.11,629.63 L229.33,628.24 L229.55,626.86 L229.77,625.47 L229.98,624.09 L230.20,622.70 L230.48,621.31 L230.77,619.93 L231.07,618.54 L231.62,617.16 L232.19,615.77 L233.36,614.39 L234.80,613.00 L234.80,613.00 L234.80,613.00 L236.24,614.39 L237.41,615.77 L237.98,617.16 L238.53,618.54 L238.80,619.93 L239.08,621.31 L239.32,622.70 L239.46,624.09 L239.61,625.47 L239.75,626.86 L239.90,628.24 L240.04,629.63 L240.18,631.01 L240.21,632.40 L240.24,633.79 L240.27,635.17 L240.30,636.56 L240.33,637.94 L240.36,639.33 L240.39,640.71 L240.42,642.10 L240.40,643.49 L240.34,644.87 L240.28,646.26 L240.22,647.64 L240.16,649.03 L240.11,650.41 L240.05,651.80" fill="none" stroke="#555" stroke-width="0.45"/>
<path d="M229.87,651.80 L229.79,650.49 L229.70,649.17 L229.62,647.86 L229.53,646.54 L229.45,645.23 L229.37,643.91 L229.33,642.60 L229.37,641.29 L229.41,639.97 L229.45,638.66 L229.49,637.34 L229.53,636.03 L229.57,634.71 L229.61,633.40 L229.65,632.09 L229.83,630.77 L230.02,629.46 L230.21,628.14 L230.40,626.83 L230.59,625.51 L230.78,624.20 L231.02,622.89 L231.28,621.57 L231.54,620.26 L232.02,618.94 L232.52,617.63 L233.54,616.31 L234.80,615.00 L234.80,615.00 L234.80,615.00 L236.06,616.31 L237.08,617.63 L237.58,618.94 L238.06,620.26 L238.30,621.57 L238.54,622.89 L238.75,624.20 L238.88,625.51 L239.01,626.83 L239.13,628.14 L239.26,629.46 L239.39,630.77 L239.51,632.09 L239.53,633.40 L239.56,634.71 L239.59,636.03 L239.61,637.34 L239.64,638.66 L239.67,639.97 L239.69,641.29 L239.72,642.60 L239.70,643.91 L239.65,645.23 L239.59,646.54 L239.54,647.86 L239.49,649.17 L239.44,650.49 L239.39,651.80" fill="none" stroke="#555" stroke-width="0.45"/>
<path d="M230.40,651.80 L230.32,650.56 L230.25,649.31 L230.17,648.07 L230.10,646.83 L230.02,645.59 L229.95,644.34 L229.91,643.10 L229.95,641.86 L229.98,640.61 L230.02,639.37 L230.06,638.13 L230.09,636.89 L230.13,635.64 L230.16,634.40 L230.20,633.16 L230.36,631.91 L230.53,630.67 L230.70,629.43 L230.87,628.19 L231.04,626.94 L231.21,625.70 L231.42,624.46 L231.65,623.21 L231.89,621.97 L232.32,620.73 L232.76,619.49 L233.67,618.24 L234.80,617.00 L234.80,617.00 L234.80,617.00 L235.93,618.24 L236.84,619.49 L237.28,620.73 L237.71,621.97 L237.93,623.21 L238.14,624.46 L238.33,625.70 L238.44,626.94 L238.56,628.19 L238.67,629.43 L238.78,630.67 L238.89,631.91 L239.00,633.16 L239.03,634.40 L239.05,635.64 L239.07,636.89 L239.10,638.13 L239.12,639.37 L239.14,640.61 L239.17,641.86 L239.19,643.10 L239.17,644.34 L239.13,645.59 L239.08,646.83 L239.04,648.07 L238.99,649.31 L238.95,650.56 L238.90,651.80" fill="none" stroke="#555" stroke-width="0.45"/>
<path d="M230.93,651.80 L230.86,650.63 L230.80,649.46 L230.73,648.29 L230.66,647.11 L230.60,645.94 L230.53,644.77 L230.50,643.60 L230.53,642.43 L230.56,641.26 L230.59,640.09 L230.62,638.91 L230.66,637.74 L230.69,636.57 L230.72,635.40 L230.75,634.23 L230.89,633.06 L231.04,631.89 L231.19,630.71 L231.34,629.54 L231.49,628.37 L231.64,627.20 L231.83,626.03 L232.03,624.86 L232.23,623.69 L232.61,622.51 L233.01,621.34 L233.81,620.17 L234.80,619.00 L234.80,619.00 L234.80,619.00 L235.79,620.17 L236.59,621.34 L236.99,622.51 L237.36,623.69 L237.55,624.86 L237.74,626.03 L237.91,627.20 L238.00,628.37 L238.10,629.54 L238.20,630.71 L238.30,631.89 L238.40,633.06 L238.50,634.23 L238.52,635.40 L238.54,636.57 L238.56,637.74 L238.58,638.91 L238.60,640.09 L238.62,641.26 L238.64,642.43 L238.66,643.60 L238.65,644.77 L238.61,645.94 L238.57,647.11 L238.53,648.29 L238.49,649.46 L238.45,650.63 L238.41,651.80" fill="none" stroke="#555" stroke-width="0.45"/>
<path d="M231.46,651.80 L231.40,650.70 L231.34,649.60 L231.28,648.50 L231.23,647.40 L231.17,646.30 L231.11,645.20 L231.09,644.10 L231.11,643.00 L231.14,641.90 L231.17,640.80 L231.19,639.70 L231.22,638.60 L231.25,637.50 L231.28,636.40 L231.30,635.30 L231.42,634.20 L231.55,633.10 L231.68,632.00 L231.81,630.90 L231.94,629.80 L232.07,628.70 L232.23,627.60 L232.41,626.50 L232.58,625.40 L232.91,624.30 L233.25,623.20 L233.94,622.10 L234.80,621.00 L234.80,621.00 L234.80,621.00 L235.66,622.10 L236.35,623.20 L236.69,624.30 L237.01,625.40 L237.18,626.50 L237.34,627.60 L237.48,628.70 L237.57,629.80 L237.65,630.90 L237.74,632.00 L237.83,633.10 L237.91,634.20 L237.99,635.30 L238.01,636.40 L238.03,637.50 L238.05,638.60 L238.07,639.70 L238.08,640.80 L238.10,641.90 L238.12,643.00 L238.14,644.10 L238.12,645.20 L238.09,646.30 L238.05,647.40 L238.02,648.50 L237.98,649.60 L237.95,650.70 L237.92,651.80" fill="none" stroke="#555" stroke-width="0.45"/>
<ellipse cx="231.50" cy="629.00" rx="2.30" ry="14.00" fill="#000" opacity="0.9"/>
<ellipse cx="238.00" cy="629.00" rx="2.30" ry="14.00" fill="#000" opacity="0.9"/>
<ellipse cx="234.60" cy="630.00" rx="5.50" ry="16.00" fill="#000" opacity="0.3"/>
<rect x="230.09" y="646.88" width="0.9" height="0.9" fill="#111"/>
<rect x="233.08" y="639.93" width="0.9" height="0.9" fill="#000"/>
<rect x="240.65" y="641.61" width="0.9" height="0.9" fill="#777"/>
<rect x="238.85" y="623.92" width="0.9" height="0.9" fill="#111"/>
<rect x="226.61" y="639.32" width="0.9" height="0.9" fill="#777"/>
<rect x="233.28" y="615.77" width="0.9" height="0.9" fill="#777"/>
<rect x="231.27" y="618.81" width="0.9" height="0.9" fill="#000"/>
<rect x="227.28" y="648.50" width="0.9" height="0.9" fill="#111"/>
<rect x="230.01" y="646.03" width="0.9" height="0.9" fill="#000"/>
<rect x="228.97" y="645.93" width="0.9" height="0.9" fill="#000"/>
<rect x="235.45" y="631.83" width="0.9" height="0.9" fill="#111"/>
<rect x="232.86" y="628.92" width="0.9" height="0.9" fill="#000"/>
<rect x="228.80" y="639.03" width="0.9" height="0.9" fill="#000"/>
<rect x="235.34" y="615.75" width="0.9" height="0.9" fill="#111"/>
<rect x="237.99" y="640.63" width="0.9" height="0.9" fill="#000"/>
<rect x="237.17" y="618.17" width="0.9" height="0.9" fill="#111"/>
<rect x="234.63" y="619.62" width="0.9" height="0.9" fill="#fff"/>
<rect x="234.70" y="644.24" width="0.9" height="0.9" fill="#000"/>
<rect x="228.57" y="645.03" width="0.9" height="0.9" fill="#fff"/>
<rect x="232.91" y="630.05" width="0.9" height="0.9" fill="#000"/>
<rect x="235.97" y="627.44" width="0.9" height="0.9" fill="#000"/>
<rect x="230.10" y="629.41" width="0.9" height="0.9" fill="#777"/>
<rect x="238.89" y="623.51" width="0.9" height="0.9" fill="#fff"/>
<rect x="228.23" y="636.46" width="0.9" height="0.9" fill="#000"/>
<rect x="237.91" y="614.71" width="0.9" height="0.9" fill="#777"/>
<rect x="237.51" y="631.70" width="0.9" height="0.9" fill="#111"/>
<rect x="227.74" y="634.18" width="0.9" height="0.9" fill="#111"/>
<rect x="237.81" y="617.25" width="0.9" height="0.9" fill="#fff"/>
<rect x="235.32" y="648.21" width="0.9" height="0.9" fill="#111"/>
<rect x="229.23" y="637.83" width="0.9" height="0.9" fill="#fff"/>
<rect x="239.72" y="614.86" width="0.9" height="0.9" fill="#111"/>
<rect x="229.74" y="623.27" width="0.9" height="0.9" fill="#000"/>
<rect x="226.86" y="635.64" width="0.9" height="0.9" fill="#000"/>
<rect x="238.65" y="630.02" width="0.9" height="0.9" fill="#fff"/>
<rect x="241.47" y="635.82" width="0.9" height="0.9" fill="#fff"/>
<rect x="234.16" y="624.06" width="0.9" height="0.9" fill="#fff"/>
<rect x="229.39" y="618.74" width="0.9" height="0.9" fill="#fff"/>
<rect x="227.56" y="638.86" width="0.9" height="0.9" fill="#777"/>
<rect x="235.38" y="618.93" width="0.9" height="0.9" fill="#777"/>
<rect x="238.95" y="634.97" width="0.9" height="0.9" fill="#fff"/>
<rect x="240.18" y="641.58" width="0.9" height="0.9" fill="#777"/>
<rect x="240.61" y="626.36" width="0.9" height="0.9" fill="#fff"/>
<rect x="229.41" y="632.84" width="0.9" height="0.9" fill="#000"/>
<rect x="238.31" y="619.64" width="0.9" height="0.9" fill="#000"/>
<rect x="234.17" y="621.10" width="0.9" height="0.9" fill="#777"/>
<rect x="235.24" y="616.80" width="0.9" height="0.9" fill="#fff"/>
<rect x="241.03" y="633.08" width="0.9" height="0.9" fill="#000"/>
<rect x="235.64" y="634.72" width="0.9" height="0.9" fill="#777"/>
<rect x="234.70" y="633.40" width="0.9" height="0.9" fill="#000"/>
<rect x="235.49" y="645.39" width="0.9" height="0.9" fill="#fff"/>
<rect x="231.44" y="616.12" width="0.9" height="0.9" fill="#111"/>
<rect x="237.08" y="617.52" width="0.9" height="0.9" fill="#777"/>
<rect x="239.25" y="615.98" width="0.9" height="0.9" fill="#000"/>
<rect x="227.02" y="638.24" width="0.9" height="0.9" fill="#111"/>
<rect x="230.40" y="645.43" width="0.9" height="0.9" fill="#777"/>
<rect x="227.49" y="645.33" width="0.9" height="0.9" fill="#000"/>
<rect x="237.06" y="635.88" width="0.9" height="0.9" fill="#777"/>
<rect x="227.93" y="634.99" width="0.9" height="0.9" fill="#000"/>
<rect x="229.45" y="635.69" width="0.9" height="0.9" fill="#000"/>
<rect x="236.14" y="614.88" width="0.9" height="0.9" fill="#777"/>
<rect x="237.85" y="614.73" width="0.9" height="0.9" fill="#fff"/>
<rect x="232.52" y="616.85" width="0.9" height="0.9" fill="#777"/>
<rect x="235.75" y="648.15" width="0.9" height="0.9" fill="#777"/>
<rect x="239.23" y="649.31" width="0.9" height="0.9" fill="#000"/>
<rect x="236.93" y="645.94" width="0.9" height="0.9" fill="#777"/>
<rect x="229.61" y="641.88" width="0.9" height="0.9" fill="#111"/>
<rect x="229.14" y="617.72" width="0.9" height="0.9" fill="#000"/>
<rect x="241.37" y="647.57" width="0.9" height="0.9" fill="#fff"/>
<rect x="228.81" y="617.53" width="0.9" height="0.9" fill="#111"/>
<rect x="236.37" y="627.10" width="0.9" height="0.9" fill="#111"/>
<rect x="237.67" y="614.00" width="0.9" height="0.9" fill="#111"/>
<rect x="231.97" y="614.36" width="0.9" height="0.9" fill="#000"/>
<rect x="234.72" y="648.39" width="0.9" height="0.9" fill="#777"/>
<rect x="231.78" y="615.88" width="0.9" height="0.9" fill="#fff"/>
<rect x="230.05" y="635.59" width="0.9" height="0.9" fill="#000"/>
<rect x="228.62" y="638.32" width="0.9" height="0.9" fill="#000"/>
<rect x="241.59" y="642.61" width="0.9" height="0.9" fill="#777"/>
<rect x="239.93" y="647.30" width="0.9" height="0.9" fill="#fff"/>
<rect x="228.59" y="648.63" width="0.9" height="0.9" fill="#fff"/>
<rect x="233.13" y="629.62" width="0.9" height="0.9" fill="#fff"/>
<rect x="232.06" y="631.50" width="0.9" height="0.9" fill="#777"/>
<rect x="228.10" y="629.28" width="0.9" height="0.9" fill="#fff"/>
<rect x="236.02" y="630.42" width="0.9" height="0.9" fill="#777"/>
<rect x="229.69" y="629.64" width="0.9" height="0.9" fill="#777"/>
<rect x="229.91" y="615.92" width="0.9" height="0.9" fill="#fff"/>
<rect x="229.62" y="633.38" width="0.9" height="0.9" fill="#fff"/>
<rect x="228.72" y="637.52" width="0.9" height="0.9" fill="#000"/>
<rect x="233.62" y="625.96" width="0.9" height="0.9" fill="#777"/>
<rect x="235.08" y="621.40" width="0.9" height="0.9" fill="#fff"/>
<rect x="236.69" y="616.53" width="0.9" height="0.9" fill="#777"/>
<rect x="239.86" y="630.74" width="0.9" height="0.9" fill="#fff"/>
<rect x="238.94" y="641.30" width="0.9" height="0.9" fill="#000"/>
<rect x="226.93" y="630.48" width="0.9" height="0.9" fill="#111"/>
<rect x="228.88" y="616.37" width="0.9" height="0.9" fill="#fff"/>
<rect x="230.67" y="615.31" width="0.9" height="0.9" fill="#111"/>
<rect x="234.46" y="638.77" width="0.9" height="0.9" fill="#777"/>
<rect x="232.71" y="637.17" width="0.9" height="0.9" fill="#111"/>
<rect x="232.20" y="632.11" width="0.9" height="0.9" fill="#fff"/>
<rect x="240.07" y="621.07" width="0.9" height="0.9" fill="#111"/>
<rect x="238.57" y="642.58" width="0.9" height="0.9" fill="#111"/>
<rect x="225.99" y="620.55" width="0.9" height="0.9" fill="#111"/>
<rect x="234.52" y="582.39" width="0.9" height="0.9" fill="#111"/>
<rect x="246.38" y="641.00" width="0.9" height="0.9" fill="#111"/>
<rect x="222.64" y="633.30" width="0.9" height="0.9" fill="#111"/>
<rect x="241.52" y="612.29" width="0.9" height="0.9" fill="#111"/>
<rect x="238.03" y="603.94" width="0.9" height="0.9" fill="#111"/>
<rect x="240.03" y="605.09" width="0.9" height="0.9" fill="#111"/>
<rect x="223.00" y="645.37" width="0.9" height="0.9" fill="#111"/>
<rect x="243.05" y="634.95" width="0.9" height="0.9" fill="#111"/>
<rect x="231.04" y="590.32" width="0.9" height="0.9" fill="#111"/>
<rect x="242.46" y="618.64" width="0.9" height="0.9" fill="#111"/>
<rect x="237.22" y="595.06" width="0.9" height="0.9" fill="#111"/>
<rect x="244.11" y="610.32" width="0.9" height="0.9" fill="#111"/>
<rect x="244.49" y="645.88" width="0.9" height="0.9" fill="#111"/>
<rect x="238.81" y="585.22" width="0.9" height="0.9" fill="#111"/>
<rect x="228.52" y="608.62" width="0.9" height="0.9" fill="#111"/>
<rect x="246.07" y="647.81" width="0.9" height="0.9" fill="#111"/>
<rect x="223.88" y="647.81" width="0.9" height="0.9" fill="#111"/>
<rect x="246.55" y="642.57" width="0.9" height="0.9" fill="#111"/>
<rect x="235.21" y="593.91" width="0.9" height="0.9" fill="#111"/>
<rect x="245.19" y="645.65" width="0.9" height="0.9" fill="#111"/>
<rect x="222.75" y="648.56" width="0.9" height="0.9" fill="#111"/>
<rect x="243.59" y="640.17" width="0.9" height="0.9" fill="#111"/>
<rect x="222.37" y="638.68" width="0.9" height="0.9" fill="#111"/>
<rect x="228.77" y="601.63" width="0.9" height="0.9" fill="#111"/>
<rect x="241.65" y="609.12" width="0.9" height="0.9" fill="#111"/>
<rect x="223.16" y="647.85" width="0.9" height="0.9" fill="#111"/>
<rect x="235.77" y="590.97" width="0.9" height="0.9" fill="#111"/>
<rect x="236.97" y="594.84" width="0.9" height="0.9" fill="#111"/>
<rect x="244.79" y="617.26" width="0.9" height="0.9" fill="#111"/>
<rect x="243.29" y="635.74" width="0.9" height="0.9" fill="#111"/>
<rect x="240.53" y="607.28" width="0.9" height="0.9" fill="#111"/>
<rect x="234.56" y="600.79" width="0.9" height="0.9" fill="#111"/>
<rect x="239.33" y="593.54" width="0.9" height="0.9" fill="#111"/>
<rect x="226.25" y="625.08" width="0.9" height="0.9" fill="#111"/>
<rect x="226.37" y="617.06" width="0.9" height="0.9" fill="#111"/>
<rect x="222.43" y="646.81" width="0.9" height="0.9" fill="#111"/>
<rect x="229.06" y="594.70" width="0.9" height="0.9" fill="#111"/>
<rect x="227.21" y="617.63" width="0.9" height="0.9" fill="#111"/>
<rect x="228.50" y="595.29" width="0.9" height="0.9" fill="#111"/>
<rect x="225.95" y="613.20" width="0.9" height="0.9" fill="#111"/>
<rect x="230.62" y="596.63" width="0.9" height="0.9" fill="#111"/>
<rect x="243.88" y="625.09" width="0.9" height="0.9" fill="#111"/>
<rect x="226.05" y="625.25" width="0.9" height="0.9" fill="#111"/>
<rect x="226.45" y="619.31" width="0.9" height="0.9" fill="#111"/>
<rect x="228.91" y="595.55" width="0.9" height="0.9" fill="#111"/>
<rect x="239.22" y="582.34" width="0.9" height="0.9" fill="#111"/>
<rect x="224.42" y="630.19" width="0.9" height="0.9" fill="#111"/>
<rect x="225.03" y="629.89" width="0.9" height="0.9" fill="#111"/>
<rect x="242.77" y="630.12" width="0.9" height="0.9" fill="#111"/>
<rect x="245.23" y="620.67" width="0.9" height="0.9" fill="#111"/>
<rect x="242.00" y="606.23" width="0.9" height="0.9" fill="#111"/>
<rect x="241.46" y="605.17" width="0.9" height="0.9" fill="#111"/>
<rect x="240.96" y="583.36" width="0.9" height="0.9" fill="#111"/>
<rect x="234.25" y="602.69" width="0.9" height="0.9" fill="#111"/>
<rect x="238.67" y="600.93" width="0.9" height="0.9" fill="#111"/>
<rect x="241.91" y="617.91" width="0.9" height="0.9" fill="#111"/>
<rect x="245.42" y="642.01" width="0.9" height="0.9" fill="#111"/>
<rect x="231.68" y="596.44" width="0.9" height="0.9" fill="#111"/>
<rect x="228.75" y="612.33" width="0.9" height="0.9" fill="#111"/>
<rect x="240.59" y="609.26" width="0.9" height="0.9" fill="#111"/>
<rect x="245.00" y="625.91" width="0.9" height="0.9" fill="#111"/>
<rect x="227.20" y="610.32" width="0.9" height="0.9" fill="#111"/>
<rect x="243.21" y="608.03" width="0.9" height="0.9" fill="#111"/>
<rect x="243.10" y="647.31" width="0.9" height="0.9" fill="#111"/>
<rect x="232.10" y="583.06" width="0.9" height="0.9" fill="#111"/>
<rect x="229.84" y="581.55" width="0.9" height="0.9" fill="#111"/>
<rect x="225.61" y="621.00" width="0.9" height="0.9" fill="#111"/>
<rect x="230.49" y="607.38" width="0.9" height="0.9" fill="#111"/>
<rect x="239.77" y="593.91" width="0.9" height="0.9" fill="#111"/>
<rect x="242.02" y="617.51" width="0.9" height="0.9" fill="#111"/>
<rect x="243.40" y="632.63" width="0.9" height="0.9" fill="#111"/>
<rect x="242.84" y="613.76" width="0.9" height="0.9" fill="#111"/>
<rect x="243.87" y="633.11" width="0.9" height="0.9" fill="#111"/>
<rect x="244.34" y="628.20" width="0.9" height="0.9" fill="#111"/>
<rect x="243.91" y="621.91" width="0.9" height="0.9" fill="#111"/>
<rect x="233.60" y="587.15" width="0.9" height="0.9" fill="#111"/>
<rect x="242.96" y="634.92" width="0.9" height="0.9" fill="#111"/>
<rect x="243.15" y="614.13" width="0.9" height="0.9" fill="#111"/>
<rect x="236.71" y="591.38" width="0.9" height="0.9" fill="#111"/>
<rect x="246.27" y="629.33" width="0.9" height="0.9" fill="#111"/>
<rect x="224.30" y="621.03" width="0.9" height="0.9" fill="#111"/>
<rect x="226.07" y="629.65" width="0.9" height="0.9" fill="#111"/>
<rect x="243.20" y="629.44" width="0.9" height="0.9" fill="#111"/>
<rect x="239.65" y="581.47" width="0.9" height="0.9" fill="#111"/>
<rect x="226.11" y="616.41" width="0.9" height="0.9" fill="#111"/>
<rect x="225.12" y="634.24" width="0.9" height="0.9" fill="#111"/>
<rect x="241.04" y="592.22" width="0.9" height="0.9" fill="#111"/>
<rect x="224.14" y="629.22" width="0.9" height="0.9" fill="#111"/>
<rect x="224.77" y="642.08" width="0.9" height="0.9" fill="#111"/>
<rect x="243.62" y="644.01" width="0.9" height="0.9" fill="#111"/>
<rect x="245.93" y="636.08" width="0.9" height="0.9" fill="#111"/>
<rect x="233.67" y="585.82" width="0.9" height="0.9" fill="#111"/>
<rect x="242.40" y="612.29" width="0.9" height="0.9" fill="#111"/>
<rect x="231.02" y="583.91" width="0.9" height="0.9" fill="#111"/>
<rect x="245.06" y="638.63" width="0.9" height="0.9" fill="#111"/>
<rect x="238.35" y="586.53" width="0.9" height="0.9" fill="#111"/>
<rect x="223.81" y="641.03" width="0.9" height="0.9" fill="#111"/>
<rect x="229.00" y="601.15" width="0.9" height="0.9" fill="#111"/>
<rect x="222.47" y="631.86" width="0.9" height="0.9" fill="#111"/>
<rect x="236.00" y="582.00" width="1" height="1" fill="#111"/>
<rect x="233.50" y="585.50" width="1" height="1" fill="#111"/>
<rect x="238.50" y="588.00" width="1" height="1" fill="#111"/>
<rect x="227.92" y="649.80" width="13.14" height="2.0" fill="#111" opacity="0.8"/>
<rect x="216.00" y="548.70" width="36.30" height="66.10" fill="none" stroke="#2a2a2a" stroke-width="1.0"/>
<rect x="58.50" y="548.50" width="102.40" height="103.40" fill="none" stroke="#222" stroke-width="1.0"/>
<rect x="167.60" y="548.70" width="102.80" height="103.10" fill="none" stroke="#222" stroke-width="1.0"/>
<line x1="55.50" y1="639.80" x2="58.50" y2="639.80" stroke="#333" stroke-width="0.8"/>
<line x1="55.50" y1="628.80" x2="58.50" y2="628.80" stroke="#333" stroke-width="0.8"/>
<line x1="55.50" y1="604.30" x2="58.50" y2="604.30" stroke="#333" stroke-width="0.8"/>
<line x1="55.50" y1="580.00" x2="58.50" y2="580.00" stroke="#333" stroke-width="0.8"/>
<line x1="55.50" y1="556.70" x2="58.50" y2="556.70" stroke="#333" stroke-width="0.8"/>
<line x1="56.70" y1="621.42" x2="58.50" y2="621.42" stroke="#333" stroke-width="0.6"/>
<line x1="56.70" y1="617.11" x2="58.50" y2="617.11" stroke="#333" stroke-width="0.6"/>
<line x1="56.70" y1="614.05" x2="58.50" y2="614.05" stroke="#333" stroke-width="0.6"/>
<line x1="56.70" y1="611.68" x2="58.50" y2="611.68" stroke="#333" stroke-width="0.6"/>
<line x1="56.70" y1="609.74" x2="58.50" y2="609.74" stroke="#333" stroke-width="0.6"/>
<line x1="56.70" y1="608.10" x2="58.50" y2="608.10" stroke="#333" stroke-width="0.6"/>
<line x1="56.70" y1="606.67" x2="58.50" y2="606.67" stroke="#333" stroke-width="0.6"/>
<line x1="56.70" y1="605.42" x2="58.50" y2="605.42" stroke="#333" stroke-width="0.6"/>
<line x1="56.70" y1="596.98" x2="58.50" y2="596.98" stroke="#333" stroke-width="0.6"/>
<line x1="56.70" y1="592.71" x2="58.50" y2="592.71" stroke="#333" stroke-width="0.6"/>
<line x1="56.70" y1="589.67" x2="58.50" y2="589.67" stroke="#333" stroke-width="0.6"/>
<line x1="56.70" y1="587.32" x2="58.50" y2="587.32" stroke="#333" stroke-width="0.6"/>
<line x1="56.70" y1="585.39" x2="58.50" y2="585.39" stroke="#333" stroke-width="0.6"/>
<line x1="56.70" y1="583.76" x2="58.50" y2="583.76" stroke="#333" stroke-width="0.6"/>
<line x1="56.70" y1="582.35" x2="58.50" y2="582.35" stroke="#333" stroke-width="0.6"/>
<line x1="56.70" y1="581.11" x2="58.50" y2="581.11" stroke="#333" stroke-width="0.6"/>
<line x1="56.70" y1="572.99" x2="58.50" y2="572.99" stroke="#333" stroke-width="0.6"/>
<line x1="56.70" y1="568.88" x2="58.50" y2="568.88" stroke="#333" stroke-width="0.6"/>
<line x1="56.70" y1="565.97" x2="58.50" y2="565.97" stroke="#333" stroke-width="0.6"/>
<line x1="56.70" y1="563.71" x2="58.50" y2="563.71" stroke="#333" stroke-width="0.6"/>
<line x1="56.70" y1="561.87" x2="58.50" y2="561.87" stroke="#333" stroke-width="0.6"/>
<line x1="56.70" y1="560.31" x2="58.50" y2="560.31" stroke="#333" stroke-width="0.6"/>
<line x1="56.70" y1="558.96" x2="58.50" y2="558.96" stroke="#333" stroke-width="0.6"/>
<line x1="56.70" y1="557.77" x2="58.50" y2="557.77" stroke="#333" stroke-width="0.6"/>
<line x1="56.70" y1="629.80" x2="58.50" y2="629.80" stroke="#333" stroke-width="0.6"/>
<line x1="56.70" y1="630.90" x2="58.50" y2="630.90" stroke="#333" stroke-width="0.6"/>
<line x1="56.70" y1="632.00" x2="58.50" y2="632.00" stroke="#333" stroke-width="0.6"/>
<line x1="56.70" y1="633.10" x2="58.50" y2="633.10" stroke="#333" stroke-width="0.6"/>
<line x1="56.70" y1="634.20" x2="58.50" y2="634.20" stroke="#333" stroke-width="0.6"/>
<line x1="56.70" y1="635.30" x2="58.50" y2="635.30" stroke="#333" stroke-width="0.6"/>
<line x1="56.70" y1="636.40" x2="58.50" y2="636.40" stroke="#333" stroke-width="0.6"/>
<line x1="56.70" y1="637.50" x2="58.50" y2="637.50" stroke="#333" stroke-width="0.6"/>
<line x1="56.70" y1="638.60" x2="58.50" y2="638.60" stroke="#333" stroke-width="0.6"/>
<line x1="56.70" y1="639.70" x2="58.50" y2="639.70" stroke="#333" stroke-width="0.6"/>
<line x1="56.70" y1="640.80" x2="58.50" y2="640.80" stroke="#333" stroke-width="0.6"/>
<line x1="56.70" y1="641.90" x2="58.50" y2="641.90" stroke="#333" stroke-width="0.6"/>
<line x1="56.70" y1="643.00" x2="58.50" y2="643.00" stroke="#333" stroke-width="0.6"/>
<line x1="56.70" y1="644.10" x2="58.50" y2="644.10" stroke="#333" stroke-width="0.6"/>
<line x1="56.70" y1="645.20" x2="58.50" y2="645.20" stroke="#333" stroke-width="0.6"/>
<line x1="56.70" y1="646.30" x2="58.50" y2="646.30" stroke="#333" stroke-width="0.6"/>
<line x1="56.70" y1="647.40" x2="58.50" y2="647.40" stroke="#333" stroke-width="0.6"/>
<line x1="56.70" y1="648.50" x2="58.50" y2="648.50" stroke="#333" stroke-width="0.6"/>
<line x1="56.70" y1="649.60" x2="58.50" y2="649.60" stroke="#333" stroke-width="0.6"/>
<line x1="56.70" y1="650.70" x2="58.50" y2="650.70" stroke="#333" stroke-width="0.6"/>
<text x="51.60" y="642.40" font-size="7.4" text-anchor="end" font-weight="normal" fill="#111" >0</text>
<text x="51.80" y="631.40" font-size="7.2" text-anchor="end" fill="#111">10</text>
<text x="55.00" y="628.40" font-size="5" text-anchor="end" fill="#111">2</text>
<text x="51.80" y="606.90" font-size="7.2" text-anchor="end" fill="#111">10</text>
<text x="55.00" y="603.90" font-size="5" text-anchor="end" fill="#111">3</text>
<text x="51.80" y="582.60" font-size="7.2" text-anchor="end" fill="#111">10</text>
<text x="55.00" y="579.60" font-size="5" text-anchor="end" fill="#111">4</text>
<text x="51.80" y="559.30" font-size="7.2" text-anchor="end" fill="#111">10</text>
<text x="55.00" y="556.30" font-size="5" text-anchor="end" fill="#111">5</text>
<line x1="164.60" y1="639.80" x2="167.60" y2="639.80" stroke="#333" stroke-width="0.8"/>
<line x1="164.60" y1="628.80" x2="167.60" y2="628.80" stroke="#333" stroke-width="0.8"/>
<line x1="164.60" y1="604.30" x2="167.60" y2="604.30" stroke="#333" stroke-width="0.8"/>
<line x1="164.60" y1="580.00" x2="167.60" y2="580.00" stroke="#333" stroke-width="0.8"/>
<line x1="164.60" y1="556.70" x2="167.60" y2="556.70" stroke="#333" stroke-width="0.8"/>
<line x1="165.80" y1="621.42" x2="167.60" y2="621.42" stroke="#333" stroke-width="0.6"/>
<line x1="165.80" y1="617.11" x2="167.60" y2="617.11" stroke="#333" stroke-width="0.6"/>
<line x1="165.80" y1="614.05" x2="167.60" y2="614.05" stroke="#333" stroke-width="0.6"/>
<line x1="165.80" y1="611.68" x2="167.60" y2="611.68" stroke="#333" stroke-width="0.6"/>
<line x1="165.80" y1="609.74" x2="167.60" y2="609.74" stroke="#333" stroke-width="0.6"/>
<line x1="165.80" y1="608.10" x2="167.60" y2="608.10" stroke="#333" stroke-width="0.6"/>
<line x1="165.80" y1="606.67" x2="167.60" y2="606.67" stroke="#333" stroke-width="0.6"/>
<line x1="165.80" y1="605.42" x2="167.60" y2="605.42" stroke="#333" stroke-width="0.6"/>
<line x1="165.80" y1="596.98" x2="167.60" y2="596.98" stroke="#333" stroke-width="0.6"/>
<line x1="165.80" y1="592.71" x2="167.60" y2="592.71" stroke="#333" stroke-width="0.6"/>
<line x1="165.80" y1="589.67" x2="167.60" y2="589.67" stroke="#333" stroke-width="0.6"/>
<line x1="165.80" y1="587.32" x2="167.60" y2="587.32" stroke="#333" stroke-width="0.6"/>
<line x1="165.80" y1="585.39" x2="167.60" y2="585.39" stroke="#333" stroke-width="0.6"/>
<line x1="165.80" y1="583.76" x2="167.60" y2="583.76" stroke="#333" stroke-width="0.6"/>
<line x1="165.80" y1="582.35" x2="167.60" y2="582.35" stroke="#333" stroke-width="0.6"/>
<line x1="165.80" y1="581.11" x2="167.60" y2="581.11" stroke="#333" stroke-width="0.6"/>
<line x1="165.80" y1="572.99" x2="167.60" y2="572.99" stroke="#333" stroke-width="0.6"/>
<line x1="165.80" y1="568.88" x2="167.60" y2="568.88" stroke="#333" stroke-width="0.6"/>
<line x1="165.80" y1="565.97" x2="167.60" y2="565.97" stroke="#333" stroke-width="0.6"/>
<line x1="165.80" y1="563.71" x2="167.60" y2="563.71" stroke="#333" stroke-width="0.6"/>
<line x1="165.80" y1="561.87" x2="167.60" y2="561.87" stroke="#333" stroke-width="0.6"/>
<line x1="165.80" y1="560.31" x2="167.60" y2="560.31" stroke="#333" stroke-width="0.6"/>
<line x1="165.80" y1="558.96" x2="167.60" y2="558.96" stroke="#333" stroke-width="0.6"/>
<line x1="165.80" y1="557.77" x2="167.60" y2="557.77" stroke="#333" stroke-width="0.6"/>
<line x1="165.80" y1="629.80" x2="167.60" y2="629.80" stroke="#333" stroke-width="0.6"/>
<line x1="165.80" y1="630.90" x2="167.60" y2="630.90" stroke="#333" stroke-width="0.6"/>
<line x1="165.80" y1="632.00" x2="167.60" y2="632.00" stroke="#333" stroke-width="0.6"/>
<line x1="165.80" y1="633.10" x2="167.60" y2="633.10" stroke="#333" stroke-width="0.6"/>
<line x1="165.80" y1="634.20" x2="167.60" y2="634.20" stroke="#333" stroke-width="0.6"/>
<line x1="165.80" y1="635.30" x2="167.60" y2="635.30" stroke="#333" stroke-width="0.6"/>
<line x1="165.80" y1="636.40" x2="167.60" y2="636.40" stroke="#333" stroke-width="0.6"/>
<line x1="165.80" y1="637.50" x2="167.60" y2="637.50" stroke="#333" stroke-width="0.6"/>
<line x1="165.80" y1="638.60" x2="167.60" y2="638.60" stroke="#333" stroke-width="0.6"/>
<line x1="165.80" y1="639.70" x2="167.60" y2="639.70" stroke="#333" stroke-width="0.6"/>
<line x1="165.80" y1="640.80" x2="167.60" y2="640.80" stroke="#333" stroke-width="0.6"/>
<line x1="165.80" y1="641.90" x2="167.60" y2="641.90" stroke="#333" stroke-width="0.6"/>
<line x1="165.80" y1="643.00" x2="167.60" y2="643.00" stroke="#333" stroke-width="0.6"/>
<line x1="165.80" y1="644.10" x2="167.60" y2="644.10" stroke="#333" stroke-width="0.6"/>
<line x1="165.80" y1="645.20" x2="167.60" y2="645.20" stroke="#333" stroke-width="0.6"/>
<line x1="165.80" y1="646.30" x2="167.60" y2="646.30" stroke="#333" stroke-width="0.6"/>
<line x1="165.80" y1="647.40" x2="167.60" y2="647.40" stroke="#333" stroke-width="0.6"/>
<line x1="165.80" y1="648.50" x2="167.60" y2="648.50" stroke="#333" stroke-width="0.6"/>
<line x1="165.80" y1="649.60" x2="167.60" y2="649.60" stroke="#333" stroke-width="0.6"/>
<line x1="165.80" y1="650.70" x2="167.60" y2="650.70" stroke="#333" stroke-width="0.6"/>
<line x1="59.30" y1="651.90" x2="59.30" y2="653.80" stroke="#222" stroke-width="0.75"/>
<line x1="60.35" y1="651.90" x2="60.35" y2="653.80" stroke="#222" stroke-width="0.75"/>
<line x1="61.40" y1="651.90" x2="61.40" y2="653.80" stroke="#222" stroke-width="0.75"/>
<line x1="62.45" y1="651.90" x2="62.45" y2="653.80" stroke="#222" stroke-width="0.75"/>
<line x1="63.50" y1="651.90" x2="63.50" y2="653.80" stroke="#222" stroke-width="0.75"/>
<line x1="64.55" y1="651.90" x2="64.55" y2="653.80" stroke="#222" stroke-width="0.75"/>
<line x1="65.60" y1="651.90" x2="65.60" y2="653.80" stroke="#222" stroke-width="0.75"/>
<line x1="66.65" y1="651.90" x2="66.65" y2="653.80" stroke="#222" stroke-width="0.75"/>
<line x1="67.70" y1="651.90" x2="67.70" y2="653.80" stroke="#222" stroke-width="0.75"/>
<line x1="68.75" y1="651.90" x2="68.75" y2="653.80" stroke="#222" stroke-width="0.75"/>
<line x1="69.97" y1="651.90" x2="69.97" y2="654.70" stroke="#222" stroke-width="0.75"/>
<line x1="71.57" y1="651.90" x2="71.57" y2="653.80" stroke="#222" stroke-width="0.75"/>
<line x1="72.62" y1="651.90" x2="72.62" y2="653.80" stroke="#222" stroke-width="0.75"/>
<line x1="73.67" y1="651.90" x2="73.67" y2="653.80" stroke="#222" stroke-width="0.75"/>
<line x1="74.72" y1="651.90" x2="74.72" y2="653.80" stroke="#222" stroke-width="0.75"/>
<line x1="75.77" y1="651.90" x2="75.77" y2="653.80" stroke="#222" stroke-width="0.75"/>
<line x1="76.82" y1="651.90" x2="76.82" y2="653.80" stroke="#222" stroke-width="0.75"/>
<line x1="77.87" y1="651.90" x2="77.87" y2="653.80" stroke="#222" stroke-width="0.75"/>
<line x1="78.92" y1="651.90" x2="78.92" y2="653.80" stroke="#222" stroke-width="0.75"/>
<line x1="79.97" y1="651.90" x2="79.97" y2="653.80" stroke="#222" stroke-width="0.75"/>
<line x1="88.05" y1="651.90" x2="88.05" y2="653.80" stroke="#222" stroke-width="0.75"/>
<line x1="92.21" y1="651.90" x2="92.21" y2="653.80" stroke="#222" stroke-width="0.75"/>
<line x1="95.17" y1="651.90" x2="95.17" y2="653.80" stroke="#222" stroke-width="0.75"/>
<line x1="97.46" y1="651.90" x2="97.46" y2="653.80" stroke="#222" stroke-width="0.75"/>
<line x1="99.33" y1="651.90" x2="99.33" y2="653.80" stroke="#222" stroke-width="0.75"/>
<line x1="100.92" y1="651.90" x2="100.92" y2="653.80" stroke="#222" stroke-width="0.75"/>
<line x1="102.29" y1="651.90" x2="102.29" y2="653.80" stroke="#222" stroke-width="0.75"/>
<line x1="103.50" y1="651.90" x2="103.50" y2="653.80" stroke="#222" stroke-width="0.75"/>
<line x1="111.98" y1="651.90" x2="111.98" y2="653.80" stroke="#222" stroke-width="0.75"/>
<line x1="116.31" y1="651.90" x2="116.31" y2="653.80" stroke="#222" stroke-width="0.75"/>
<line x1="119.38" y1="651.90" x2="119.38" y2="653.80" stroke="#222" stroke-width="0.75"/>
<line x1="121.76" y1="651.90" x2="121.76" y2="653.80" stroke="#222" stroke-width="0.75"/>
<line x1="123.70" y1="651.90" x2="123.70" y2="653.80" stroke="#222" stroke-width="0.75"/>
<line x1="125.35" y1="651.90" x2="125.35" y2="653.80" stroke="#222" stroke-width="0.75"/>
<line x1="126.77" y1="651.90" x2="126.77" y2="653.80" stroke="#222" stroke-width="0.75"/>
<line x1="128.03" y1="651.90" x2="128.03" y2="653.80" stroke="#222" stroke-width="0.75"/>
<line x1="135.63" y1="651.90" x2="135.63" y2="653.80" stroke="#222" stroke-width="0.75"/>
<line x1="139.42" y1="651.90" x2="139.42" y2="653.80" stroke="#222" stroke-width="0.75"/>
<line x1="142.10" y1="651.90" x2="142.10" y2="653.80" stroke="#222" stroke-width="0.75"/>
<line x1="144.19" y1="651.90" x2="144.19" y2="653.80" stroke="#222" stroke-width="0.75"/>
<line x1="145.89" y1="651.90" x2="145.89" y2="653.80" stroke="#222" stroke-width="0.75"/>
<line x1="147.33" y1="651.90" x2="147.33" y2="653.80" stroke="#222" stroke-width="0.75"/>
<line x1="148.58" y1="651.90" x2="148.58" y2="653.80" stroke="#222" stroke-width="0.75"/>
<line x1="149.68" y1="651.90" x2="149.68" y2="653.80" stroke="#222" stroke-width="0.75"/>
<line x1="80.93" y1="651.90" x2="80.93" y2="654.70" stroke="#222" stroke-width="0.75"/>
<line x1="104.58" y1="651.90" x2="104.58" y2="654.70" stroke="#222" stroke-width="0.75"/>
<line x1="129.16" y1="651.90" x2="129.16" y2="654.70" stroke="#222" stroke-width="0.75"/>
<line x1="150.66" y1="651.90" x2="150.66" y2="654.70" stroke="#222" stroke-width="0.75"/>
<line x1="157.13" y1="651.90" x2="157.13" y2="653.80" stroke="#222" stroke-width="0.75"/>
<line x1="168.40" y1="651.80" x2="168.40" y2="653.70" stroke="#222" stroke-width="0.75"/>
<line x1="169.45" y1="651.80" x2="169.45" y2="653.70" stroke="#222" stroke-width="0.75"/>
<line x1="170.50" y1="651.80" x2="170.50" y2="653.70" stroke="#222" stroke-width="0.75"/>
<line x1="171.55" y1="651.80" x2="171.55" y2="653.70" stroke="#222" stroke-width="0.75"/>
<line x1="172.60" y1="651.80" x2="172.60" y2="653.70" stroke="#222" stroke-width="0.75"/>
<line x1="173.65" y1="651.80" x2="173.65" y2="653.70" stroke="#222" stroke-width="0.75"/>
<line x1="174.70" y1="651.80" x2="174.70" y2="653.70" stroke="#222" stroke-width="0.75"/>
<line x1="175.75" y1="651.80" x2="175.75" y2="653.70" stroke="#222" stroke-width="0.75"/>
<line x1="176.80" y1="651.80" x2="176.80" y2="653.70" stroke="#222" stroke-width="0.75"/>
<line x1="177.85" y1="651.80" x2="177.85" y2="653.70" stroke="#222" stroke-width="0.75"/>
<line x1="179.11" y1="651.80" x2="179.11" y2="654.60" stroke="#222" stroke-width="0.75"/>
<line x1="180.71" y1="651.80" x2="180.71" y2="653.70" stroke="#222" stroke-width="0.75"/>
<line x1="181.76" y1="651.80" x2="181.76" y2="653.70" stroke="#222" stroke-width="0.75"/>
<line x1="182.81" y1="651.80" x2="182.81" y2="653.70" stroke="#222" stroke-width="0.75"/>
<line x1="183.86" y1="651.80" x2="183.86" y2="653.70" stroke="#222" stroke-width="0.75"/>
<line x1="184.91" y1="651.80" x2="184.91" y2="653.70" stroke="#222" stroke-width="0.75"/>
<line x1="185.96" y1="651.80" x2="185.96" y2="653.70" stroke="#222" stroke-width="0.75"/>
<line x1="187.01" y1="651.80" x2="187.01" y2="653.70" stroke="#222" stroke-width="0.75"/>
<line x1="188.06" y1="651.80" x2="188.06" y2="653.70" stroke="#222" stroke-width="0.75"/>
<line x1="189.11" y1="651.80" x2="189.11" y2="653.70" stroke="#222" stroke-width="0.75"/>
<line x1="197.26" y1="651.80" x2="197.26" y2="653.70" stroke="#222" stroke-width="0.75"/>
<line x1="201.44" y1="651.80" x2="201.44" y2="653.70" stroke="#222" stroke-width="0.75"/>
<line x1="204.41" y1="651.80" x2="204.41" y2="653.70" stroke="#222" stroke-width="0.75"/>
<line x1="206.71" y1="651.80" x2="206.71" y2="653.70" stroke="#222" stroke-width="0.75"/>
<line x1="208.59" y1="651.80" x2="208.59" y2="653.70" stroke="#222" stroke-width="0.75"/>
<line x1="210.18" y1="651.80" x2="210.18" y2="653.70" stroke="#222" stroke-width="0.75"/>
<line x1="211.56" y1="651.80" x2="211.56" y2="653.70" stroke="#222" stroke-width="0.75"/>
<line x1="212.77" y1="651.80" x2="212.77" y2="653.70" stroke="#222" stroke-width="0.75"/>
<line x1="221.29" y1="651.80" x2="221.29" y2="653.70" stroke="#222" stroke-width="0.75"/>
<line x1="225.63" y1="651.80" x2="225.63" y2="653.70" stroke="#222" stroke-width="0.75"/>
<line x1="228.71" y1="651.80" x2="228.71" y2="653.70" stroke="#222" stroke-width="0.75"/>
<line x1="231.10" y1="651.80" x2="231.10" y2="653.70" stroke="#222" stroke-width="0.75"/>
<line x1="233.06" y1="651.80" x2="233.06" y2="653.70" stroke="#222" stroke-width="0.75"/>
<line x1="234.71" y1="651.80" x2="234.71" y2="653.70" stroke="#222" stroke-width="0.75"/>
<line x1="236.14" y1="651.80" x2="236.14" y2="653.70" stroke="#222" stroke-width="0.75"/>
<line x1="237.40" y1="651.80" x2="237.40" y2="653.70" stroke="#222" stroke-width="0.75"/>
<line x1="245.03" y1="651.80" x2="245.03" y2="653.70" stroke="#222" stroke-width="0.75"/>
<line x1="248.83" y1="651.80" x2="248.83" y2="653.70" stroke="#222" stroke-width="0.75"/>
<line x1="251.53" y1="651.80" x2="251.53" y2="653.70" stroke="#222" stroke-width="0.75"/>
<line x1="253.62" y1="651.80" x2="253.62" y2="653.70" stroke="#222" stroke-width="0.75"/>
<line x1="255.33" y1="651.80" x2="255.33" y2="653.70" stroke="#222" stroke-width="0.75"/>
<line x1="256.78" y1="651.80" x2="256.78" y2="653.70" stroke="#222" stroke-width="0.75"/>
<line x1="258.03" y1="651.80" x2="258.03" y2="653.70" stroke="#222" stroke-width="0.75"/>
<line x1="259.13" y1="651.80" x2="259.13" y2="653.70" stroke="#222" stroke-width="0.75"/>
<line x1="190.11" y1="651.80" x2="190.11" y2="654.60" stroke="#222" stroke-width="0.75"/>
<line x1="213.86" y1="651.80" x2="213.86" y2="654.60" stroke="#222" stroke-width="0.75"/>
<line x1="238.53" y1="651.80" x2="238.53" y2="654.60" stroke="#222" stroke-width="0.75"/>
<line x1="260.12" y1="651.80" x2="260.12" y2="654.60" stroke="#222" stroke-width="0.75"/>
<line x1="266.62" y1="651.80" x2="266.62" y2="653.70" stroke="#222" stroke-width="0.75"/>
<text x="69.97" y="661.80" font-size="7.6" text-anchor="middle" font-weight="normal" fill="#111" >0</text>
<text x="80.93" y="661.80" font-size="7.6" text-anchor="middle" font-weight="normal" fill="#111" >10<tspan dy="-2.8" font-size="5.4">2</tspan></text>
<text x="104.58" y="661.80" font-size="7.6" text-anchor="middle" font-weight="normal" fill="#111" >10<tspan dy="-2.8" font-size="5.4">3</tspan></text>
<text x="129.16" y="661.80" font-size="7.6" text-anchor="middle" font-weight="normal" fill="#111" >10<tspan dy="-2.8" font-size="5.4">4</tspan></text>
<text x="150.66" y="661.80" font-size="7.6" text-anchor="middle" font-weight="normal" fill="#111" >10<tspan dy="-2.8" font-size="5.4">5</tspan></text>
<text x="179.11" y="661.80" font-size="7.6" text-anchor="middle" font-weight="normal" fill="#111" >0</text>
<text x="190.11" y="661.80" font-size="7.6" text-anchor="middle" font-weight="normal" fill="#111" >10<tspan dy="-2.8" font-size="5.4">2</tspan></text>
<text x="213.86" y="661.80" font-size="7.6" text-anchor="middle" font-weight="normal" fill="#111" >10<tspan dy="-2.8" font-size="5.4">3</tspan></text>
<text x="238.53" y="661.80" font-size="7.6" text-anchor="middle" font-weight="normal" fill="#111" >10<tspan dy="-2.8" font-size="5.4">4</tspan></text>
<text x="260.12" y="661.80" font-size="7.6" text-anchor="middle" font-weight="normal" fill="#111" >10<tspan dy="-2.8" font-size="5.4">5</tspan></text>
<text x="91.70" y="559.00" font-size="9.2" text-anchor="start" font-weight="normal" fill="#111" >14</text>
<text x="199.30" y="559.60" font-size="9.2" text-anchor="start" font-weight="normal" fill="#111" >7.8</text>
<text x="109.60" y="544.60" font-size="9.0" text-anchor="middle" font-weight="normal" fill="#111" >WT</text>
<text x="219.50" y="545.00" font-size="9.0" text-anchor="middle" font-weight="normal" fill="#111" >KO</text>
<text transform="translate(39.20,600.30) rotate(-90)" x="-6.60" y="0" font-size="9.0" font-weight="normal" fill="#111" style="stroke-width:0.4" textLength="13.2" lengthAdjust="spacingAndGlyphs">Glut1</text>
<text x="62.00" y="671.40" font-size="7.6" fill="#111" textLength="15.2" lengthAdjust="spacingAndGlyphs">CD4</text>
<line x1="80.80" y1="669.50" x2="263.00" y2="669.50" stroke="#222" stroke-width="1.0"/>
<path d="M266.00,669.50 L261.00,667.30 L261.00,671.70 Z" fill="#222"/>
<rect x="0" y="0" width="520" height="1.1" fill="#000"/><rect x="0" y="676.8" width="520" height="1.2" fill="#000"/><rect x="0" y="0" width="1.2" height="678" fill="#000"/><rect x="518.8" y="0" width="1.2" height="678" fill="#000"/>
</svg>
</body></html>
